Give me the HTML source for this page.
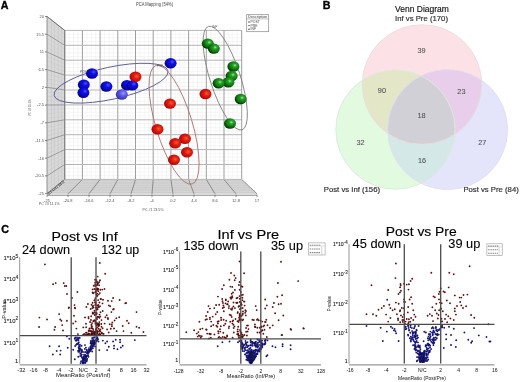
<!DOCTYPE html>
<html><head><meta charset="utf-8"><style>
html,body{margin:0;padding:0;background:#fff;width:520px;height:382px;overflow:hidden}
svg{display:block;font-family:"Liberation Sans", sans-serif;filter:blur(0.35px)}
</style></head><body>
<svg width="520" height="382" viewBox="0 0 520 382" font-family='"Liberation Sans", sans-serif'>
<text x="0.80" y="8.80" font-size="10.7" fill="#000" text-anchor="start" font-weight="bold" stroke="#000" stroke-width="0.35">A</text>
<text x="154.50" y="6.20" font-size="4.6" fill="#444" text-anchor="middle" font-weight="normal" textLength="37" lengthAdjust="spacingAndGlyphs" >PCA Mapping (54%)</text>
<polygon points="47.0,16.5 64.7,30.4 64.7,179.4 47.0,193.6" fill="#d9d9d9"/>
<line x1="51.50" y1="20.03" x2="51.50" y2="189.99" stroke="#c4c4c4" stroke-width="0.6" />
<line x1="54.50" y1="22.39" x2="54.50" y2="187.58" stroke="#c4c4c4" stroke-width="0.6" />
<line x1="58.30" y1="25.37" x2="58.30" y2="184.53" stroke="#c4c4c4" stroke-width="0.6" />
<line x1="61.50" y1="27.89" x2="61.50" y2="181.97" stroke="#c4c4c4" stroke-width="0.6" />
<line x1="47.00" y1="16.50" x2="64.70" y2="30.40" stroke="#8a8a8a" stroke-width="0.8" />
<line x1="47.00" y1="20.93" x2="64.70" y2="34.12" stroke="#c8c8c8" stroke-width="0.5" />
<line x1="47.00" y1="25.36" x2="64.70" y2="37.85" stroke="#c8c8c8" stroke-width="0.5" />
<line x1="47.00" y1="29.78" x2="64.70" y2="41.58" stroke="#c8c8c8" stroke-width="0.5" />
<line x1="47.00" y1="34.21" x2="64.70" y2="45.30" stroke="#8a8a8a" stroke-width="0.8" />
<line x1="47.00" y1="38.64" x2="64.70" y2="49.02" stroke="#c8c8c8" stroke-width="0.5" />
<line x1="47.00" y1="43.06" x2="64.70" y2="52.75" stroke="#c8c8c8" stroke-width="0.5" />
<line x1="47.00" y1="47.49" x2="64.70" y2="56.47" stroke="#c8c8c8" stroke-width="0.5" />
<line x1="47.00" y1="51.92" x2="64.70" y2="60.20" stroke="#8a8a8a" stroke-width="0.8" />
<line x1="47.00" y1="56.35" x2="64.70" y2="63.93" stroke="#c8c8c8" stroke-width="0.5" />
<line x1="47.00" y1="60.78" x2="64.70" y2="67.65" stroke="#c8c8c8" stroke-width="0.5" />
<line x1="47.00" y1="65.20" x2="64.70" y2="71.38" stroke="#c8c8c8" stroke-width="0.5" />
<line x1="47.00" y1="69.63" x2="64.70" y2="75.10" stroke="#8a8a8a" stroke-width="0.8" />
<line x1="47.00" y1="74.06" x2="64.70" y2="78.82" stroke="#c8c8c8" stroke-width="0.5" />
<line x1="47.00" y1="78.48" x2="64.70" y2="82.55" stroke="#c8c8c8" stroke-width="0.5" />
<line x1="47.00" y1="82.91" x2="64.70" y2="86.27" stroke="#c8c8c8" stroke-width="0.5" />
<line x1="47.00" y1="87.34" x2="64.70" y2="90.00" stroke="#8a8a8a" stroke-width="0.8" />
<line x1="47.00" y1="91.77" x2="64.70" y2="93.72" stroke="#c8c8c8" stroke-width="0.5" />
<line x1="47.00" y1="96.20" x2="64.70" y2="97.45" stroke="#c8c8c8" stroke-width="0.5" />
<line x1="47.00" y1="100.62" x2="64.70" y2="101.17" stroke="#c8c8c8" stroke-width="0.5" />
<line x1="47.00" y1="105.05" x2="64.70" y2="104.90" stroke="#8a8a8a" stroke-width="0.8" />
<line x1="47.00" y1="109.48" x2="64.70" y2="108.62" stroke="#c8c8c8" stroke-width="0.5" />
<line x1="47.00" y1="113.91" x2="64.70" y2="112.35" stroke="#c8c8c8" stroke-width="0.5" />
<line x1="47.00" y1="118.33" x2="64.70" y2="116.08" stroke="#c8c8c8" stroke-width="0.5" />
<line x1="47.00" y1="122.76" x2="64.70" y2="119.80" stroke="#8a8a8a" stroke-width="0.8" />
<line x1="47.00" y1="127.19" x2="64.70" y2="123.53" stroke="#c8c8c8" stroke-width="0.5" />
<line x1="47.00" y1="131.61" x2="64.70" y2="127.25" stroke="#c8c8c8" stroke-width="0.5" />
<line x1="47.00" y1="136.04" x2="64.70" y2="130.98" stroke="#c8c8c8" stroke-width="0.5" />
<line x1="47.00" y1="140.47" x2="64.70" y2="134.70" stroke="#8a8a8a" stroke-width="0.8" />
<line x1="47.00" y1="144.90" x2="64.70" y2="138.42" stroke="#c8c8c8" stroke-width="0.5" />
<line x1="47.00" y1="149.32" x2="64.70" y2="142.15" stroke="#c8c8c8" stroke-width="0.5" />
<line x1="47.00" y1="153.75" x2="64.70" y2="145.88" stroke="#c8c8c8" stroke-width="0.5" />
<line x1="47.00" y1="158.18" x2="64.70" y2="149.60" stroke="#8a8a8a" stroke-width="0.8" />
<line x1="47.00" y1="162.61" x2="64.70" y2="153.32" stroke="#c8c8c8" stroke-width="0.5" />
<line x1="47.00" y1="167.03" x2="64.70" y2="157.05" stroke="#c8c8c8" stroke-width="0.5" />
<line x1="47.00" y1="171.46" x2="64.70" y2="160.78" stroke="#c8c8c8" stroke-width="0.5" />
<line x1="47.00" y1="175.89" x2="64.70" y2="164.50" stroke="#8a8a8a" stroke-width="0.8" />
<line x1="47.00" y1="180.32" x2="64.70" y2="168.22" stroke="#c8c8c8" stroke-width="0.5" />
<line x1="47.00" y1="184.74" x2="64.70" y2="171.95" stroke="#c8c8c8" stroke-width="0.5" />
<line x1="47.00" y1="189.17" x2="64.70" y2="175.68" stroke="#c8c8c8" stroke-width="0.5" />
<line x1="47.00" y1="193.60" x2="64.70" y2="179.40" stroke="#8a8a8a" stroke-width="0.8" />
<polygon points="47.0,193.8 64.7,179.4 241.7,179.4 257.0,193.8" fill="#cdcdcd"/>
<line x1="61.75" y1="181.80" x2="244.25" y2="181.80" stroke="#dedede" stroke-width="0.5" />
<line x1="58.80" y1="184.20" x2="246.80" y2="184.20" stroke="#dedede" stroke-width="0.5" />
<line x1="55.85" y1="186.60" x2="249.35" y2="186.60" stroke="#dedede" stroke-width="0.5" />
<line x1="52.90" y1="189.00" x2="251.90" y2="189.00" stroke="#dedede" stroke-width="0.5" />
<line x1="49.95" y1="191.40" x2="254.45" y2="191.40" stroke="#dedede" stroke-width="0.5" />
<line x1="64.70" y1="179.40" x2="47.00" y2="193.80" stroke="#7a7a7a" stroke-width="0.8" />
<line x1="82.40" y1="179.40" x2="68.00" y2="193.80" stroke="#7a7a7a" stroke-width="0.8" />
<line x1="100.10" y1="179.40" x2="89.00" y2="193.80" stroke="#7a7a7a" stroke-width="0.8" />
<line x1="117.80" y1="179.40" x2="110.00" y2="193.80" stroke="#7a7a7a" stroke-width="0.8" />
<line x1="135.50" y1="179.40" x2="131.00" y2="193.80" stroke="#7a7a7a" stroke-width="0.8" />
<line x1="153.20" y1="179.40" x2="152.00" y2="193.80" stroke="#7a7a7a" stroke-width="0.8" />
<line x1="170.90" y1="179.40" x2="173.00" y2="193.80" stroke="#7a7a7a" stroke-width="0.8" />
<line x1="188.60" y1="179.40" x2="194.00" y2="193.80" stroke="#7a7a7a" stroke-width="0.8" />
<line x1="206.30" y1="179.40" x2="215.00" y2="193.80" stroke="#7a7a7a" stroke-width="0.8" />
<line x1="224.00" y1="179.40" x2="236.00" y2="193.80" stroke="#7a7a7a" stroke-width="0.8" />
<line x1="241.70" y1="179.40" x2="257.00" y2="193.80" stroke="#7a7a7a" stroke-width="0.8" />
<rect x="47.0" y="194.6" width="210.0" height="1.4" fill="#a8a8a8"/>
<line x1="47.00" y1="194.60" x2="47.00" y2="197.20" stroke="#555" stroke-width="0.6" />
<line x1="68.00" y1="194.60" x2="68.00" y2="197.20" stroke="#555" stroke-width="0.6" />
<line x1="89.00" y1="194.60" x2="89.00" y2="197.20" stroke="#555" stroke-width="0.6" />
<line x1="110.00" y1="194.60" x2="110.00" y2="197.20" stroke="#555" stroke-width="0.6" />
<line x1="131.00" y1="194.60" x2="131.00" y2="197.20" stroke="#555" stroke-width="0.6" />
<line x1="152.00" y1="194.60" x2="152.00" y2="197.20" stroke="#555" stroke-width="0.6" />
<line x1="173.00" y1="194.60" x2="173.00" y2="197.20" stroke="#555" stroke-width="0.6" />
<line x1="194.00" y1="194.60" x2="194.00" y2="197.20" stroke="#555" stroke-width="0.6" />
<line x1="215.00" y1="194.60" x2="215.00" y2="197.20" stroke="#555" stroke-width="0.6" />
<line x1="236.00" y1="194.60" x2="236.00" y2="197.20" stroke="#555" stroke-width="0.6" />
<line x1="257.00" y1="194.60" x2="257.00" y2="197.20" stroke="#555" stroke-width="0.6" />
<rect x="64.7" y="30.4" width="177.0" height="149.0" fill="#ffffff"/>
<line x1="69.12" y1="30.40" x2="69.12" y2="179.40" stroke="#ececec" stroke-width="0.5" />
<line x1="64.70" y1="34.12" x2="241.70" y2="34.12" stroke="#ececec" stroke-width="0.5" />
<line x1="73.55" y1="30.40" x2="73.55" y2="179.40" stroke="#ececec" stroke-width="0.5" />
<line x1="64.70" y1="37.85" x2="241.70" y2="37.85" stroke="#ececec" stroke-width="0.5" />
<line x1="77.97" y1="30.40" x2="77.97" y2="179.40" stroke="#ececec" stroke-width="0.5" />
<line x1="64.70" y1="41.58" x2="241.70" y2="41.58" stroke="#ececec" stroke-width="0.5" />
<line x1="86.83" y1="30.40" x2="86.83" y2="179.40" stroke="#ececec" stroke-width="0.5" />
<line x1="64.70" y1="49.02" x2="241.70" y2="49.02" stroke="#ececec" stroke-width="0.5" />
<line x1="91.25" y1="30.40" x2="91.25" y2="179.40" stroke="#ececec" stroke-width="0.5" />
<line x1="64.70" y1="52.75" x2="241.70" y2="52.75" stroke="#ececec" stroke-width="0.5" />
<line x1="95.67" y1="30.40" x2="95.67" y2="179.40" stroke="#ececec" stroke-width="0.5" />
<line x1="64.70" y1="56.47" x2="241.70" y2="56.47" stroke="#ececec" stroke-width="0.5" />
<line x1="104.53" y1="30.40" x2="104.53" y2="179.40" stroke="#ececec" stroke-width="0.5" />
<line x1="64.70" y1="63.92" x2="241.70" y2="63.92" stroke="#ececec" stroke-width="0.5" />
<line x1="108.95" y1="30.40" x2="108.95" y2="179.40" stroke="#ececec" stroke-width="0.5" />
<line x1="64.70" y1="67.65" x2="241.70" y2="67.65" stroke="#ececec" stroke-width="0.5" />
<line x1="113.38" y1="30.40" x2="113.38" y2="179.40" stroke="#ececec" stroke-width="0.5" />
<line x1="64.70" y1="71.38" x2="241.70" y2="71.38" stroke="#ececec" stroke-width="0.5" />
<line x1="122.22" y1="30.40" x2="122.22" y2="179.40" stroke="#ececec" stroke-width="0.5" />
<line x1="64.70" y1="78.83" x2="241.70" y2="78.83" stroke="#ececec" stroke-width="0.5" />
<line x1="126.65" y1="30.40" x2="126.65" y2="179.40" stroke="#ececec" stroke-width="0.5" />
<line x1="64.70" y1="82.55" x2="241.70" y2="82.55" stroke="#ececec" stroke-width="0.5" />
<line x1="131.07" y1="30.40" x2="131.07" y2="179.40" stroke="#ececec" stroke-width="0.5" />
<line x1="64.70" y1="86.28" x2="241.70" y2="86.28" stroke="#ececec" stroke-width="0.5" />
<line x1="139.93" y1="30.40" x2="139.93" y2="179.40" stroke="#ececec" stroke-width="0.5" />
<line x1="64.70" y1="93.72" x2="241.70" y2="93.72" stroke="#ececec" stroke-width="0.5" />
<line x1="144.35" y1="30.40" x2="144.35" y2="179.40" stroke="#ececec" stroke-width="0.5" />
<line x1="64.70" y1="97.45" x2="241.70" y2="97.45" stroke="#ececec" stroke-width="0.5" />
<line x1="148.78" y1="30.40" x2="148.78" y2="179.40" stroke="#ececec" stroke-width="0.5" />
<line x1="64.70" y1="101.18" x2="241.70" y2="101.18" stroke="#ececec" stroke-width="0.5" />
<line x1="157.62" y1="30.40" x2="157.62" y2="179.40" stroke="#ececec" stroke-width="0.5" />
<line x1="64.70" y1="108.62" x2="241.70" y2="108.62" stroke="#ececec" stroke-width="0.5" />
<line x1="162.05" y1="30.40" x2="162.05" y2="179.40" stroke="#ececec" stroke-width="0.5" />
<line x1="64.70" y1="112.35" x2="241.70" y2="112.35" stroke="#ececec" stroke-width="0.5" />
<line x1="166.47" y1="30.40" x2="166.47" y2="179.40" stroke="#ececec" stroke-width="0.5" />
<line x1="64.70" y1="116.07" x2="241.70" y2="116.07" stroke="#ececec" stroke-width="0.5" />
<line x1="175.32" y1="30.40" x2="175.32" y2="179.40" stroke="#ececec" stroke-width="0.5" />
<line x1="64.70" y1="123.53" x2="241.70" y2="123.53" stroke="#ececec" stroke-width="0.5" />
<line x1="179.75" y1="30.40" x2="179.75" y2="179.40" stroke="#ececec" stroke-width="0.5" />
<line x1="64.70" y1="127.25" x2="241.70" y2="127.25" stroke="#ececec" stroke-width="0.5" />
<line x1="184.18" y1="30.40" x2="184.18" y2="179.40" stroke="#ececec" stroke-width="0.5" />
<line x1="64.70" y1="130.97" x2="241.70" y2="130.97" stroke="#ececec" stroke-width="0.5" />
<line x1="193.02" y1="30.40" x2="193.02" y2="179.40" stroke="#ececec" stroke-width="0.5" />
<line x1="64.70" y1="138.43" x2="241.70" y2="138.43" stroke="#ececec" stroke-width="0.5" />
<line x1="197.45" y1="30.40" x2="197.45" y2="179.40" stroke="#ececec" stroke-width="0.5" />
<line x1="64.70" y1="142.15" x2="241.70" y2="142.15" stroke="#ececec" stroke-width="0.5" />
<line x1="201.88" y1="30.40" x2="201.88" y2="179.40" stroke="#ececec" stroke-width="0.5" />
<line x1="64.70" y1="145.88" x2="241.70" y2="145.88" stroke="#ececec" stroke-width="0.5" />
<line x1="210.73" y1="30.40" x2="210.73" y2="179.40" stroke="#ececec" stroke-width="0.5" />
<line x1="64.70" y1="153.32" x2="241.70" y2="153.32" stroke="#ececec" stroke-width="0.5" />
<line x1="215.15" y1="30.40" x2="215.15" y2="179.40" stroke="#ececec" stroke-width="0.5" />
<line x1="64.70" y1="157.05" x2="241.70" y2="157.05" stroke="#ececec" stroke-width="0.5" />
<line x1="219.57" y1="30.40" x2="219.57" y2="179.40" stroke="#ececec" stroke-width="0.5" />
<line x1="64.70" y1="160.78" x2="241.70" y2="160.78" stroke="#ececec" stroke-width="0.5" />
<line x1="228.43" y1="30.40" x2="228.43" y2="179.40" stroke="#ececec" stroke-width="0.5" />
<line x1="64.70" y1="168.23" x2="241.70" y2="168.23" stroke="#ececec" stroke-width="0.5" />
<line x1="232.85" y1="30.40" x2="232.85" y2="179.40" stroke="#ececec" stroke-width="0.5" />
<line x1="64.70" y1="171.95" x2="241.70" y2="171.95" stroke="#ececec" stroke-width="0.5" />
<line x1="237.27" y1="30.40" x2="237.27" y2="179.40" stroke="#ececec" stroke-width="0.5" />
<line x1="64.70" y1="175.68" x2="241.70" y2="175.68" stroke="#ececec" stroke-width="0.5" />
<line x1="64.70" y1="30.40" x2="64.70" y2="179.40" stroke="#8c8c8c" stroke-width="0.85" />
<line x1="64.70" y1="30.40" x2="241.70" y2="30.40" stroke="#b6b6b6" stroke-width="1.0" />
<line x1="82.40" y1="30.40" x2="82.40" y2="179.40" stroke="#8c8c8c" stroke-width="0.85" />
<line x1="64.70" y1="45.30" x2="241.70" y2="45.30" stroke="#b6b6b6" stroke-width="1.0" />
<line x1="100.10" y1="30.40" x2="100.10" y2="179.40" stroke="#8c8c8c" stroke-width="0.85" />
<line x1="64.70" y1="60.20" x2="241.70" y2="60.20" stroke="#b6b6b6" stroke-width="1.0" />
<line x1="117.80" y1="30.40" x2="117.80" y2="179.40" stroke="#8c8c8c" stroke-width="0.85" />
<line x1="64.70" y1="75.10" x2="241.70" y2="75.10" stroke="#b6b6b6" stroke-width="1.0" />
<line x1="135.50" y1="30.40" x2="135.50" y2="179.40" stroke="#8c8c8c" stroke-width="0.85" />
<line x1="64.70" y1="90.00" x2="241.70" y2="90.00" stroke="#b6b6b6" stroke-width="1.0" />
<line x1="153.20" y1="30.40" x2="153.20" y2="179.40" stroke="#8c8c8c" stroke-width="0.85" />
<line x1="64.70" y1="104.90" x2="241.70" y2="104.90" stroke="#b6b6b6" stroke-width="1.0" />
<line x1="170.90" y1="30.40" x2="170.90" y2="179.40" stroke="#8c8c8c" stroke-width="0.85" />
<line x1="64.70" y1="119.80" x2="241.70" y2="119.80" stroke="#b6b6b6" stroke-width="1.0" />
<line x1="188.60" y1="30.40" x2="188.60" y2="179.40" stroke="#8c8c8c" stroke-width="0.85" />
<line x1="64.70" y1="134.70" x2="241.70" y2="134.70" stroke="#b6b6b6" stroke-width="1.0" />
<line x1="206.30" y1="30.40" x2="206.30" y2="179.40" stroke="#8c8c8c" stroke-width="0.85" />
<line x1="64.70" y1="149.60" x2="241.70" y2="149.60" stroke="#b6b6b6" stroke-width="1.0" />
<line x1="224.00" y1="30.40" x2="224.00" y2="179.40" stroke="#8c8c8c" stroke-width="0.85" />
<line x1="64.70" y1="164.50" x2="241.70" y2="164.50" stroke="#b6b6b6" stroke-width="1.0" />
<line x1="241.70" y1="30.40" x2="241.70" y2="179.40" stroke="#8c8c8c" stroke-width="0.85" />
<line x1="64.70" y1="179.40" x2="241.70" y2="179.40" stroke="#b6b6b6" stroke-width="1.0" />
<line x1="64.70" y1="29.90" x2="64.70" y2="179.40" stroke="#808080" stroke-width="1.1" />
<line x1="47.00" y1="16.50" x2="47.00" y2="193.60" stroke="#909090" stroke-width="1.0" />
<line x1="47.00" y1="16.50" x2="64.70" y2="30.40" stroke="#707070" stroke-width="0.9" />
<line x1="45.00" y1="16.50" x2="47.00" y2="16.50" stroke="#555" stroke-width="0.7" />
<text x="44.00" y="17.90" font-size="4.0" fill="#555" text-anchor="end" font-weight="normal" >20</text>
<line x1="45.00" y1="34.21" x2="47.00" y2="34.21" stroke="#555" stroke-width="0.7" />
<text x="44.00" y="35.61" font-size="4.0" fill="#555" text-anchor="end" font-weight="normal" >15.5</text>
<line x1="45.00" y1="51.92" x2="47.00" y2="51.92" stroke="#555" stroke-width="0.7" />
<text x="44.00" y="53.32" font-size="4.0" fill="#555" text-anchor="end" font-weight="normal" >11</text>
<line x1="45.00" y1="69.63" x2="47.00" y2="69.63" stroke="#555" stroke-width="0.7" />
<text x="44.00" y="71.03" font-size="4.0" fill="#555" text-anchor="end" font-weight="normal" >6.5</text>
<line x1="45.00" y1="87.34" x2="47.00" y2="87.34" stroke="#555" stroke-width="0.7" />
<text x="44.00" y="88.74" font-size="4.0" fill="#555" text-anchor="end" font-weight="normal" >2</text>
<line x1="45.00" y1="105.05" x2="47.00" y2="105.05" stroke="#555" stroke-width="0.7" />
<text x="44.00" y="106.45" font-size="4.0" fill="#555" text-anchor="end" font-weight="normal" >-2.5</text>
<line x1="45.00" y1="122.76" x2="47.00" y2="122.76" stroke="#555" stroke-width="0.7" />
<text x="44.00" y="124.16" font-size="4.0" fill="#555" text-anchor="end" font-weight="normal" >-7</text>
<line x1="45.00" y1="140.47" x2="47.00" y2="140.47" stroke="#555" stroke-width="0.7" />
<text x="44.00" y="141.87" font-size="4.0" fill="#555" text-anchor="end" font-weight="normal" >-11.5</text>
<line x1="45.00" y1="158.18" x2="47.00" y2="158.18" stroke="#555" stroke-width="0.7" />
<text x="44.00" y="159.58" font-size="4.0" fill="#555" text-anchor="end" font-weight="normal" >-16</text>
<line x1="45.00" y1="175.89" x2="47.00" y2="175.89" stroke="#555" stroke-width="0.7" />
<text x="44.00" y="177.29" font-size="4.0" fill="#555" text-anchor="end" font-weight="normal" >-20.5</text>
<line x1="45.00" y1="193.60" x2="47.00" y2="193.60" stroke="#555" stroke-width="0.7" />
<text x="44.00" y="195.00" font-size="4.0" fill="#555" text-anchor="end" font-weight="normal" >-25</text>
<text x="47.00" y="201.50" font-size="4.0" fill="#555" text-anchor="middle" font-weight="normal" >-25</text>
<text x="68.00" y="201.50" font-size="4.0" fill="#555" text-anchor="middle" font-weight="normal" >-20.8</text>
<text x="89.00" y="201.50" font-size="4.0" fill="#555" text-anchor="middle" font-weight="normal" >-16.6</text>
<text x="110.00" y="201.50" font-size="4.0" fill="#555" text-anchor="middle" font-weight="normal" >-12.4</text>
<text x="131.00" y="201.50" font-size="4.0" fill="#555" text-anchor="middle" font-weight="normal" >-8.2</text>
<text x="152.00" y="201.50" font-size="4.0" fill="#555" text-anchor="middle" font-weight="normal" >-4</text>
<text x="173.00" y="201.50" font-size="4.0" fill="#555" text-anchor="middle" font-weight="normal" >0.2</text>
<text x="194.00" y="201.50" font-size="4.0" fill="#555" text-anchor="middle" font-weight="normal" >4.4</text>
<text x="215.00" y="201.50" font-size="4.0" fill="#555" text-anchor="middle" font-weight="normal" >8.6</text>
<text x="236.00" y="201.50" font-size="4.0" fill="#555" text-anchor="middle" font-weight="normal" >12.8</text>
<text x="257.00" y="201.50" font-size="4.0" fill="#555" text-anchor="middle" font-weight="normal" >17</text>
<text x="153.00" y="210.80" font-size="4.0" fill="#555" text-anchor="middle" font-weight="normal" textLength="21" lengthAdjust="spacingAndGlyphs" >PC #1 23.5%</text>
<text x="49.30" y="204.50" font-size="4.0" fill="#555" text-anchor="middle" font-weight="normal" textLength="21" lengthAdjust="spacingAndGlyphs" >PC #3 11.1%</text>
<text x="0" y="0" font-size="4.0" fill="#555" text-anchor="middle" transform="translate(30.8,107.5) rotate(-90)" textLength="16" lengthAdjust="spacingAndGlyphs">PC #2 15.1%</text>
<text x="0" y="0" font-size="3.6" font-weight="bold" fill="#222" transform="translate(48.3,195.4) rotate(-38.7)" textLength="21" lengthAdjust="spacingAndGlyphs">-12.9 -4.4 4.1 12.6 21</text>
<rect x="246.7" y="14.7" width="22" height="17" fill="#fff" stroke="#888" stroke-width="0.7"/>
<line x1="246.70" y1="18.90" x2="268.70" y2="18.90" stroke="#888" stroke-width="0.5" />
<text x="257.70" y="18.20" font-size="3.4" fill="#444" text-anchor="middle" font-weight="normal" textLength="19" lengthAdjust="spacingAndGlyphs" >Description</text>
<circle cx="249" cy="22.00" r="0.7" fill="#222"/>
<text x="250.50" y="23.00" font-size="3.4" fill="#444" text-anchor="start" font-weight="normal" >POST</text>
<circle cx="249" cy="25.60" r="0.7" fill="#222"/>
<text x="250.50" y="26.60" font-size="3.4" fill="#444" text-anchor="start" font-weight="normal" >PRE</text>
<circle cx="249" cy="29.20" r="0.7" fill="#222"/>
<text x="250.50" y="30.20" font-size="3.4" fill="#444" text-anchor="start" font-weight="normal" >INF</text>
<ellipse cx="111.06" cy="83.19" rx="58.25" ry="16.06" transform="rotate(-12.2 111.06 83.19)" fill="none" stroke="#5a5a96" stroke-width="0.9"/>
<ellipse cx="174.07" cy="124.73" rx="61.97" ry="18.18" transform="rotate(73.1 174.07 124.73)" fill="none" stroke="#a86a6a" stroke-width="0.8"/>
<ellipse cx="225.23" cy="78.14" rx="54.42" ry="15.13" transform="rotate(72 225.23 78.14)" fill="none" stroke="#7a7a7a" stroke-width="0.8"/>
<text x="80.00" y="72.50" font-size="3" fill="#555" text-anchor="start" font-weight="normal" >POST</text>
<text x="157.00" y="66.50" font-size="3" fill="#555" text-anchor="start" font-weight="normal" >PRE</text>
<text x="212.50" y="27.50" font-size="3" fill="#555" text-anchor="start" font-weight="normal" >INF</text>
<defs>
<radialGradient id="gb" cx="0.64" cy="0.36" r="0.7"><stop offset="0" stop-color="#5050ff"/><stop offset="0.3" stop-color="#1010e6"/><stop offset="0.75" stop-color="#0606b4"/><stop offset="1" stop-color="#00006a"/></radialGradient>
<radialGradient id="glb" cx="0.62" cy="0.38" r="0.65"><stop offset="0" stop-color="#9a9aff"/><stop offset="0.4" stop-color="#5c5ce8"/><stop offset="1" stop-color="#3030a8"/></radialGradient>
<radialGradient id="gr" cx="0.6" cy="0.45" r="0.65"><stop offset="0" stop-color="#f05a30"/><stop offset="0.4" stop-color="#e01c10"/><stop offset="0.8" stop-color="#c00808"/><stop offset="1" stop-color="#700000"/></radialGradient>
<radialGradient id="gg" cx="0.62" cy="0.38" r="0.65"><stop offset="0" stop-color="#90f090"/><stop offset="0.25" stop-color="#2aa02a"/><stop offset="0.7" stop-color="#0a700a"/><stop offset="1" stop-color="#003000"/></radialGradient>
</defs>
<ellipse cx="127.0" cy="85.2" rx="6.0" ry="5.2" fill="url(#gb)"/>
<ellipse cx="132.3" cy="85.4" rx="6.0" ry="5.2" fill="url(#gb)"/>
<ellipse cx="92.0" cy="73.5" rx="6.0" ry="5.2" fill="url(#gb)"/>
<ellipse cx="83.8" cy="84.8" rx="6.0" ry="5.2" fill="url(#gb)"/>
<ellipse cx="83.4" cy="92.7" rx="6.0" ry="5.2" fill="url(#gb)"/>
<ellipse cx="106.4" cy="86.5" rx="6.0" ry="5.2" fill="url(#gb)"/>
<ellipse cx="121.8" cy="94.5" rx="6.0" ry="5.2" fill="url(#glb)"/>
<ellipse cx="170.6" cy="63.3" rx="6.0" ry="5.2" fill="url(#gb)"/>
<ellipse cx="135.5" cy="76.8" rx="6.0" ry="5.2" fill="url(#gr)"/>
<ellipse cx="170.0" cy="103.6" rx="6.0" ry="5.2" fill="url(#gr)"/>
<ellipse cx="205.5" cy="94.0" rx="6.0" ry="5.2" fill="url(#gr)"/>
<ellipse cx="157.5" cy="129.2" rx="6.0" ry="5.2" fill="url(#gr)"/>
<ellipse cx="185.0" cy="138.8" rx="6.0" ry="5.2" fill="url(#gr)"/>
<ellipse cx="175.2" cy="143.2" rx="6.0" ry="5.2" fill="url(#gr)"/>
<ellipse cx="187.0" cy="152.3" rx="6.0" ry="5.2" fill="url(#gr)"/>
<ellipse cx="174.0" cy="159.7" rx="6.0" ry="5.2" fill="url(#gr)"/>
<ellipse cx="207.8" cy="43.6" rx="6.0" ry="5.2" fill="url(#gg)"/>
<ellipse cx="213.8" cy="48.6" rx="6.0" ry="5.2" fill="url(#gg)"/>
<ellipse cx="233.4" cy="66.5" rx="6.0" ry="5.2" fill="url(#gg)"/>
<ellipse cx="231.6" cy="76.0" rx="6.0" ry="5.2" fill="url(#gg)"/>
<ellipse cx="228.4" cy="82.3" rx="6.0" ry="5.2" fill="url(#gg)"/>
<ellipse cx="218.6" cy="83.3" rx="6.0" ry="5.2" fill="url(#gg)"/>
<ellipse cx="240.7" cy="99.0" rx="6.0" ry="5.2" fill="url(#gg)"/>
<ellipse cx="230.0" cy="123.5" rx="6.0" ry="5.2" fill="url(#gg)"/>
<text x="322.70" y="9.20" font-size="10.7" fill="#000" text-anchor="start" font-weight="bold" stroke="#000" stroke-width="0.35">B</text>
<defs><clipPath id="cR"><circle cx="422" cy="84.5" r="59.8" fill="#000" /></clipPath><clipPath id="cG"><circle cx="395.4" cy="129.6" r="59.6" fill="#000" /></clipPath><clipPath id="cB"><circle cx="447.6" cy="129.6" r="60" fill="#000" /></clipPath></defs>
<circle cx="422" cy="84.5" r="59.8" fill="#fce2e6" />
<circle cx="395.4" cy="129.6" r="59.6" fill="#e2fae0" />
<circle cx="447.6" cy="129.6" r="60" fill="#e4e4fa" />
<g clip-path="url(#cR)"><circle cx="395.4" cy="129.6" r="59.6" fill="#e4e6c8" /><circle cx="447.6" cy="129.6" r="60" fill="#e8ceea" /></g>
<g clip-path="url(#cG)"><circle cx="447.6" cy="129.6" r="60" fill="#d4e8e8" /></g>
<g clip-path="url(#cR)"><g clip-path="url(#cG)"><circle cx="447.6" cy="129.6" r="60" fill="#d0d0d6" /></g></g>
<circle cx="422" cy="84.5" r="59.8" fill="none" stroke="#ecdcdc" stroke-width="0.9"/>
<circle cx="395.4" cy="129.6" r="59.6" fill="none" stroke="#dceadc" stroke-width="0.9"/>
<circle cx="447.6" cy="129.6" r="60" fill="none" stroke="#e0e0ee" stroke-width="0.9"/>
<text x="422.00" y="12.30" font-size="8.4" fill="#111" text-anchor="middle" font-weight="normal" textLength="53.8" lengthAdjust="spacingAndGlyphs" stroke="#111" stroke-width="0.15">Venn Diagram</text>
<text x="421.50" y="21.20" font-size="7.5" fill="#333" text-anchor="middle" font-weight="normal" textLength="53" lengthAdjust="spacingAndGlyphs" stroke="#333" stroke-width="0.18">Inf vs Pre (170)</text>
<text x="351.90" y="191.90" font-size="8.0" fill="#333" text-anchor="middle" font-weight="normal" textLength="56.2" lengthAdjust="spacingAndGlyphs" stroke="#333" stroke-width="0.2">Post vs Inf (156)</text>
<text x="491.10" y="192.00" font-size="8.0" fill="#333" text-anchor="middle" font-weight="normal" textLength="55.4" lengthAdjust="spacingAndGlyphs" stroke="#333" stroke-width="0.2">Post vs Pre (84)</text>
<text x="421.60" y="53.20" font-size="7.3" fill="#555" text-anchor="middle" font-weight="normal" stroke="#555" stroke-width="0.08">39</text>
<text x="381.90" y="93.30" font-size="7.3" fill="#555" text-anchor="middle" font-weight="normal" stroke="#555" stroke-width="0.08">90</text>
<text x="461.40" y="93.60" font-size="7.3" fill="#555" text-anchor="middle" font-weight="normal" stroke="#555" stroke-width="0.08">23</text>
<text x="421.60" y="117.70" font-size="7.3" fill="#555" text-anchor="middle" font-weight="normal" stroke="#555" stroke-width="0.08">18</text>
<text x="360.60" y="145.20" font-size="7.3" fill="#555" text-anchor="middle" font-weight="normal" stroke="#555" stroke-width="0.08">32</text>
<text x="482.30" y="145.20" font-size="7.3" fill="#555" text-anchor="middle" font-weight="normal" stroke="#555" stroke-width="0.08">27</text>
<text x="422.00" y="162.70" font-size="7.3" fill="#555" text-anchor="middle" font-weight="normal" stroke="#555" stroke-width="0.08">16</text>
<text x="1.20" y="233.40" font-size="10.7" fill="#000" text-anchor="start" font-weight="bold" stroke="#000" stroke-width="0.35">C</text>
<circle cx="44.9" cy="264.4" r="0.95" fill="#8a2424"/>
<circle cx="53.1" cy="284.3" r="0.95" fill="#8a2424"/>
<circle cx="55.7" cy="283.1" r="0.95" fill="#8a2424"/>
<circle cx="63.7" cy="283.1" r="0.95" fill="#8a2424"/>
<circle cx="64.8" cy="286.0" r="0.95" fill="#8a2424"/>
<circle cx="66.3" cy="286.0" r="0.95" fill="#8a2424"/>
<circle cx="67.0" cy="293.9" r="0.95" fill="#8a2424"/>
<circle cx="77.4" cy="292.0" r="0.95" fill="#8a2424"/>
<circle cx="72.0" cy="297.9" r="0.95" fill="#8a2424"/>
<circle cx="74.5" cy="305.1" r="0.95" fill="#8a2424"/>
<circle cx="68.7" cy="308.0" r="0.95" fill="#8a2424"/>
<circle cx="75.2" cy="308.3" r="0.95" fill="#8a2424"/>
<circle cx="99.8" cy="262.9" r="0.95" fill="#8a2424"/>
<circle cx="105.2" cy="273.7" r="0.95" fill="#8a2424"/>
<circle cx="97.7" cy="276.6" r="0.95" fill="#8a2424"/>
<circle cx="95.1" cy="279.8" r="0.95" fill="#8a2424"/>
<circle cx="96.8" cy="281.7" r="0.95" fill="#8a2424"/>
<circle cx="98.3" cy="283.1" r="0.95" fill="#8a2424"/>
<circle cx="99.1" cy="285.3" r="0.95" fill="#8a2424"/>
<circle cx="102.3" cy="289.6" r="0.95" fill="#8a2424"/>
<circle cx="104.5" cy="288.9" r="0.95" fill="#8a2424"/>
<circle cx="92.9" cy="292.8" r="0.95" fill="#8a2424"/>
<circle cx="97.2" cy="293.6" r="0.95" fill="#8a2424"/>
<circle cx="98.7" cy="294.6" r="0.95" fill="#8a2424"/>
<circle cx="95.4" cy="298.2" r="0.95" fill="#8a2424"/>
<circle cx="100.9" cy="299.0" r="0.95" fill="#8a2424"/>
<circle cx="103.0" cy="299.7" r="0.95" fill="#8a2424"/>
<circle cx="113.1" cy="298.0" r="0.95" fill="#8a2424"/>
<circle cx="119.6" cy="300.0" r="0.95" fill="#8a2424"/>
<circle cx="108.0" cy="300.8" r="0.95" fill="#8a2424"/>
<circle cx="111.7" cy="301.1" r="0.95" fill="#8a2424"/>
<circle cx="125.3" cy="303.3" r="0.95" fill="#8a2424"/>
<circle cx="87.9" cy="304.0" r="0.95" fill="#8a2424"/>
<circle cx="91.5" cy="304.7" r="0.95" fill="#8a2424"/>
<circle cx="95.1" cy="302.5" r="0.95" fill="#8a2424"/>
<circle cx="99.4" cy="302.5" r="0.95" fill="#8a2424"/>
<circle cx="97.2" cy="305.4" r="0.95" fill="#8a2424"/>
<circle cx="108.8" cy="305.4" r="0.95" fill="#8a2424"/>
<circle cx="110.2" cy="306.2" r="0.95" fill="#8a2424"/>
<circle cx="113.8" cy="309.0" r="0.95" fill="#8a2424"/>
<circle cx="93.6" cy="307.6" r="0.95" fill="#8a2424"/>
<circle cx="86.4" cy="306.9" r="0.95" fill="#8a2424"/>
<circle cx="39.4" cy="317.6" r="0.95" fill="#8a2424"/>
<circle cx="47.0" cy="319.5" r="0.95" fill="#8a2424"/>
<circle cx="39.1" cy="327.0" r="0.95" fill="#8a2424"/>
<circle cx="59.1" cy="314.1" r="0.95" fill="#8a2424"/>
<circle cx="60.2" cy="319.5" r="0.95" fill="#8a2424"/>
<circle cx="61.4" cy="320.7" r="0.95" fill="#8a2424"/>
<circle cx="66.9" cy="320.7" r="0.95" fill="#8a2424"/>
<circle cx="62.2" cy="325.1" r="0.95" fill="#8a2424"/>
<circle cx="55.1" cy="327.0" r="0.95" fill="#8a2424"/>
<circle cx="54.4" cy="329.8" r="0.95" fill="#8a2424"/>
<circle cx="63.0" cy="330.5" r="0.95" fill="#8a2424"/>
<circle cx="69.0" cy="307.4" r="0.95" fill="#8a2424"/>
<circle cx="74.8" cy="307.8" r="0.95" fill="#8a2424"/>
<circle cx="74.0" cy="315.7" r="0.95" fill="#8a2424"/>
<circle cx="73.2" cy="323.5" r="0.95" fill="#8a2424"/>
<circle cx="76.4" cy="328.6" r="0.95" fill="#8a2424"/>
<circle cx="77.9" cy="334.1" r="0.95" fill="#8a2424"/>
<circle cx="75.6" cy="321.5" r="0.95" fill="#8a2424"/>
<circle cx="126.1" cy="303.1" r="0.95" fill="#8a2424"/>
<circle cx="136.5" cy="312.1" r="0.95" fill="#8a2424"/>
<circle cx="113.1" cy="309.5" r="0.95" fill="#8a2424"/>
<circle cx="111.4" cy="312.1" r="0.95" fill="#8a2424"/>
<circle cx="119.2" cy="317.3" r="0.95" fill="#8a2424"/>
<circle cx="127.0" cy="320.7" r="0.95" fill="#8a2424"/>
<circle cx="128.7" cy="323.3" r="0.95" fill="#8a2424"/>
<circle cx="136.5" cy="326.8" r="0.95" fill="#8a2424"/>
<circle cx="139.1" cy="327.7" r="0.95" fill="#8a2424"/>
<circle cx="143.4" cy="332.0" r="0.95" fill="#8a2424"/>
<circle cx="131.3" cy="332.8" r="0.95" fill="#8a2424"/>
<circle cx="122.7" cy="325.9" r="0.95" fill="#8a2424"/>
<circle cx="123.5" cy="331.1" r="0.95" fill="#8a2424"/>
<circle cx="112.3" cy="322.5" r="0.95" fill="#8a2424"/>
<circle cx="114.0" cy="328.5" r="0.95" fill="#8a2424"/>
<circle cx="116.6" cy="331.1" r="0.95" fill="#8a2424"/>
<circle cx="107.1" cy="329.4" r="0.95" fill="#8a2424"/>
<circle cx="109.7" cy="324.2" r="0.95" fill="#8a2424"/>
<circle cx="105.4" cy="317.3" r="0.95" fill="#8a2424"/>
<circle cx="108.0" cy="319.0" r="0.95" fill="#8a2424"/>
<circle cx="49.6" cy="346.2" r="0.95" fill="#2626a8"/>
<circle cx="59.1" cy="346.2" r="0.95" fill="#2626a8"/>
<circle cx="56.7" cy="350.9" r="0.95" fill="#2626a8"/>
<circle cx="60.6" cy="350.6" r="0.95" fill="#2626a8"/>
<circle cx="52.8" cy="354.5" r="0.95" fill="#2626a8"/>
<circle cx="60.2" cy="354.5" r="0.95" fill="#2626a8"/>
<circle cx="67.7" cy="347.7" r="0.95" fill="#2626a8"/>
<circle cx="66.9" cy="336.4" r="0.95" fill="#2626a8"/>
<circle cx="69.3" cy="338.8" r="0.95" fill="#2626a8"/>
<circle cx="73.2" cy="349.8" r="0.95" fill="#2626a8"/>
<circle cx="74.8" cy="359.2" r="0.95" fill="#2626a8"/>
<circle cx="74.8" cy="338.8" r="0.95" fill="#2626a8"/>
<circle cx="102.8" cy="340.6" r="0.95" fill="#2626a8"/>
<circle cx="107.1" cy="341.5" r="0.95" fill="#2626a8"/>
<circle cx="105.4" cy="343.2" r="0.95" fill="#2626a8"/>
<circle cx="113.1" cy="341.5" r="0.95" fill="#2626a8"/>
<circle cx="115.7" cy="339.8" r="0.95" fill="#2626a8"/>
<circle cx="120.1" cy="339.8" r="0.95" fill="#2626a8"/>
<circle cx="120.1" cy="342.3" r="0.95" fill="#2626a8"/>
<circle cx="114.0" cy="345.8" r="0.95" fill="#2626a8"/>
<circle cx="108.8" cy="346.7" r="0.95" fill="#2626a8"/>
<circle cx="107.1" cy="350.1" r="0.95" fill="#2626a8"/>
<circle cx="114.0" cy="348.4" r="0.95" fill="#2626a8"/>
<circle cx="117.5" cy="349.3" r="0.95" fill="#2626a8"/>
<circle cx="122.7" cy="345.8" r="0.95" fill="#2626a8"/>
<circle cx="120.9" cy="347.5" r="0.95" fill="#2626a8"/>
<circle cx="134.8" cy="340.1" r="0.95" fill="#2626a8"/>
<circle cx="98.5" cy="341.5" r="0.95" fill="#2626a8"/>
<circle cx="99.3" cy="350.1" r="0.95" fill="#2626a8"/>
<circle cx="86.0" cy="323.7" r="0.95" fill="#8a2424"/>
<circle cx="92.1" cy="323.1" r="0.95" fill="#8a2424"/>
<circle cx="93.6" cy="320.8" r="0.95" fill="#8a2424"/>
<circle cx="94.6" cy="320.6" r="0.95" fill="#8a2424"/>
<circle cx="96.7" cy="313.2" r="0.95" fill="#8a2424"/>
<circle cx="93.3" cy="329.9" r="0.95" fill="#8a2424"/>
<circle cx="98.9" cy="334.5" r="0.95" fill="#8a2424"/>
<circle cx="86.8" cy="334.9" r="0.95" fill="#8a2424"/>
<circle cx="99.3" cy="281.9" r="0.95" fill="#8a2424"/>
<circle cx="95.1" cy="314.2" r="0.95" fill="#8a2424"/>
<circle cx="102.8" cy="333.6" r="0.95" fill="#8a2424"/>
<circle cx="96.2" cy="334.8" r="0.95" fill="#8a2424"/>
<circle cx="95.6" cy="333.0" r="0.95" fill="#8a2424"/>
<circle cx="97.1" cy="323.2" r="0.95" fill="#8a2424"/>
<circle cx="99.1" cy="324.3" r="0.95" fill="#8a2424"/>
<circle cx="92.8" cy="312.5" r="0.95" fill="#8a2424"/>
<circle cx="93.4" cy="321.3" r="0.95" fill="#8a2424"/>
<circle cx="90.4" cy="330.7" r="0.95" fill="#8a2424"/>
<circle cx="100.0" cy="280.3" r="0.95" fill="#8a2424"/>
<circle cx="96.3" cy="307.4" r="0.95" fill="#8a2424"/>
<circle cx="96.3" cy="329.5" r="0.95" fill="#8a2424"/>
<circle cx="100.5" cy="334.7" r="0.95" fill="#8a2424"/>
<circle cx="92.6" cy="302.7" r="0.95" fill="#8a2424"/>
<circle cx="101.5" cy="326.8" r="0.95" fill="#8a2424"/>
<circle cx="97.4" cy="284.5" r="0.95" fill="#8a2424"/>
<circle cx="95.4" cy="332.6" r="0.95" fill="#8a2424"/>
<circle cx="92.6" cy="289.4" r="0.95" fill="#8a2424"/>
<circle cx="98.4" cy="326.3" r="0.95" fill="#8a2424"/>
<circle cx="88.3" cy="334.7" r="0.95" fill="#8a2424"/>
<circle cx="88.6" cy="331.0" r="0.95" fill="#8a2424"/>
<circle cx="87.8" cy="334.6" r="0.95" fill="#8a2424"/>
<circle cx="102.5" cy="303.4" r="0.95" fill="#8a2424"/>
<circle cx="95.6" cy="334.2" r="0.95" fill="#8a2424"/>
<circle cx="98.3" cy="334.8" r="0.95" fill="#8a2424"/>
<circle cx="98.1" cy="300.1" r="0.95" fill="#8a2424"/>
<circle cx="101.3" cy="324.0" r="0.95" fill="#8a2424"/>
<circle cx="95.2" cy="333.0" r="0.95" fill="#8a2424"/>
<circle cx="94.5" cy="312.2" r="0.95" fill="#8a2424"/>
<circle cx="91.9" cy="334.3" r="0.95" fill="#8a2424"/>
<circle cx="97.5" cy="331.0" r="0.95" fill="#8a2424"/>
<circle cx="97.8" cy="283.2" r="0.95" fill="#8a2424"/>
<circle cx="95.6" cy="291.9" r="0.95" fill="#8a2424"/>
<circle cx="86.6" cy="332.6" r="0.95" fill="#8a2424"/>
<circle cx="100.5" cy="312.3" r="0.95" fill="#8a2424"/>
<circle cx="99.7" cy="334.4" r="0.95" fill="#8a2424"/>
<circle cx="95.4" cy="331.3" r="0.95" fill="#8a2424"/>
<circle cx="95.7" cy="302.2" r="0.95" fill="#8a2424"/>
<circle cx="100.0" cy="334.7" r="0.95" fill="#8a2424"/>
<circle cx="91.6" cy="334.6" r="0.95" fill="#8a2424"/>
<circle cx="94.8" cy="315.1" r="0.95" fill="#8a2424"/>
<circle cx="83.3" cy="327.4" r="0.95" fill="#8a2424"/>
<circle cx="99.3" cy="322.1" r="0.95" fill="#8a2424"/>
<circle cx="97.8" cy="316.8" r="0.95" fill="#8a2424"/>
<circle cx="92.7" cy="333.7" r="0.95" fill="#8a2424"/>
<circle cx="97.7" cy="289.6" r="0.95" fill="#8a2424"/>
<circle cx="91.5" cy="333.0" r="0.95" fill="#8a2424"/>
<circle cx="98.3" cy="304.9" r="0.95" fill="#8a2424"/>
<circle cx="97.0" cy="285.3" r="0.95" fill="#8a2424"/>
<circle cx="95.6" cy="292.2" r="0.95" fill="#8a2424"/>
<circle cx="91.7" cy="334.4" r="0.95" fill="#8a2424"/>
<circle cx="99.9" cy="334.9" r="0.95" fill="#8a2424"/>
<circle cx="96.0" cy="307.7" r="0.95" fill="#8a2424"/>
<circle cx="99.0" cy="331.4" r="0.95" fill="#8a2424"/>
<circle cx="89.1" cy="330.3" r="0.95" fill="#8a2424"/>
<circle cx="95.2" cy="333.3" r="0.95" fill="#8a2424"/>
<circle cx="93.5" cy="332.1" r="0.95" fill="#8a2424"/>
<circle cx="99.5" cy="317.8" r="0.95" fill="#8a2424"/>
<circle cx="89.5" cy="330.7" r="0.95" fill="#8a2424"/>
<circle cx="97.3" cy="288.7" r="0.95" fill="#8a2424"/>
<circle cx="96.6" cy="331.0" r="0.95" fill="#8a2424"/>
<circle cx="98.6" cy="324.1" r="0.95" fill="#8a2424"/>
<circle cx="97.0" cy="327.5" r="0.95" fill="#8a2424"/>
<circle cx="98.7" cy="317.0" r="0.95" fill="#8a2424"/>
<circle cx="98.3" cy="291.3" r="0.95" fill="#8a2424"/>
<circle cx="96.3" cy="282.1" r="0.95" fill="#8a2424"/>
<circle cx="91.2" cy="316.2" r="0.95" fill="#8a2424"/>
<circle cx="96.6" cy="333.9" r="0.95" fill="#8a2424"/>
<circle cx="97.2" cy="289.4" r="0.95" fill="#8a2424"/>
<circle cx="97.1" cy="308.0" r="0.95" fill="#8a2424"/>
<circle cx="96.1" cy="312.7" r="0.95" fill="#8a2424"/>
<circle cx="95.5" cy="322.2" r="0.95" fill="#8a2424"/>
<circle cx="96.4" cy="280.1" r="0.95" fill="#8a2424"/>
<circle cx="86.0" cy="334.7" r="0.95" fill="#8a2424"/>
<circle cx="96.3" cy="290.4" r="0.95" fill="#8a2424"/>
<circle cx="95.2" cy="305.1" r="0.95" fill="#8a2424"/>
<circle cx="94.4" cy="289.0" r="0.95" fill="#8a2424"/>
<circle cx="91.3" cy="328.2" r="0.95" fill="#8a2424"/>
<circle cx="93.3" cy="293.3" r="0.95" fill="#8a2424"/>
<circle cx="98.3" cy="325.4" r="0.95" fill="#8a2424"/>
<circle cx="88.5" cy="317.0" r="0.95" fill="#8a2424"/>
<circle cx="92.8" cy="313.5" r="0.95" fill="#8a2424"/>
<circle cx="99.5" cy="314.6" r="0.95" fill="#8a2424"/>
<circle cx="83.2" cy="334.6" r="0.95" fill="#8a2424"/>
<circle cx="92.6" cy="292.4" r="0.95" fill="#8a2424"/>
<circle cx="93.0" cy="305.8" r="0.95" fill="#8a2424"/>
<circle cx="100.3" cy="316.4" r="0.95" fill="#8a2424"/>
<circle cx="96.9" cy="324.3" r="0.95" fill="#8a2424"/>
<circle cx="95.7" cy="304.0" r="0.95" fill="#8a2424"/>
<circle cx="89.9" cy="335.0" r="0.95" fill="#8a2424"/>
<circle cx="91.7" cy="332.1" r="0.95" fill="#8a2424"/>
<circle cx="92.3" cy="308.2" r="0.95" fill="#8a2424"/>
<circle cx="97.2" cy="288.4" r="0.95" fill="#8a2424"/>
<circle cx="100.4" cy="331.4" r="0.95" fill="#8a2424"/>
<circle cx="96.6" cy="309.7" r="0.95" fill="#8a2424"/>
<circle cx="101.7" cy="332.7" r="0.95" fill="#8a2424"/>
<circle cx="102.7" cy="311.0" r="0.95" fill="#8a2424"/>
<circle cx="99.2" cy="324.3" r="0.95" fill="#8a2424"/>
<circle cx="94.5" cy="310.6" r="0.95" fill="#8a2424"/>
<circle cx="86.0" cy="332.8" r="0.95" fill="#8a2424"/>
<circle cx="98.4" cy="289.0" r="0.95" fill="#8a2424"/>
<circle cx="95.3" cy="292.4" r="0.95" fill="#8a2424"/>
<circle cx="100.4" cy="329.5" r="0.95" fill="#8a2424"/>
<circle cx="84.2" cy="334.0" r="0.95" fill="#8a2424"/>
<circle cx="97.0" cy="295.4" r="0.95" fill="#8a2424"/>
<circle cx="98.8" cy="307.2" r="0.95" fill="#8a2424"/>
<circle cx="94.1" cy="333.4" r="0.95" fill="#8a2424"/>
<circle cx="95.4" cy="323.8" r="0.95" fill="#8a2424"/>
<circle cx="99.2" cy="325.6" r="0.95" fill="#8a2424"/>
<circle cx="93.2" cy="313.5" r="0.95" fill="#8a2424"/>
<circle cx="97.0" cy="296.3" r="0.95" fill="#8a2424"/>
<circle cx="96.9" cy="282.0" r="0.95" fill="#8a2424"/>
<circle cx="96.2" cy="334.9" r="0.95" fill="#8a2424"/>
<circle cx="99.8" cy="293.1" r="0.95" fill="#8a2424"/>
<circle cx="97.8" cy="317.1" r="0.95" fill="#8a2424"/>
<circle cx="96.0" cy="329.7" r="0.95" fill="#8a2424"/>
<circle cx="94.4" cy="334.0" r="0.95" fill="#8a2424"/>
<circle cx="104.6" cy="323.6" r="0.95" fill="#8a2424"/>
<circle cx="97.3" cy="331.9" r="0.95" fill="#8a2424"/>
<circle cx="103.6" cy="333.9" r="0.95" fill="#8a2424"/>
<circle cx="97.8" cy="324.0" r="0.95" fill="#8a2424"/>
<circle cx="92.7" cy="313.2" r="0.95" fill="#8a2424"/>
<circle cx="95.2" cy="284.5" r="0.95" fill="#8a2424"/>
<circle cx="97.6" cy="309.2" r="0.95" fill="#8a2424"/>
<circle cx="101.9" cy="333.2" r="0.95" fill="#8a2424"/>
<circle cx="86.0" cy="335.0" r="0.95" fill="#8a2424"/>
<circle cx="97.2" cy="333.2" r="0.95" fill="#8a2424"/>
<circle cx="90.8" cy="330.9" r="0.95" fill="#8a2424"/>
<circle cx="101.5" cy="320.1" r="0.95" fill="#8a2424"/>
<circle cx="96.4" cy="314.2" r="0.95" fill="#8a2424"/>
<circle cx="94.4" cy="300.5" r="0.95" fill="#8a2424"/>
<circle cx="100.4" cy="289.8" r="0.95" fill="#8a2424"/>
<circle cx="100.0" cy="306.3" r="0.95" fill="#8a2424"/>
<circle cx="87.5" cy="334.1" r="0.95" fill="#8a2424"/>
<circle cx="97.8" cy="289.5" r="0.95" fill="#8a2424"/>
<circle cx="86.2" cy="327.2" r="0.95" fill="#8a2424"/>
<circle cx="94.7" cy="300.1" r="0.95" fill="#8a2424"/>
<circle cx="95.2" cy="286.0" r="0.95" fill="#8a2424"/>
<circle cx="97.5" cy="332.7" r="0.95" fill="#8a2424"/>
<circle cx="98.3" cy="306.3" r="0.95" fill="#8a2424"/>
<circle cx="92.7" cy="306.7" r="0.95" fill="#8a2424"/>
<circle cx="108.7" cy="332.5" r="0.95" fill="#8a2424"/>
<circle cx="95.2" cy="282.5" r="0.95" fill="#8a2424"/>
<circle cx="97.0" cy="319.1" r="0.95" fill="#8a2424"/>
<circle cx="95.8" cy="289.5" r="0.95" fill="#8a2424"/>
<circle cx="96.5" cy="294.7" r="0.95" fill="#8a2424"/>
<circle cx="97.5" cy="324.3" r="0.95" fill="#8a2424"/>
<circle cx="96.6" cy="318.3" r="0.95" fill="#8a2424"/>
<circle cx="88.5" cy="335.0" r="0.95" fill="#8a2424"/>
<circle cx="100.6" cy="299.0" r="0.95" fill="#8a2424"/>
<circle cx="99.7" cy="333.4" r="0.95" fill="#8a2424"/>
<circle cx="96.4" cy="328.8" r="0.95" fill="#8a2424"/>
<circle cx="92.4" cy="333.8" r="0.95" fill="#8a2424"/>
<circle cx="94.7" cy="320.3" r="0.95" fill="#8a2424"/>
<circle cx="90.6" cy="308.9" r="0.95" fill="#8a2424"/>
<circle cx="93.7" cy="285.8" r="0.95" fill="#8a2424"/>
<circle cx="111.8" cy="324.5" r="0.95" fill="#8a2424"/>
<circle cx="102.6" cy="328.3" r="0.95" fill="#8a2424"/>
<circle cx="106.7" cy="315.2" r="0.95" fill="#8a2424"/>
<circle cx="114.6" cy="320.5" r="0.95" fill="#8a2424"/>
<circle cx="110.8" cy="328.8" r="0.95" fill="#8a2424"/>
<circle cx="111.9" cy="326.2" r="0.95" fill="#8a2424"/>
<circle cx="107.9" cy="317.9" r="0.95" fill="#8a2424"/>
<circle cx="116.3" cy="318.2" r="0.95" fill="#8a2424"/>
<circle cx="91.6" cy="334.0" r="0.95" fill="#8a2424"/>
<circle cx="88.6" cy="318.4" r="0.95" fill="#8a2424"/>
<circle cx="92.8" cy="331.7" r="0.95" fill="#8a2424"/>
<circle cx="98.2" cy="324.5" r="0.95" fill="#8a2424"/>
<circle cx="91.7" cy="331.2" r="0.95" fill="#8a2424"/>
<circle cx="90.1" cy="322.0" r="0.95" fill="#8a2424"/>
<circle cx="94.2" cy="333.9" r="0.95" fill="#8a2424"/>
<circle cx="99.8" cy="330.3" r="0.95" fill="#8a2424"/>
<circle cx="94.5" cy="331.9" r="0.95" fill="#8a2424"/>
<circle cx="88.7" cy="333.5" r="0.95" fill="#8a2424"/>
<circle cx="92.0" cy="326.7" r="0.95" fill="#8a2424"/>
<circle cx="91.4" cy="324.7" r="0.95" fill="#8a2424"/>
<circle cx="92.3" cy="333.8" r="0.95" fill="#8a2424"/>
<circle cx="94.1" cy="332.7" r="0.95" fill="#8a2424"/>
<circle cx="85.0" cy="317.5" r="0.95" fill="#8a2424"/>
<circle cx="98.6" cy="328.8" r="0.95" fill="#8a2424"/>
<circle cx="96.4" cy="325.6" r="0.95" fill="#8a2424"/>
<circle cx="89.5" cy="334.0" r="0.95" fill="#8a2424"/>
<circle cx="91.6" cy="326.0" r="0.95" fill="#8a2424"/>
<circle cx="91.5" cy="334.2" r="0.95" fill="#8a2424"/>
<circle cx="90.9" cy="319.9" r="0.95" fill="#8a2424"/>
<circle cx="92.8" cy="328.6" r="0.95" fill="#8a2424"/>
<circle cx="94.1" cy="332.5" r="0.95" fill="#8a2424"/>
<circle cx="89.4" cy="334.1" r="0.95" fill="#8a2424"/>
<circle cx="95.2" cy="321.1" r="0.95" fill="#8a2424"/>
<circle cx="94.4" cy="334.8" r="0.95" fill="#8a2424"/>
<circle cx="96.0" cy="322.8" r="0.95" fill="#8a2424"/>
<circle cx="95.6" cy="334.2" r="0.95" fill="#8a2424"/>
<circle cx="91.4" cy="328.1" r="0.95" fill="#8a2424"/>
<circle cx="89.4" cy="328.5" r="0.95" fill="#8a2424"/>
<circle cx="76.8" cy="343.9" r="0.95" fill="#2626a8"/>
<circle cx="91.1" cy="341.9" r="0.95" fill="#2626a8"/>
<circle cx="94.4" cy="340.9" r="0.95" fill="#2626a8"/>
<circle cx="88.5" cy="351.1" r="0.95" fill="#2626a8"/>
<circle cx="93.7" cy="344.8" r="0.95" fill="#2626a8"/>
<circle cx="94.4" cy="337.4" r="0.95" fill="#2626a8"/>
<circle cx="90.8" cy="340.9" r="0.95" fill="#2626a8"/>
<circle cx="84.5" cy="358.4" r="0.95" fill="#2626a8"/>
<circle cx="82.5" cy="362.2" r="0.95" fill="#2626a8"/>
<circle cx="81.9" cy="349.9" r="0.95" fill="#2626a8"/>
<circle cx="87.8" cy="351.9" r="0.95" fill="#2626a8"/>
<circle cx="93.5" cy="345.3" r="0.95" fill="#2626a8"/>
<circle cx="83.7" cy="358.7" r="0.95" fill="#2626a8"/>
<circle cx="79.7" cy="351.7" r="0.95" fill="#2626a8"/>
<circle cx="76.2" cy="340.6" r="0.95" fill="#2626a8"/>
<circle cx="94.1" cy="342.4" r="0.95" fill="#2626a8"/>
<circle cx="91.8" cy="343.7" r="0.95" fill="#2626a8"/>
<circle cx="93.7" cy="340.5" r="0.95" fill="#2626a8"/>
<circle cx="93.8" cy="343.2" r="0.95" fill="#2626a8"/>
<circle cx="77.7" cy="338.9" r="0.95" fill="#2626a8"/>
<circle cx="82.9" cy="362.3" r="0.95" fill="#2626a8"/>
<circle cx="92.3" cy="338.1" r="0.95" fill="#2626a8"/>
<circle cx="84.1" cy="358.4" r="0.95" fill="#2626a8"/>
<circle cx="96.6" cy="341.2" r="0.95" fill="#2626a8"/>
<circle cx="83.2" cy="358.3" r="0.95" fill="#2626a8"/>
<circle cx="84.8" cy="359.6" r="0.95" fill="#2626a8"/>
<circle cx="82.5" cy="362.7" r="0.95" fill="#2626a8"/>
<circle cx="85.2" cy="356.2" r="0.95" fill="#2626a8"/>
<circle cx="87.1" cy="352.7" r="0.95" fill="#2626a8"/>
<circle cx="86.4" cy="356.3" r="0.95" fill="#2626a8"/>
<circle cx="88.2" cy="355.1" r="0.95" fill="#2626a8"/>
<circle cx="92.2" cy="343.0" r="0.95" fill="#2626a8"/>
<circle cx="87.6" cy="351.4" r="0.95" fill="#2626a8"/>
<circle cx="90.7" cy="348.6" r="0.95" fill="#2626a8"/>
<circle cx="83.1" cy="363.4" r="0.95" fill="#2626a8"/>
<circle cx="91.9" cy="345.0" r="0.95" fill="#2626a8"/>
<circle cx="89.8" cy="349.5" r="0.95" fill="#2626a8"/>
<circle cx="84.3" cy="359.1" r="0.95" fill="#2626a8"/>
<circle cx="85.0" cy="362.7" r="0.95" fill="#2626a8"/>
<circle cx="79.2" cy="349.6" r="0.95" fill="#2626a8"/>
<circle cx="86.9" cy="350.3" r="0.95" fill="#2626a8"/>
<circle cx="78.1" cy="343.8" r="0.95" fill="#2626a8"/>
<circle cx="83.8" cy="359.5" r="0.95" fill="#2626a8"/>
<circle cx="92.4" cy="343.5" r="0.95" fill="#2626a8"/>
<circle cx="95.3" cy="342.4" r="0.95" fill="#2626a8"/>
<circle cx="76.9" cy="339.3" r="0.95" fill="#2626a8"/>
<circle cx="88.6" cy="352.9" r="0.95" fill="#2626a8"/>
<circle cx="89.0" cy="349.7" r="0.95" fill="#2626a8"/>
<circle cx="91.2" cy="345.8" r="0.95" fill="#2626a8"/>
<circle cx="85.2" cy="359.9" r="0.95" fill="#2626a8"/>
<circle cx="84.9" cy="358.8" r="0.95" fill="#2626a8"/>
<circle cx="97.5" cy="337.9" r="0.95" fill="#2626a8"/>
<circle cx="95.1" cy="346.6" r="0.95" fill="#2626a8"/>
<circle cx="92.5" cy="338.2" r="0.95" fill="#2626a8"/>
<circle cx="75.7" cy="340.4" r="0.95" fill="#2626a8"/>
<circle cx="92.2" cy="351.5" r="0.95" fill="#2626a8"/>
<circle cx="97.0" cy="337.1" r="0.95" fill="#2626a8"/>
<circle cx="89.4" cy="349.7" r="0.95" fill="#2626a8"/>
<circle cx="78.9" cy="346.1" r="0.95" fill="#2626a8"/>
<circle cx="84.1" cy="354.7" r="0.95" fill="#2626a8"/>
<circle cx="86.6" cy="361.4" r="0.95" fill="#2626a8"/>
<circle cx="81.5" cy="352.2" r="0.95" fill="#2626a8"/>
<circle cx="92.1" cy="340.1" r="0.95" fill="#2626a8"/>
<circle cx="78.7" cy="351.1" r="0.95" fill="#2626a8"/>
<circle cx="83.2" cy="362.5" r="0.95" fill="#2626a8"/>
<circle cx="97.9" cy="339.3" r="0.95" fill="#2626a8"/>
<circle cx="77.1" cy="339.8" r="0.95" fill="#2626a8"/>
<circle cx="84.2" cy="360.0" r="0.95" fill="#2626a8"/>
<circle cx="80.0" cy="348.2" r="0.95" fill="#2626a8"/>
<circle cx="76.2" cy="344.7" r="0.95" fill="#2626a8"/>
<circle cx="96.8" cy="339.9" r="0.95" fill="#2626a8"/>
<circle cx="77.8" cy="344.1" r="0.95" fill="#2626a8"/>
<circle cx="91.6" cy="348.9" r="0.95" fill="#2626a8"/>
<circle cx="81.6" cy="345.8" r="0.95" fill="#2626a8"/>
<circle cx="83.2" cy="359.5" r="0.95" fill="#2626a8"/>
<circle cx="83.1" cy="363.3" r="0.95" fill="#2626a8"/>
<circle cx="86.6" cy="349.8" r="0.95" fill="#2626a8"/>
<circle cx="90.1" cy="351.2" r="0.95" fill="#2626a8"/>
<circle cx="92.2" cy="347.0" r="0.95" fill="#2626a8"/>
<circle cx="79.7" cy="337.9" r="0.95" fill="#2626a8"/>
<circle cx="97.1" cy="339.7" r="0.95" fill="#2626a8"/>
<circle cx="85.0" cy="345.1" r="0.95" fill="#2626a8"/>
<circle cx="81.7" cy="350.8" r="0.95" fill="#2626a8"/>
<circle cx="78.3" cy="356.8" r="0.95" fill="#2626a8"/>
<circle cx="79.0" cy="337.6" r="0.95" fill="#2626a8"/>
<circle cx="86.9" cy="359.3" r="0.95" fill="#2626a8"/>
<circle cx="96.9" cy="338.4" r="0.95" fill="#2626a8"/>
<circle cx="89.4" cy="349.9" r="0.95" fill="#2626a8"/>
<circle cx="95.0" cy="343.5" r="0.95" fill="#2626a8"/>
<circle cx="86.3" cy="357.1" r="0.95" fill="#2626a8"/>
<circle cx="93.0" cy="342.8" r="0.95" fill="#2626a8"/>
<circle cx="81.1" cy="361.2" r="0.95" fill="#2626a8"/>
<circle cx="93.5" cy="339.7" r="0.95" fill="#2626a8"/>
<circle cx="84.2" cy="358.7" r="0.95" fill="#2626a8"/>
<circle cx="80.2" cy="356.1" r="0.95" fill="#2626a8"/>
<circle cx="76.4" cy="340.5" r="0.95" fill="#2626a8"/>
<circle cx="87.1" cy="352.8" r="0.95" fill="#2626a8"/>
<circle cx="78.2" cy="350.6" r="0.95" fill="#2626a8"/>
<circle cx="85.4" cy="360.2" r="0.95" fill="#2626a8"/>
<circle cx="87.1" cy="352.2" r="0.95" fill="#2626a8"/>
<circle cx="85.3" cy="361.7" r="0.95" fill="#2626a8"/>
<circle cx="85.2" cy="354.8" r="0.95" fill="#2626a8"/>
<circle cx="91.0" cy="346.9" r="0.95" fill="#2626a8"/>
<circle cx="91.1" cy="349.7" r="0.95" fill="#2626a8"/>
<circle cx="80.6" cy="363.1" r="0.95" fill="#2626a8"/>
<circle cx="91.0" cy="347.9" r="0.95" fill="#2626a8"/>
<circle cx="92.9" cy="342.7" r="0.95" fill="#2626a8"/>
<circle cx="93.2" cy="345.6" r="0.95" fill="#2626a8"/>
<circle cx="83.7" cy="361.7" r="0.95" fill="#2626a8"/>
<circle cx="78.8" cy="342.4" r="0.95" fill="#2626a8"/>
<circle cx="96.4" cy="340.0" r="0.95" fill="#2626a8"/>
<circle cx="94.3" cy="342.6" r="0.95" fill="#2626a8"/>
<circle cx="77.0" cy="337.4" r="0.95" fill="#2626a8"/>
<circle cx="85.7" cy="352.0" r="0.95" fill="#2626a8"/>
<circle cx="81.2" cy="355.8" r="0.95" fill="#2626a8"/>
<circle cx="82.2" cy="358.1" r="0.95" fill="#2626a8"/>
<circle cx="74.8" cy="338.4" r="0.95" fill="#2626a8"/>
<circle cx="85.7" cy="357.7" r="0.95" fill="#2626a8"/>
<circle cx="85.9" cy="355.7" r="0.95" fill="#2626a8"/>
<circle cx="93.3" cy="344.5" r="0.95" fill="#2626a8"/>
<circle cx="82.4" cy="351.7" r="0.95" fill="#2626a8"/>
<circle cx="86.3" cy="356.0" r="0.95" fill="#2626a8"/>
<circle cx="82.7" cy="359.7" r="0.95" fill="#2626a8"/>
<circle cx="84.8" cy="358.4" r="0.95" fill="#2626a8"/>
<circle cx="91.7" cy="345.1" r="0.95" fill="#2626a8"/>
<circle cx="87.3" cy="355.7" r="0.95" fill="#2626a8"/>
<circle cx="79.1" cy="348.1" r="0.95" fill="#2626a8"/>
<circle cx="93.0" cy="346.6" r="0.95" fill="#2626a8"/>
<circle cx="86.8" cy="360.5" r="0.95" fill="#2626a8"/>
<circle cx="87.1" cy="358.7" r="0.95" fill="#2626a8"/>
<circle cx="92.8" cy="348.2" r="0.95" fill="#2626a8"/>
<circle cx="93.2" cy="343.5" r="0.95" fill="#2626a8"/>
<circle cx="82.5" cy="361.0" r="0.95" fill="#2626a8"/>
<circle cx="88.5" cy="356.8" r="0.95" fill="#2626a8"/>
<circle cx="83.9" cy="356.7" r="0.95" fill="#2626a8"/>
<circle cx="82.9" cy="358.2" r="0.95" fill="#2626a8"/>
<circle cx="83.3" cy="357.4" r="0.95" fill="#2626a8"/>
<circle cx="87.2" cy="353.4" r="0.95" fill="#2626a8"/>
<circle cx="75.4" cy="337.5" r="0.95" fill="#2626a8"/>
<circle cx="94.0" cy="344.6" r="0.95" fill="#2626a8"/>
<circle cx="85.9" cy="347.6" r="0.95" fill="#2626a8"/>
<circle cx="78.4" cy="351.8" r="0.95" fill="#2626a8"/>
<circle cx="81.8" cy="356.9" r="0.95" fill="#2626a8"/>
<circle cx="84.1" cy="356.7" r="0.95" fill="#2626a8"/>
<circle cx="89.1" cy="351.7" r="0.95" fill="#2626a8"/>
<circle cx="79.9" cy="350.2" r="0.95" fill="#2626a8"/>
<circle cx="79.8" cy="346.3" r="0.95" fill="#2626a8"/>
<circle cx="80.9" cy="349.2" r="0.95" fill="#2626a8"/>
<circle cx="85.6" cy="357.4" r="0.95" fill="#2626a8"/>
<circle cx="78.6" cy="347.7" r="0.95" fill="#2626a8"/>
<circle cx="86.2" cy="356.5" r="0.95" fill="#2626a8"/>
<circle cx="87.3" cy="355.5" r="0.95" fill="#2626a8"/>
<circle cx="84.1" cy="356.2" r="0.95" fill="#2626a8"/>
<circle cx="78.4" cy="340.5" r="0.95" fill="#2626a8"/>
<circle cx="85.3" cy="362.7" r="0.95" fill="#2626a8"/>
<circle cx="84.8" cy="348.9" r="0.95" fill="#2626a8"/>
<circle cx="90.3" cy="350.5" r="0.95" fill="#2626a8"/>
<circle cx="91.1" cy="343.3" r="0.95" fill="#2626a8"/>
<circle cx="89.0" cy="348.1" r="0.95" fill="#2626a8"/>
<circle cx="90.7" cy="349.3" r="0.95" fill="#2626a8"/>
<circle cx="85.7" cy="356.4" r="0.95" fill="#2626a8"/>
<circle cx="84.2" cy="362.5" r="0.95" fill="#2626a8"/>
<circle cx="93.8" cy="337.5" r="0.95" fill="#2626a8"/>
<circle cx="79.9" cy="344.8" r="0.95" fill="#2626a8"/>
<circle cx="89.3" cy="350.1" r="0.95" fill="#2626a8"/>
<circle cx="95.0" cy="343.6" r="0.95" fill="#2626a8"/>
<circle cx="97.3" cy="338.7" r="0.95" fill="#2626a8"/>
<circle cx="94.4" cy="341.8" r="0.95" fill="#2626a8"/>
<circle cx="80.5" cy="353.6" r="0.95" fill="#2626a8"/>
<circle cx="82.9" cy="360.5" r="0.95" fill="#2626a8"/>
<circle cx="80.4" cy="353.7" r="0.95" fill="#2626a8"/>
<circle cx="94.2" cy="341.6" r="0.95" fill="#2626a8"/>
<circle cx="83.1" cy="357.9" r="0.95" fill="#2626a8"/>
<circle cx="88.4" cy="352.2" r="0.95" fill="#2626a8"/>
<circle cx="92.3" cy="341.5" r="0.95" fill="#2626a8"/>
<circle cx="90.6" cy="343.5" r="0.95" fill="#2626a8"/>
<circle cx="95.9" cy="339.8" r="0.95" fill="#2626a8"/>
<circle cx="78.1" cy="343.2" r="0.95" fill="#2626a8"/>
<circle cx="85.6" cy="356.1" r="0.95" fill="#2626a8"/>
<circle cx="90.7" cy="342.8" r="0.95" fill="#2626a8"/>
<circle cx="87.7" cy="352.9" r="0.95" fill="#2626a8"/>
<circle cx="84.9" cy="357.7" r="0.95" fill="#2626a8"/>
<circle cx="79.5" cy="348.7" r="0.95" fill="#2626a8"/>
<circle cx="94.1" cy="344.2" r="0.95" fill="#2626a8"/>
<circle cx="78.5" cy="338.9" r="0.95" fill="#2626a8"/>
<circle cx="90.4" cy="346.7" r="0.95" fill="#2626a8"/>
<circle cx="81.8" cy="354.6" r="0.95" fill="#2626a8"/>
<circle cx="84.0" cy="352.1" r="0.95" fill="#2626a8"/>
<circle cx="86.0" cy="355.9" r="0.95" fill="#2626a8"/>
<circle cx="75.2" cy="346.0" r="0.95" fill="#2626a8"/>
<circle cx="239.5" cy="261.5" r="0.95" fill="#8a2424"/>
<circle cx="244.1" cy="273.3" r="0.95" fill="#8a2424"/>
<circle cx="231.0" cy="272.9" r="0.95" fill="#8a2424"/>
<circle cx="234.3" cy="275.5" r="0.95" fill="#8a2424"/>
<circle cx="235.6" cy="278.1" r="0.95" fill="#8a2424"/>
<circle cx="229.4" cy="279.8" r="0.95" fill="#8a2424"/>
<circle cx="234.7" cy="280.3" r="0.95" fill="#8a2424"/>
<circle cx="239.5" cy="282.0" r="0.95" fill="#8a2424"/>
<circle cx="238.9" cy="285.0" r="0.95" fill="#8a2424"/>
<circle cx="223.8" cy="285.3" r="0.95" fill="#8a2424"/>
<circle cx="222.1" cy="289.0" r="0.95" fill="#8a2424"/>
<circle cx="230.4" cy="286.6" r="0.95" fill="#8a2424"/>
<circle cx="232.3" cy="286.9" r="0.95" fill="#8a2424"/>
<circle cx="234.9" cy="289.9" r="0.95" fill="#8a2424"/>
<circle cx="233.0" cy="292.5" r="0.95" fill="#8a2424"/>
<circle cx="231.7" cy="293.8" r="0.95" fill="#8a2424"/>
<circle cx="240.8" cy="291.9" r="0.95" fill="#8a2424"/>
<circle cx="241.5" cy="295.1" r="0.95" fill="#8a2424"/>
<circle cx="230.4" cy="297.7" r="0.95" fill="#8a2424"/>
<circle cx="225.8" cy="299.4" r="0.95" fill="#8a2424"/>
<circle cx="237.5" cy="297.7" r="0.95" fill="#8a2424"/>
<circle cx="186.3" cy="332.3" r="0.95" fill="#8a2424"/>
<circle cx="194.1" cy="330.3" r="0.95" fill="#8a2424"/>
<circle cx="197.7" cy="336.6" r="0.95" fill="#8a2424"/>
<circle cx="199.4" cy="321.8" r="0.95" fill="#8a2424"/>
<circle cx="205.5" cy="319.8" r="0.95" fill="#8a2424"/>
<circle cx="207.7" cy="312.0" r="0.95" fill="#8a2424"/>
<circle cx="208.5" cy="306.1" r="0.95" fill="#8a2424"/>
<circle cx="214.3" cy="308.1" r="0.95" fill="#8a2424"/>
<circle cx="219.2" cy="304.8" r="0.95" fill="#8a2424"/>
<circle cx="217.3" cy="312.0" r="0.95" fill="#8a2424"/>
<circle cx="212.7" cy="316.6" r="0.95" fill="#8a2424"/>
<circle cx="223.8" cy="311.3" r="0.95" fill="#8a2424"/>
<circle cx="225.8" cy="300.2" r="0.95" fill="#8a2424"/>
<circle cx="227.1" cy="304.2" r="0.95" fill="#8a2424"/>
<circle cx="229.0" cy="306.1" r="0.95" fill="#8a2424"/>
<circle cx="232.3" cy="297.6" r="0.95" fill="#8a2424"/>
<circle cx="234.9" cy="308.1" r="0.95" fill="#8a2424"/>
<circle cx="237.5" cy="302.8" r="0.95" fill="#8a2424"/>
<circle cx="281.0" cy="261.8" r="0.95" fill="#8a2424"/>
<circle cx="298.2" cy="281.1" r="0.95" fill="#8a2424"/>
<circle cx="277.9" cy="283.0" r="0.95" fill="#8a2424"/>
<circle cx="282.1" cy="295.3" r="0.95" fill="#8a2424"/>
<circle cx="277.4" cy="296.7" r="0.95" fill="#8a2424"/>
<circle cx="265.2" cy="299.5" r="0.95" fill="#8a2424"/>
<circle cx="273.9" cy="303.0" r="0.95" fill="#8a2424"/>
<circle cx="278.6" cy="304.2" r="0.95" fill="#8a2424"/>
<circle cx="281.0" cy="303.7" r="0.95" fill="#8a2424"/>
<circle cx="266.8" cy="305.4" r="0.95" fill="#8a2424"/>
<circle cx="272.7" cy="307.0" r="0.95" fill="#8a2424"/>
<circle cx="255.7" cy="306.1" r="0.95" fill="#8a2424"/>
<circle cx="256.7" cy="310.1" r="0.95" fill="#8a2424"/>
<circle cx="265.2" cy="308.5" r="0.95" fill="#8a2424"/>
<circle cx="275.1" cy="313.2" r="0.95" fill="#8a2424"/>
<circle cx="283.3" cy="315.5" r="0.95" fill="#8a2424"/>
<circle cx="278.6" cy="320.2" r="0.95" fill="#8a2424"/>
<circle cx="265.6" cy="321.9" r="0.95" fill="#8a2424"/>
<circle cx="258.6" cy="320.2" r="0.95" fill="#8a2424"/>
<circle cx="272.7" cy="325.4" r="0.95" fill="#8a2424"/>
<circle cx="269.9" cy="327.8" r="0.95" fill="#8a2424"/>
<circle cx="291.1" cy="329.7" r="0.95" fill="#8a2424"/>
<circle cx="303.4" cy="328.3" r="0.95" fill="#8a2424"/>
<circle cx="282.1" cy="334.9" r="0.95" fill="#8a2424"/>
<circle cx="255.0" cy="326.6" r="0.95" fill="#8a2424"/>
<circle cx="257.4" cy="327.8" r="0.95" fill="#8a2424"/>
<circle cx="259.8" cy="327.8" r="0.95" fill="#8a2424"/>
<circle cx="262.1" cy="330.2" r="0.95" fill="#8a2424"/>
<circle cx="263.3" cy="333.7" r="0.95" fill="#8a2424"/>
<circle cx="257.4" cy="332.5" r="0.95" fill="#8a2424"/>
<circle cx="290.6" cy="329.0" r="0.95" fill="#8a2424"/>
<circle cx="303.8" cy="328.6" r="0.95" fill="#8a2424"/>
<circle cx="281.5" cy="335.1" r="0.95" fill="#8a2424"/>
<circle cx="202.4" cy="328.6" r="0.95" fill="#8a2424"/>
<circle cx="206.6" cy="329.8" r="0.95" fill="#8a2424"/>
<circle cx="207.2" cy="333.6" r="0.95" fill="#8a2424"/>
<circle cx="210.8" cy="333.9" r="0.95" fill="#8a2424"/>
<circle cx="214.4" cy="334.5" r="0.95" fill="#8a2424"/>
<circle cx="218.5" cy="333.3" r="0.95" fill="#8a2424"/>
<circle cx="220.3" cy="331.6" r="0.95" fill="#8a2424"/>
<circle cx="223.3" cy="332.8" r="0.95" fill="#8a2424"/>
<circle cx="222.7" cy="336.9" r="0.95" fill="#8a2424"/>
<circle cx="209.0" cy="338.4" r="0.95" fill="#8a2424"/>
<circle cx="198.9" cy="335.5" r="0.95" fill="#8a2424"/>
<circle cx="272.5" cy="346.2" r="0.95" fill="#2626a8"/>
<circle cx="282.6" cy="344.2" r="0.95" fill="#2626a8"/>
<circle cx="282.6" cy="346.2" r="0.95" fill="#2626a8"/>
<circle cx="290.6" cy="345.2" r="0.95" fill="#2626a8"/>
<circle cx="290.6" cy="349.2" r="0.95" fill="#2626a8"/>
<circle cx="267.4" cy="355.3" r="0.95" fill="#2626a8"/>
<circle cx="266.4" cy="356.3" r="0.95" fill="#2626a8"/>
<circle cx="275.5" cy="347.2" r="0.95" fill="#2626a8"/>
<circle cx="217.7" cy="346.2" r="0.95" fill="#2626a8"/>
<circle cx="222.4" cy="342.3" r="0.95" fill="#2626a8"/>
<circle cx="229.5" cy="341.5" r="0.95" fill="#2626a8"/>
<circle cx="237.2" cy="334.3" r="0.95" fill="#8a2424"/>
<circle cx="230.9" cy="315.2" r="0.95" fill="#8a2424"/>
<circle cx="241.4" cy="332.7" r="0.95" fill="#8a2424"/>
<circle cx="233.4" cy="306.5" r="0.95" fill="#8a2424"/>
<circle cx="218.7" cy="321.3" r="0.95" fill="#8a2424"/>
<circle cx="220.9" cy="338.0" r="0.95" fill="#8a2424"/>
<circle cx="209.9" cy="317.6" r="0.95" fill="#8a2424"/>
<circle cx="223.9" cy="307.3" r="0.95" fill="#8a2424"/>
<circle cx="198.4" cy="332.1" r="0.95" fill="#8a2424"/>
<circle cx="239.5" cy="296.1" r="0.95" fill="#8a2424"/>
<circle cx="236.6" cy="302.9" r="0.95" fill="#8a2424"/>
<circle cx="218.5" cy="337.6" r="0.95" fill="#8a2424"/>
<circle cx="211.2" cy="321.6" r="0.95" fill="#8a2424"/>
<circle cx="231.1" cy="298.7" r="0.95" fill="#8a2424"/>
<circle cx="242.5" cy="334.6" r="0.95" fill="#8a2424"/>
<circle cx="246.9" cy="335.5" r="0.95" fill="#8a2424"/>
<circle cx="232.4" cy="323.6" r="0.95" fill="#8a2424"/>
<circle cx="228.8" cy="328.1" r="0.95" fill="#8a2424"/>
<circle cx="196.8" cy="333.6" r="0.95" fill="#8a2424"/>
<circle cx="225.5" cy="303.4" r="0.95" fill="#8a2424"/>
<circle cx="222.7" cy="308.0" r="0.95" fill="#8a2424"/>
<circle cx="242.4" cy="297.8" r="0.95" fill="#8a2424"/>
<circle cx="240.0" cy="309.3" r="0.95" fill="#8a2424"/>
<circle cx="239.1" cy="317.8" r="0.95" fill="#8a2424"/>
<circle cx="227.1" cy="335.5" r="0.95" fill="#8a2424"/>
<circle cx="223.4" cy="305.5" r="0.95" fill="#8a2424"/>
<circle cx="242.5" cy="300.3" r="0.95" fill="#8a2424"/>
<circle cx="223.9" cy="325.4" r="0.95" fill="#8a2424"/>
<circle cx="225.3" cy="323.7" r="0.95" fill="#8a2424"/>
<circle cx="232.2" cy="296.3" r="0.95" fill="#8a2424"/>
<circle cx="200.8" cy="337.7" r="0.95" fill="#8a2424"/>
<circle cx="246.0" cy="311.1" r="0.95" fill="#8a2424"/>
<circle cx="230.2" cy="321.7" r="0.95" fill="#8a2424"/>
<circle cx="239.6" cy="319.2" r="0.95" fill="#8a2424"/>
<circle cx="233.8" cy="332.5" r="0.95" fill="#8a2424"/>
<circle cx="235.5" cy="319.0" r="0.95" fill="#8a2424"/>
<circle cx="209.3" cy="333.8" r="0.95" fill="#8a2424"/>
<circle cx="246.1" cy="327.9" r="0.95" fill="#8a2424"/>
<circle cx="233.7" cy="328.0" r="0.95" fill="#8a2424"/>
<circle cx="206.2" cy="329.5" r="0.95" fill="#8a2424"/>
<circle cx="242.4" cy="336.9" r="0.95" fill="#8a2424"/>
<circle cx="228.8" cy="308.1" r="0.95" fill="#8a2424"/>
<circle cx="237.6" cy="312.9" r="0.95" fill="#8a2424"/>
<circle cx="244.0" cy="301.6" r="0.95" fill="#8a2424"/>
<circle cx="247.9" cy="325.5" r="0.95" fill="#8a2424"/>
<circle cx="236.5" cy="298.2" r="0.95" fill="#8a2424"/>
<circle cx="233.5" cy="302.5" r="0.95" fill="#8a2424"/>
<circle cx="217.3" cy="326.8" r="0.95" fill="#8a2424"/>
<circle cx="222.9" cy="302.9" r="0.95" fill="#8a2424"/>
<circle cx="242.0" cy="336.9" r="0.95" fill="#8a2424"/>
<circle cx="232.3" cy="308.3" r="0.95" fill="#8a2424"/>
<circle cx="216.1" cy="305.0" r="0.95" fill="#8a2424"/>
<circle cx="218.2" cy="331.3" r="0.95" fill="#8a2424"/>
<circle cx="213.3" cy="325.0" r="0.95" fill="#8a2424"/>
<circle cx="219.2" cy="336.9" r="0.95" fill="#8a2424"/>
<circle cx="244.5" cy="301.6" r="0.95" fill="#8a2424"/>
<circle cx="231.9" cy="309.7" r="0.95" fill="#8a2424"/>
<circle cx="247.6" cy="331.5" r="0.95" fill="#8a2424"/>
<circle cx="239.0" cy="320.4" r="0.95" fill="#8a2424"/>
<circle cx="210.8" cy="337.7" r="0.95" fill="#8a2424"/>
<circle cx="240.8" cy="304.9" r="0.95" fill="#8a2424"/>
<circle cx="236.3" cy="302.6" r="0.95" fill="#8a2424"/>
<circle cx="233.4" cy="324.7" r="0.95" fill="#8a2424"/>
<circle cx="227.7" cy="304.3" r="0.95" fill="#8a2424"/>
<circle cx="221.2" cy="320.0" r="0.95" fill="#8a2424"/>
<circle cx="209.9" cy="308.6" r="0.95" fill="#8a2424"/>
<circle cx="245.2" cy="312.8" r="0.95" fill="#8a2424"/>
<circle cx="232.6" cy="337.7" r="0.95" fill="#8a2424"/>
<circle cx="242.6" cy="314.8" r="0.95" fill="#8a2424"/>
<circle cx="221.1" cy="317.7" r="0.95" fill="#8a2424"/>
<circle cx="246.9" cy="325.6" r="0.95" fill="#8a2424"/>
<circle cx="222.5" cy="301.3" r="0.95" fill="#8a2424"/>
<circle cx="201.7" cy="336.3" r="0.95" fill="#8a2424"/>
<circle cx="225.1" cy="337.7" r="0.95" fill="#8a2424"/>
<circle cx="244.5" cy="335.0" r="0.95" fill="#8a2424"/>
<circle cx="215.7" cy="314.3" r="0.95" fill="#8a2424"/>
<circle cx="223.6" cy="319.8" r="0.95" fill="#8a2424"/>
<circle cx="217.6" cy="321.8" r="0.95" fill="#8a2424"/>
<circle cx="210.2" cy="334.3" r="0.95" fill="#8a2424"/>
<circle cx="238.2" cy="326.7" r="0.95" fill="#8a2424"/>
<circle cx="206.9" cy="319.3" r="0.95" fill="#8a2424"/>
<circle cx="243.0" cy="311.5" r="0.95" fill="#8a2424"/>
<circle cx="240.7" cy="308.3" r="0.95" fill="#8a2424"/>
<circle cx="226.0" cy="337.9" r="0.95" fill="#8a2424"/>
<circle cx="240.3" cy="337.0" r="0.95" fill="#8a2424"/>
<circle cx="238.1" cy="334.0" r="0.95" fill="#8a2424"/>
<circle cx="237.6" cy="331.4" r="0.95" fill="#8a2424"/>
<circle cx="200.2" cy="329.2" r="0.95" fill="#8a2424"/>
<circle cx="220.8" cy="326.3" r="0.95" fill="#8a2424"/>
<circle cx="228.2" cy="301.5" r="0.95" fill="#8a2424"/>
<circle cx="232.5" cy="321.4" r="0.95" fill="#8a2424"/>
<circle cx="222.2" cy="298.9" r="0.95" fill="#8a2424"/>
<circle cx="231.7" cy="316.9" r="0.95" fill="#8a2424"/>
<circle cx="245.3" cy="310.3" r="0.95" fill="#8a2424"/>
<circle cx="237.7" cy="329.4" r="0.95" fill="#8a2424"/>
<circle cx="233.1" cy="320.4" r="0.95" fill="#8a2424"/>
<circle cx="242.4" cy="337.0" r="0.95" fill="#8a2424"/>
<circle cx="231.1" cy="297.3" r="0.95" fill="#8a2424"/>
<circle cx="248.5" cy="329.1" r="0.95" fill="#8a2424"/>
<circle cx="200.0" cy="335.9" r="0.95" fill="#8a2424"/>
<circle cx="242.4" cy="336.8" r="0.95" fill="#8a2424"/>
<circle cx="231.0" cy="309.0" r="0.95" fill="#8a2424"/>
<circle cx="206.1" cy="315.9" r="0.95" fill="#8a2424"/>
<circle cx="229.7" cy="314.8" r="0.95" fill="#8a2424"/>
<circle cx="226.2" cy="320.7" r="0.95" fill="#8a2424"/>
<circle cx="216.4" cy="325.7" r="0.95" fill="#8a2424"/>
<circle cx="224.5" cy="337.3" r="0.95" fill="#8a2424"/>
<circle cx="237.8" cy="331.6" r="0.95" fill="#8a2424"/>
<circle cx="239.1" cy="306.0" r="0.95" fill="#8a2424"/>
<circle cx="217.9" cy="323.5" r="0.95" fill="#8a2424"/>
<circle cx="229.2" cy="326.4" r="0.95" fill="#8a2424"/>
<circle cx="245.8" cy="315.4" r="0.95" fill="#8a2424"/>
<circle cx="227.1" cy="336.5" r="0.95" fill="#8a2424"/>
<circle cx="238.6" cy="321.9" r="0.95" fill="#8a2424"/>
<circle cx="240.4" cy="302.1" r="0.95" fill="#8a2424"/>
<circle cx="240.0" cy="315.6" r="0.95" fill="#8a2424"/>
<circle cx="242.8" cy="313.6" r="0.95" fill="#8a2424"/>
<circle cx="237.8" cy="312.1" r="0.95" fill="#8a2424"/>
<circle cx="246.1" cy="331.7" r="0.95" fill="#8a2424"/>
<circle cx="234.5" cy="326.4" r="0.95" fill="#8a2424"/>
<circle cx="244.6" cy="305.6" r="0.95" fill="#8a2424"/>
<circle cx="217.9" cy="296.6" r="0.95" fill="#8a2424"/>
<circle cx="220.0" cy="329.3" r="0.95" fill="#8a2424"/>
<circle cx="211.1" cy="326.2" r="0.95" fill="#8a2424"/>
<circle cx="209.9" cy="319.1" r="0.95" fill="#8a2424"/>
<circle cx="241.3" cy="286.3" r="0.95" fill="#8a2424"/>
<circle cx="240.3" cy="337.9" r="0.95" fill="#8a2424"/>
<circle cx="240.8" cy="319.5" r="0.95" fill="#8a2424"/>
<circle cx="241.2" cy="303.3" r="0.95" fill="#8a2424"/>
<circle cx="241.4" cy="335.9" r="0.95" fill="#8a2424"/>
<circle cx="239.8" cy="301.9" r="0.95" fill="#8a2424"/>
<circle cx="237.5" cy="321.3" r="0.95" fill="#8a2424"/>
<circle cx="238.3" cy="334.0" r="0.95" fill="#8a2424"/>
<circle cx="240.4" cy="331.7" r="0.95" fill="#8a2424"/>
<circle cx="240.0" cy="316.2" r="0.95" fill="#8a2424"/>
<circle cx="240.1" cy="330.0" r="0.95" fill="#8a2424"/>
<circle cx="241.5" cy="315.9" r="0.95" fill="#8a2424"/>
<circle cx="243.1" cy="335.9" r="0.95" fill="#8a2424"/>
<circle cx="239.5" cy="315.0" r="0.95" fill="#8a2424"/>
<circle cx="239.8" cy="298.7" r="0.95" fill="#8a2424"/>
<circle cx="238.4" cy="335.7" r="0.95" fill="#8a2424"/>
<circle cx="239.4" cy="335.6" r="0.95" fill="#8a2424"/>
<circle cx="243.1" cy="319.5" r="0.95" fill="#8a2424"/>
<circle cx="242.4" cy="320.4" r="0.95" fill="#8a2424"/>
<circle cx="242.8" cy="294.8" r="0.95" fill="#8a2424"/>
<circle cx="242.4" cy="286.7" r="0.95" fill="#8a2424"/>
<circle cx="241.1" cy="334.0" r="0.95" fill="#8a2424"/>
<circle cx="238.6" cy="306.7" r="0.95" fill="#8a2424"/>
<circle cx="240.4" cy="320.0" r="0.95" fill="#8a2424"/>
<circle cx="241.7" cy="304.8" r="0.95" fill="#8a2424"/>
<circle cx="239.8" cy="315.9" r="0.95" fill="#8a2424"/>
<circle cx="239.9" cy="313.8" r="0.95" fill="#8a2424"/>
<circle cx="242.6" cy="308.0" r="0.95" fill="#8a2424"/>
<circle cx="239.6" cy="289.7" r="0.95" fill="#8a2424"/>
<circle cx="238.8" cy="337.8" r="0.95" fill="#8a2424"/>
<circle cx="266.8" cy="337.0" r="0.95" fill="#8a2424"/>
<circle cx="266.3" cy="319.7" r="0.95" fill="#8a2424"/>
<circle cx="261.5" cy="326.5" r="0.95" fill="#8a2424"/>
<circle cx="260.5" cy="320.6" r="0.95" fill="#8a2424"/>
<circle cx="255.1" cy="326.9" r="0.95" fill="#8a2424"/>
<circle cx="255.5" cy="327.1" r="0.95" fill="#8a2424"/>
<circle cx="252.4" cy="319.7" r="0.95" fill="#8a2424"/>
<circle cx="263.4" cy="326.4" r="0.95" fill="#8a2424"/>
<circle cx="260.2" cy="332.7" r="0.95" fill="#8a2424"/>
<circle cx="257.7" cy="319.2" r="0.95" fill="#8a2424"/>
<circle cx="264.5" cy="329.8" r="0.95" fill="#8a2424"/>
<circle cx="262.5" cy="330.4" r="0.95" fill="#8a2424"/>
<circle cx="267.5" cy="325.3" r="0.95" fill="#8a2424"/>
<circle cx="264.2" cy="325.4" r="0.95" fill="#8a2424"/>
<circle cx="261.2" cy="331.2" r="0.95" fill="#8a2424"/>
<circle cx="257.0" cy="319.7" r="0.95" fill="#8a2424"/>
<circle cx="259.6" cy="332.4" r="0.95" fill="#8a2424"/>
<circle cx="261.4" cy="326.9" r="0.95" fill="#8a2424"/>
<circle cx="262.3" cy="321.6" r="0.95" fill="#8a2424"/>
<circle cx="254.9" cy="324.5" r="0.95" fill="#8a2424"/>
<circle cx="265.1" cy="321.9" r="0.95" fill="#8a2424"/>
<circle cx="253.8" cy="320.0" r="0.95" fill="#8a2424"/>
<circle cx="254.7" cy="356.2" r="0.95" fill="#2626a8"/>
<circle cx="265.3" cy="343.8" r="0.95" fill="#2626a8"/>
<circle cx="256.3" cy="344.1" r="0.95" fill="#2626a8"/>
<circle cx="259.6" cy="341.7" r="0.95" fill="#2626a8"/>
<circle cx="257.6" cy="343.1" r="0.95" fill="#2626a8"/>
<circle cx="253.8" cy="356.5" r="0.95" fill="#2626a8"/>
<circle cx="258.4" cy="349.9" r="0.95" fill="#2626a8"/>
<circle cx="250.3" cy="362.7" r="0.95" fill="#2626a8"/>
<circle cx="259.0" cy="351.6" r="0.95" fill="#2626a8"/>
<circle cx="250.6" cy="356.9" r="0.95" fill="#2626a8"/>
<circle cx="262.2" cy="346.7" r="0.95" fill="#2626a8"/>
<circle cx="259.8" cy="341.5" r="0.95" fill="#2626a8"/>
<circle cx="248.9" cy="359.3" r="0.95" fill="#2626a8"/>
<circle cx="247.1" cy="347.2" r="0.95" fill="#2626a8"/>
<circle cx="249.2" cy="352.2" r="0.95" fill="#2626a8"/>
<circle cx="253.0" cy="360.5" r="0.95" fill="#2626a8"/>
<circle cx="260.7" cy="346.9" r="0.95" fill="#2626a8"/>
<circle cx="239.3" cy="341.1" r="0.95" fill="#2626a8"/>
<circle cx="254.8" cy="355.1" r="0.95" fill="#2626a8"/>
<circle cx="254.5" cy="358.8" r="0.95" fill="#2626a8"/>
<circle cx="249.7" cy="359.7" r="0.95" fill="#2626a8"/>
<circle cx="255.2" cy="357.0" r="0.95" fill="#2626a8"/>
<circle cx="251.6" cy="341.7" r="0.95" fill="#2626a8"/>
<circle cx="241.7" cy="343.1" r="0.95" fill="#2626a8"/>
<circle cx="254.5" cy="350.8" r="0.95" fill="#2626a8"/>
<circle cx="250.2" cy="362.4" r="0.95" fill="#2626a8"/>
<circle cx="259.9" cy="351.4" r="0.95" fill="#2626a8"/>
<circle cx="251.4" cy="357.5" r="0.95" fill="#2626a8"/>
<circle cx="255.0" cy="345.2" r="0.95" fill="#2626a8"/>
<circle cx="255.2" cy="345.6" r="0.95" fill="#2626a8"/>
<circle cx="249.9" cy="354.7" r="0.95" fill="#2626a8"/>
<circle cx="250.4" cy="358.2" r="0.95" fill="#2626a8"/>
<circle cx="257.5" cy="350.5" r="0.95" fill="#2626a8"/>
<circle cx="243.7" cy="345.4" r="0.95" fill="#2626a8"/>
<circle cx="250.4" cy="353.0" r="0.95" fill="#2626a8"/>
<circle cx="249.7" cy="360.0" r="0.95" fill="#2626a8"/>
<circle cx="242.1" cy="348.2" r="0.95" fill="#2626a8"/>
<circle cx="247.9" cy="350.1" r="0.95" fill="#2626a8"/>
<circle cx="256.4" cy="350.0" r="0.95" fill="#2626a8"/>
<circle cx="267.5" cy="340.4" r="0.95" fill="#2626a8"/>
<circle cx="254.4" cy="356.2" r="0.95" fill="#2626a8"/>
<circle cx="252.6" cy="352.2" r="0.95" fill="#2626a8"/>
<circle cx="249.4" cy="349.1" r="0.95" fill="#2626a8"/>
<circle cx="246.5" cy="344.7" r="0.95" fill="#2626a8"/>
<circle cx="247.7" cy="346.4" r="0.95" fill="#2626a8"/>
<circle cx="252.2" cy="360.8" r="0.95" fill="#2626a8"/>
<circle cx="245.1" cy="354.6" r="0.95" fill="#2626a8"/>
<circle cx="252.7" cy="345.7" r="0.95" fill="#2626a8"/>
<circle cx="250.3" cy="355.8" r="0.95" fill="#2626a8"/>
<circle cx="256.5" cy="354.4" r="0.95" fill="#2626a8"/>
<circle cx="248.7" cy="345.8" r="0.95" fill="#2626a8"/>
<circle cx="249.5" cy="357.4" r="0.95" fill="#2626a8"/>
<circle cx="250.1" cy="356.5" r="0.95" fill="#2626a8"/>
<circle cx="250.7" cy="340.0" r="0.95" fill="#2626a8"/>
<circle cx="260.7" cy="341.1" r="0.95" fill="#2626a8"/>
<circle cx="251.2" cy="359.4" r="0.95" fill="#2626a8"/>
<circle cx="249.7" cy="360.6" r="0.95" fill="#2626a8"/>
<circle cx="245.3" cy="350.0" r="0.95" fill="#2626a8"/>
<circle cx="262.1" cy="340.6" r="0.95" fill="#2626a8"/>
<circle cx="265.5" cy="340.7" r="0.95" fill="#2626a8"/>
<circle cx="254.4" cy="352.6" r="0.95" fill="#2626a8"/>
<circle cx="264.7" cy="340.7" r="0.95" fill="#2626a8"/>
<circle cx="248.0" cy="358.2" r="0.95" fill="#2626a8"/>
<circle cx="241.9" cy="343.8" r="0.95" fill="#2626a8"/>
<circle cx="244.2" cy="351.3" r="0.95" fill="#2626a8"/>
<circle cx="251.1" cy="358.3" r="0.95" fill="#2626a8"/>
<circle cx="248.6" cy="356.0" r="0.95" fill="#2626a8"/>
<circle cx="250.7" cy="354.9" r="0.95" fill="#2626a8"/>
<circle cx="250.1" cy="354.7" r="0.95" fill="#2626a8"/>
<circle cx="251.4" cy="362.8" r="0.95" fill="#2626a8"/>
<circle cx="250.0" cy="359.1" r="0.95" fill="#2626a8"/>
<circle cx="242.3" cy="344.0" r="0.95" fill="#2626a8"/>
<circle cx="265.3" cy="342.6" r="0.95" fill="#2626a8"/>
<circle cx="260.6" cy="346.1" r="0.95" fill="#2626a8"/>
<circle cx="254.8" cy="345.0" r="0.95" fill="#2626a8"/>
<circle cx="246.8" cy="345.4" r="0.95" fill="#2626a8"/>
<circle cx="252.2" cy="357.1" r="0.95" fill="#2626a8"/>
<circle cx="250.2" cy="361.7" r="0.95" fill="#2626a8"/>
<circle cx="240.9" cy="345.9" r="0.95" fill="#2626a8"/>
<circle cx="264.4" cy="344.5" r="0.95" fill="#2626a8"/>
<circle cx="251.0" cy="352.7" r="0.95" fill="#2626a8"/>
<circle cx="257.3" cy="347.5" r="0.95" fill="#2626a8"/>
<circle cx="247.4" cy="355.7" r="0.95" fill="#2626a8"/>
<circle cx="241.5" cy="340.6" r="0.95" fill="#2626a8"/>
<circle cx="252.7" cy="358.7" r="0.95" fill="#2626a8"/>
<circle cx="244.8" cy="344.8" r="0.95" fill="#2626a8"/>
<circle cx="255.8" cy="346.7" r="0.95" fill="#2626a8"/>
<circle cx="248.7" cy="357.1" r="0.95" fill="#2626a8"/>
<circle cx="245.6" cy="347.2" r="0.95" fill="#2626a8"/>
<circle cx="251.1" cy="361.7" r="0.95" fill="#2626a8"/>
<circle cx="250.2" cy="361.6" r="0.95" fill="#2626a8"/>
<circle cx="252.2" cy="354.4" r="0.95" fill="#2626a8"/>
<circle cx="250.5" cy="361.4" r="0.95" fill="#2626a8"/>
<circle cx="259.9" cy="344.9" r="0.95" fill="#2626a8"/>
<circle cx="251.0" cy="361.9" r="0.95" fill="#2626a8"/>
<circle cx="242.2" cy="347.3" r="0.95" fill="#2626a8"/>
<circle cx="259.5" cy="349.9" r="0.95" fill="#2626a8"/>
<circle cx="250.4" cy="347.9" r="0.95" fill="#2626a8"/>
<circle cx="247.4" cy="352.8" r="0.95" fill="#2626a8"/>
<circle cx="252.4" cy="342.0" r="0.95" fill="#2626a8"/>
<circle cx="251.8" cy="362.2" r="0.95" fill="#2626a8"/>
<circle cx="258.3" cy="346.6" r="0.95" fill="#2626a8"/>
<circle cx="251.6" cy="359.1" r="0.95" fill="#2626a8"/>
<circle cx="244.9" cy="347.9" r="0.95" fill="#2626a8"/>
<circle cx="253.2" cy="356.0" r="0.95" fill="#2626a8"/>
<circle cx="242.2" cy="344.5" r="0.95" fill="#2626a8"/>
<circle cx="261.5" cy="342.2" r="0.95" fill="#2626a8"/>
<circle cx="251.1" cy="360.3" r="0.95" fill="#2626a8"/>
<circle cx="254.1" cy="353.9" r="0.95" fill="#2626a8"/>
<circle cx="252.3" cy="343.2" r="0.95" fill="#2626a8"/>
<circle cx="258.4" cy="350.0" r="0.95" fill="#2626a8"/>
<circle cx="261.4" cy="343.4" r="0.95" fill="#2626a8"/>
<circle cx="254.9" cy="342.8" r="0.95" fill="#2626a8"/>
<circle cx="249.0" cy="360.5" r="0.95" fill="#2626a8"/>
<circle cx="242.6" cy="350.9" r="0.95" fill="#2626a8"/>
<circle cx="251.1" cy="351.5" r="0.95" fill="#2626a8"/>
<circle cx="250.9" cy="362.1" r="0.95" fill="#2626a8"/>
<circle cx="251.9" cy="360.9" r="0.95" fill="#2626a8"/>
<circle cx="250.1" cy="359.3" r="0.95" fill="#2626a8"/>
<circle cx="255.9" cy="341.7" r="0.95" fill="#2626a8"/>
<circle cx="255.5" cy="342.1" r="0.95" fill="#2626a8"/>
<circle cx="254.6" cy="343.7" r="0.95" fill="#2626a8"/>
<circle cx="255.1" cy="357.5" r="0.95" fill="#2626a8"/>
<circle cx="243.0" cy="344.2" r="0.95" fill="#2626a8"/>
<circle cx="260.8" cy="349.4" r="0.95" fill="#2626a8"/>
<circle cx="251.0" cy="345.5" r="0.95" fill="#2626a8"/>
<circle cx="242.3" cy="348.5" r="0.95" fill="#2626a8"/>
<circle cx="248.3" cy="352.2" r="0.95" fill="#2626a8"/>
<circle cx="255.8" cy="350.5" r="0.95" fill="#2626a8"/>
<circle cx="248.2" cy="355.2" r="0.95" fill="#2626a8"/>
<circle cx="251.7" cy="354.7" r="0.95" fill="#2626a8"/>
<circle cx="246.8" cy="357.5" r="0.95" fill="#2626a8"/>
<circle cx="255.8" cy="346.1" r="0.95" fill="#2626a8"/>
<circle cx="251.4" cy="352.6" r="0.95" fill="#2626a8"/>
<circle cx="253.3" cy="351.9" r="0.95" fill="#2626a8"/>
<circle cx="254.4" cy="356.8" r="0.95" fill="#2626a8"/>
<circle cx="254.5" cy="357.8" r="0.95" fill="#2626a8"/>
<circle cx="246.5" cy="353.0" r="0.95" fill="#2626a8"/>
<circle cx="259.3" cy="348.2" r="0.95" fill="#2626a8"/>
<circle cx="252.1" cy="357.6" r="0.95" fill="#2626a8"/>
<circle cx="241.9" cy="342.5" r="0.95" fill="#2626a8"/>
<circle cx="250.3" cy="354.9" r="0.95" fill="#2626a8"/>
<circle cx="264.5" cy="343.9" r="0.95" fill="#2626a8"/>
<circle cx="262.7" cy="344.9" r="0.95" fill="#2626a8"/>
<circle cx="257.3" cy="354.1" r="0.95" fill="#2626a8"/>
<circle cx="248.6" cy="357.7" r="0.95" fill="#2626a8"/>
<circle cx="261.1" cy="344.9" r="0.95" fill="#2626a8"/>
<circle cx="251.5" cy="349.7" r="0.95" fill="#2626a8"/>
<circle cx="252.1" cy="357.1" r="0.95" fill="#2626a8"/>
<circle cx="251.4" cy="356.4" r="0.95" fill="#2626a8"/>
<circle cx="257.0" cy="346.0" r="0.95" fill="#2626a8"/>
<circle cx="258.3" cy="342.5" r="0.95" fill="#2626a8"/>
<circle cx="248.3" cy="358.2" r="0.95" fill="#2626a8"/>
<circle cx="265.6" cy="339.6" r="0.95" fill="#2626a8"/>
<circle cx="252.6" cy="343.9" r="0.95" fill="#2626a8"/>
<circle cx="242.9" cy="346.3" r="0.95" fill="#2626a8"/>
<circle cx="241.0" cy="345.6" r="0.95" fill="#2626a8"/>
<circle cx="252.7" cy="359.4" r="0.95" fill="#2626a8"/>
<circle cx="248.2" cy="357.9" r="0.95" fill="#2626a8"/>
<circle cx="242.4" cy="347.1" r="0.95" fill="#2626a8"/>
<circle cx="253.9" cy="359.5" r="0.95" fill="#2626a8"/>
<circle cx="251.9" cy="361.8" r="0.95" fill="#2626a8"/>
<circle cx="251.3" cy="353.9" r="0.95" fill="#2626a8"/>
<circle cx="238.0" cy="342.2" r="0.95" fill="#2626a8"/>
<circle cx="257.5" cy="354.0" r="0.95" fill="#2626a8"/>
<circle cx="250.8" cy="362.6" r="0.95" fill="#2626a8"/>
<circle cx="257.7" cy="351.8" r="0.95" fill="#2626a8"/>
<circle cx="257.3" cy="346.1" r="0.95" fill="#2626a8"/>
<circle cx="250.4" cy="353.6" r="0.95" fill="#2626a8"/>
<circle cx="244.4" cy="348.7" r="0.95" fill="#2626a8"/>
<circle cx="246.0" cy="342.9" r="0.95" fill="#2626a8"/>
<circle cx="251.4" cy="362.7" r="0.95" fill="#2626a8"/>
<circle cx="260.3" cy="339.7" r="0.95" fill="#2626a8"/>
<circle cx="253.9" cy="342.8" r="0.95" fill="#2626a8"/>
<circle cx="252.5" cy="361.1" r="0.95" fill="#2626a8"/>
<circle cx="253.4" cy="360.3" r="0.95" fill="#2626a8"/>
<circle cx="245.2" cy="354.3" r="0.95" fill="#2626a8"/>
<circle cx="255.9" cy="345.5" r="0.95" fill="#2626a8"/>
<circle cx="257.1" cy="353.5" r="0.95" fill="#2626a8"/>
<circle cx="262.5" cy="343.5" r="0.95" fill="#2626a8"/>
<circle cx="252.7" cy="353.1" r="0.95" fill="#2626a8"/>
<circle cx="247.5" cy="342.3" r="0.95" fill="#2626a8"/>
<circle cx="255.7" cy="351.6" r="0.95" fill="#2626a8"/>
<circle cx="252.8" cy="355.5" r="0.95" fill="#2626a8"/>
<circle cx="249.6" cy="356.2" r="0.95" fill="#2626a8"/>
<circle cx="262.3" cy="347.4" r="0.95" fill="#2626a8"/>
<circle cx="251.9" cy="355.3" r="0.95" fill="#2626a8"/>
<circle cx="251.8" cy="362.2" r="0.95" fill="#2626a8"/>
<circle cx="256.0" cy="356.4" r="0.95" fill="#2626a8"/>
<circle cx="260.4" cy="348.5" r="0.95" fill="#2626a8"/>
<circle cx="250.2" cy="353.1" r="0.95" fill="#2626a8"/>
<circle cx="242.3" cy="348.9" r="0.95" fill="#2626a8"/>
<circle cx="253.3" cy="360.3" r="0.95" fill="#2626a8"/>
<circle cx="261.0" cy="348.4" r="0.95" fill="#2626a8"/>
<circle cx="250.7" cy="342.6" r="0.95" fill="#2626a8"/>
<circle cx="251.1" cy="362.8" r="0.95" fill="#2626a8"/>
<circle cx="255.5" cy="343.2" r="0.95" fill="#2626a8"/>
<circle cx="259.0" cy="340.1" r="0.95" fill="#2626a8"/>
<circle cx="253.4" cy="353.3" r="0.95" fill="#2626a8"/>
<circle cx="246.6" cy="355.4" r="0.95" fill="#2626a8"/>
<circle cx="252.3" cy="360.2" r="0.95" fill="#2626a8"/>
<circle cx="249.8" cy="360.5" r="0.95" fill="#2626a8"/>
<circle cx="257.4" cy="344.9" r="0.95" fill="#2626a8"/>
<circle cx="251.2" cy="361.2" r="0.95" fill="#2626a8"/>
<circle cx="250.2" cy="345.2" r="0.95" fill="#2626a8"/>
<circle cx="251.2" cy="345.2" r="0.95" fill="#2626a8"/>
<circle cx="251.4" cy="362.0" r="0.95" fill="#2626a8"/>
<circle cx="262.8" cy="344.3" r="0.95" fill="#2626a8"/>
<circle cx="250.5" cy="360.1" r="0.95" fill="#2626a8"/>
<circle cx="257.4" cy="339.5" r="0.95" fill="#2626a8"/>
<circle cx="243.1" cy="347.1" r="0.95" fill="#2626a8"/>
<circle cx="250.6" cy="360.9" r="0.95" fill="#2626a8"/>
<circle cx="245.7" cy="343.4" r="0.95" fill="#2626a8"/>
<circle cx="250.7" cy="362.9" r="0.95" fill="#2626a8"/>
<circle cx="246.9" cy="350.6" r="0.95" fill="#2626a8"/>
<circle cx="240.6" cy="341.4" r="0.95" fill="#2626a8"/>
<circle cx="250.5" cy="340.9" r="0.95" fill="#2626a8"/>
<circle cx="255.4" cy="349.6" r="0.95" fill="#2626a8"/>
<circle cx="253.5" cy="359.1" r="0.95" fill="#2626a8"/>
<circle cx="253.4" cy="342.8" r="0.95" fill="#2626a8"/>
<circle cx="245.9" cy="342.9" r="0.95" fill="#2626a8"/>
<circle cx="249.3" cy="348.6" r="0.95" fill="#2626a8"/>
<circle cx="250.6" cy="359.3" r="0.95" fill="#2626a8"/>
<circle cx="254.6" cy="343.3" r="0.95" fill="#2626a8"/>
<circle cx="261.7" cy="345.6" r="0.95" fill="#2626a8"/>
<circle cx="241.5" cy="342.0" r="0.95" fill="#2626a8"/>
<circle cx="245.5" cy="341.0" r="0.95" fill="#2626a8"/>
<circle cx="247.7" cy="357.9" r="0.95" fill="#2626a8"/>
<circle cx="256.7" cy="353.8" r="0.95" fill="#2626a8"/>
<circle cx="258.0" cy="344.9" r="0.95" fill="#2626a8"/>
<circle cx="255.3" cy="354.9" r="0.95" fill="#2626a8"/>
<circle cx="248.9" cy="352.8" r="0.95" fill="#2626a8"/>
<circle cx="250.5" cy="361.3" r="0.95" fill="#2626a8"/>
<circle cx="250.4" cy="362.4" r="0.95" fill="#2626a8"/>
<circle cx="250.1" cy="353.3" r="0.95" fill="#2626a8"/>
<circle cx="253.5" cy="357.7" r="0.95" fill="#2626a8"/>
<circle cx="249.2" cy="351.6" r="0.95" fill="#2626a8"/>
<circle cx="246.6" cy="356.7" r="0.95" fill="#2626a8"/>
<circle cx="247.7" cy="360.3" r="0.95" fill="#2626a8"/>
<circle cx="247.7" cy="352.4" r="0.95" fill="#2626a8"/>
<circle cx="249.9" cy="354.7" r="0.95" fill="#2626a8"/>
<circle cx="251.2" cy="362.7" r="0.95" fill="#2626a8"/>
<circle cx="253.7" cy="358.3" r="0.95" fill="#2626a8"/>
<circle cx="252.9" cy="355.4" r="0.95" fill="#2626a8"/>
<circle cx="252.5" cy="352.5" r="0.95" fill="#2626a8"/>
<circle cx="253.4" cy="350.9" r="0.95" fill="#2626a8"/>
<circle cx="249.7" cy="357.3" r="0.95" fill="#2626a8"/>
<circle cx="250.9" cy="361.4" r="0.95" fill="#2626a8"/>
<circle cx="253.2" cy="350.5" r="0.95" fill="#2626a8"/>
<circle cx="255.1" cy="352.9" r="0.95" fill="#2626a8"/>
<circle cx="248.5" cy="355.5" r="0.95" fill="#2626a8"/>
<circle cx="250.0" cy="356.4" r="0.95" fill="#2626a8"/>
<circle cx="250.1" cy="356.6" r="0.95" fill="#2626a8"/>
<circle cx="251.1" cy="360.6" r="0.95" fill="#2626a8"/>
<circle cx="253.4" cy="353.7" r="0.95" fill="#2626a8"/>
<circle cx="251.8" cy="360.6" r="0.95" fill="#2626a8"/>
<circle cx="248.3" cy="358.2" r="0.95" fill="#2626a8"/>
<circle cx="251.8" cy="352.9" r="0.95" fill="#2626a8"/>
<circle cx="250.5" cy="358.0" r="0.95" fill="#2626a8"/>
<circle cx="251.7" cy="351.7" r="0.95" fill="#2626a8"/>
<circle cx="248.9" cy="351.2" r="0.95" fill="#2626a8"/>
<circle cx="246.3" cy="359.8" r="0.95" fill="#2626a8"/>
<circle cx="254.7" cy="352.9" r="0.95" fill="#2626a8"/>
<circle cx="255.9" cy="354.9" r="0.95" fill="#2626a8"/>
<circle cx="247.9" cy="352.2" r="0.95" fill="#2626a8"/>
<circle cx="249.5" cy="357.0" r="0.95" fill="#2626a8"/>
<circle cx="250.0" cy="355.9" r="0.95" fill="#2626a8"/>
<circle cx="253.8" cy="355.9" r="0.95" fill="#2626a8"/>
<circle cx="248.8" cy="358.9" r="0.95" fill="#2626a8"/>
<circle cx="251.7" cy="362.8" r="0.95" fill="#2626a8"/>
<circle cx="251.1" cy="351.4" r="0.95" fill="#2626a8"/>
<circle cx="248.4" cy="360.5" r="0.95" fill="#2626a8"/>
<circle cx="247.9" cy="359.2" r="0.95" fill="#2626a8"/>
<circle cx="249.6" cy="353.0" r="0.95" fill="#2626a8"/>
<circle cx="251.0" cy="350.2" r="0.95" fill="#2626a8"/>
<circle cx="249.1" cy="351.4" r="0.95" fill="#2626a8"/>
<circle cx="250.5" cy="360.5" r="0.95" fill="#2626a8"/>
<circle cx="250.7" cy="356.8" r="0.95" fill="#2626a8"/>
<circle cx="252.3" cy="352.1" r="0.95" fill="#2626a8"/>
<circle cx="249.5" cy="362.2" r="0.95" fill="#2626a8"/>
<circle cx="395.9" cy="263.5" r="0.95" fill="#8a2424"/>
<circle cx="395.4" cy="278.1" r="0.95" fill="#8a2424"/>
<circle cx="371.5" cy="285.2" r="0.95" fill="#8a2424"/>
<circle cx="404.1" cy="283.7" r="0.95" fill="#8a2424"/>
<circle cx="406.7" cy="284.6" r="0.95" fill="#8a2424"/>
<circle cx="408.9" cy="284.2" r="0.95" fill="#8a2424"/>
<circle cx="412.2" cy="278.7" r="0.95" fill="#8a2424"/>
<circle cx="410.6" cy="280.9" r="0.95" fill="#8a2424"/>
<circle cx="388.2" cy="290.0" r="0.95" fill="#8a2424"/>
<circle cx="408.5" cy="289.6" r="0.95" fill="#8a2424"/>
<circle cx="398.5" cy="294.0" r="0.95" fill="#8a2424"/>
<circle cx="411.1" cy="297.2" r="0.95" fill="#8a2424"/>
<circle cx="387.2" cy="299.8" r="0.95" fill="#8a2424"/>
<circle cx="404.1" cy="299.4" r="0.95" fill="#8a2424"/>
<circle cx="405.0" cy="302.0" r="0.95" fill="#8a2424"/>
<circle cx="395.9" cy="302.6" r="0.95" fill="#8a2424"/>
<circle cx="398.7" cy="303.7" r="0.95" fill="#8a2424"/>
<circle cx="412.2" cy="303.7" r="0.95" fill="#8a2424"/>
<circle cx="383.9" cy="305.9" r="0.95" fill="#8a2424"/>
<circle cx="381.7" cy="308.1" r="0.95" fill="#8a2424"/>
<circle cx="378.5" cy="309.8" r="0.95" fill="#8a2424"/>
<circle cx="389.3" cy="304.8" r="0.95" fill="#8a2424"/>
<circle cx="390.4" cy="308.1" r="0.95" fill="#8a2424"/>
<circle cx="366.5" cy="314.2" r="0.95" fill="#8a2424"/>
<circle cx="373.0" cy="314.2" r="0.95" fill="#8a2424"/>
<circle cx="376.3" cy="315.7" r="0.95" fill="#8a2424"/>
<circle cx="386.1" cy="314.6" r="0.95" fill="#8a2424"/>
<circle cx="392.6" cy="310.3" r="0.95" fill="#8a2424"/>
<circle cx="394.8" cy="309.2" r="0.95" fill="#8a2424"/>
<circle cx="396.9" cy="314.2" r="0.95" fill="#8a2424"/>
<circle cx="400.2" cy="310.3" r="0.95" fill="#8a2424"/>
<circle cx="404.1" cy="314.6" r="0.95" fill="#8a2424"/>
<circle cx="407.8" cy="312.4" r="0.95" fill="#8a2424"/>
<circle cx="413.3" cy="310.3" r="0.95" fill="#8a2424"/>
<circle cx="414.3" cy="314.6" r="0.95" fill="#8a2424"/>
<circle cx="390.4" cy="317.9" r="0.95" fill="#8a2424"/>
<circle cx="398.0" cy="318.5" r="0.95" fill="#8a2424"/>
<circle cx="402.4" cy="320.0" r="0.95" fill="#8a2424"/>
<circle cx="406.7" cy="319.0" r="0.95" fill="#8a2424"/>
<circle cx="411.1" cy="317.9" r="0.95" fill="#8a2424"/>
<circle cx="388.2" cy="321.6" r="0.95" fill="#8a2424"/>
<circle cx="400.2" cy="322.2" r="0.95" fill="#8a2424"/>
<circle cx="405.6" cy="321.6" r="0.95" fill="#8a2424"/>
<circle cx="413.3" cy="320.0" r="0.95" fill="#8a2424"/>
<circle cx="431.3" cy="272.8" r="0.95" fill="#8a2424"/>
<circle cx="469.6" cy="266.3" r="0.95" fill="#8a2424"/>
<circle cx="449.3" cy="272.8" r="0.95" fill="#8a2424"/>
<circle cx="453.7" cy="274.3" r="0.95" fill="#8a2424"/>
<circle cx="448.7" cy="287.4" r="0.95" fill="#8a2424"/>
<circle cx="440.7" cy="288.5" r="0.95" fill="#8a2424"/>
<circle cx="439.6" cy="291.7" r="0.95" fill="#8a2424"/>
<circle cx="434.8" cy="297.2" r="0.95" fill="#8a2424"/>
<circle cx="454.8" cy="295.4" r="0.95" fill="#8a2424"/>
<circle cx="459.6" cy="297.6" r="0.95" fill="#8a2424"/>
<circle cx="461.3" cy="297.6" r="0.95" fill="#8a2424"/>
<circle cx="463.5" cy="295.0" r="0.95" fill="#8a2424"/>
<circle cx="467.4" cy="294.6" r="0.95" fill="#8a2424"/>
<circle cx="436.3" cy="303.7" r="0.95" fill="#8a2424"/>
<circle cx="440.0" cy="302.6" r="0.95" fill="#8a2424"/>
<circle cx="441.7" cy="303.3" r="0.95" fill="#8a2424"/>
<circle cx="450.0" cy="303.3" r="0.95" fill="#8a2424"/>
<circle cx="460.2" cy="302.0" r="0.95" fill="#8a2424"/>
<circle cx="461.3" cy="305.4" r="0.95" fill="#8a2424"/>
<circle cx="466.1" cy="306.3" r="0.95" fill="#8a2424"/>
<circle cx="457.0" cy="305.9" r="0.95" fill="#8a2424"/>
<circle cx="454.8" cy="308.5" r="0.95" fill="#8a2424"/>
<circle cx="463.0" cy="308.0" r="0.95" fill="#8a2424"/>
<circle cx="435.2" cy="310.2" r="0.95" fill="#8a2424"/>
<circle cx="440.7" cy="308.5" r="0.95" fill="#8a2424"/>
<circle cx="442.8" cy="311.3" r="0.95" fill="#8a2424"/>
<circle cx="454.8" cy="311.3" r="0.95" fill="#8a2424"/>
<circle cx="429.8" cy="314.1" r="0.95" fill="#8a2424"/>
<circle cx="427.6" cy="315.7" r="0.95" fill="#8a2424"/>
<circle cx="432.0" cy="315.7" r="0.95" fill="#8a2424"/>
<circle cx="438.5" cy="315.0" r="0.95" fill="#8a2424"/>
<circle cx="446.1" cy="314.6" r="0.95" fill="#8a2424"/>
<circle cx="448.3" cy="316.3" r="0.95" fill="#8a2424"/>
<circle cx="455.9" cy="314.6" r="0.95" fill="#8a2424"/>
<circle cx="471.1" cy="315.0" r="0.95" fill="#8a2424"/>
<circle cx="474.3" cy="317.8" r="0.95" fill="#8a2424"/>
<circle cx="437.8" cy="318.5" r="0.95" fill="#8a2424"/>
<circle cx="445.0" cy="318.9" r="0.95" fill="#8a2424"/>
<circle cx="450.4" cy="318.5" r="0.95" fill="#8a2424"/>
<circle cx="453.7" cy="320.0" r="0.95" fill="#8a2424"/>
<circle cx="433.0" cy="321.1" r="0.95" fill="#8a2424"/>
<circle cx="441.7" cy="321.5" r="0.95" fill="#8a2424"/>
<circle cx="447.2" cy="322.2" r="0.95" fill="#8a2424"/>
<circle cx="366.5" cy="325.9" r="0.95" fill="#2626a8"/>
<circle cx="380.6" cy="327.7" r="0.95" fill="#2626a8"/>
<circle cx="386.8" cy="331.6" r="0.95" fill="#2626a8"/>
<circle cx="382.8" cy="341.0" r="0.95" fill="#2626a8"/>
<circle cx="398.6" cy="341.0" r="0.95" fill="#2626a8"/>
<circle cx="390.9" cy="326.7" r="0.95" fill="#2626a8"/>
<circle cx="392.4" cy="328.1" r="0.95" fill="#2626a8"/>
<circle cx="394.6" cy="328.9" r="0.95" fill="#2626a8"/>
<circle cx="395.4" cy="331.1" r="0.95" fill="#2626a8"/>
<circle cx="396.1" cy="333.3" r="0.95" fill="#2626a8"/>
<circle cx="393.9" cy="330.4" r="0.95" fill="#2626a8"/>
<circle cx="444.2" cy="327.7" r="0.95" fill="#2626a8"/>
<circle cx="449.0" cy="326.7" r="0.95" fill="#2626a8"/>
<circle cx="453.8" cy="328.7" r="0.95" fill="#2626a8"/>
<circle cx="446.2" cy="334.4" r="0.95" fill="#2626a8"/>
<circle cx="451.0" cy="335.0" r="0.95" fill="#2626a8"/>
<circle cx="464.4" cy="332.5" r="0.95" fill="#2626a8"/>
<circle cx="474.0" cy="328.1" r="0.95" fill="#2626a8"/>
<circle cx="478.8" cy="335.4" r="0.95" fill="#2626a8"/>
<circle cx="468.3" cy="339.8" r="0.95" fill="#2626a8"/>
<circle cx="472.1" cy="341.2" r="0.95" fill="#2626a8"/>
<circle cx="471.2" cy="342.7" r="0.95" fill="#2626a8"/>
<circle cx="456.2" cy="340.2" r="0.95" fill="#2626a8"/>
<circle cx="451.0" cy="345.0" r="0.95" fill="#2626a8"/>
<circle cx="455.8" cy="346.9" r="0.95" fill="#2626a8"/>
<circle cx="443.8" cy="347.9" r="0.95" fill="#2626a8"/>
<circle cx="486.5" cy="336.9" r="0.95" fill="#2626a8"/>
<circle cx="489.4" cy="341.5" r="0.95" fill="#2626a8"/>
<circle cx="490.4" cy="341.5" r="0.95" fill="#2626a8"/>
<circle cx="488.5" cy="324.2" r="0.95" fill="#2626a8"/>
<circle cx="446.2" cy="339.2" r="0.95" fill="#2626a8"/>
<circle cx="408.3" cy="325.9" r="0.95" fill="#2626a8"/>
<circle cx="415.6" cy="350.5" r="0.95" fill="#2626a8"/>
<circle cx="430.0" cy="334.0" r="0.95" fill="#2626a8"/>
<circle cx="424.5" cy="352.5" r="0.95" fill="#2626a8"/>
<circle cx="415.5" cy="345.1" r="0.95" fill="#2626a8"/>
<circle cx="420.2" cy="361.9" r="0.95" fill="#2626a8"/>
<circle cx="420.0" cy="359.8" r="0.95" fill="#2626a8"/>
<circle cx="418.0" cy="337.6" r="0.95" fill="#2626a8"/>
<circle cx="413.0" cy="333.2" r="0.95" fill="#2626a8"/>
<circle cx="428.4" cy="345.5" r="0.95" fill="#2626a8"/>
<circle cx="417.1" cy="338.5" r="0.95" fill="#2626a8"/>
<circle cx="422.7" cy="361.6" r="0.95" fill="#2626a8"/>
<circle cx="423.5" cy="357.2" r="0.95" fill="#2626a8"/>
<circle cx="424.2" cy="354.6" r="0.95" fill="#2626a8"/>
<circle cx="414.4" cy="348.9" r="0.95" fill="#2626a8"/>
<circle cx="412.7" cy="337.8" r="0.95" fill="#2626a8"/>
<circle cx="431.1" cy="349.1" r="0.95" fill="#2626a8"/>
<circle cx="423.0" cy="361.1" r="0.95" fill="#2626a8"/>
<circle cx="414.5" cy="336.7" r="0.95" fill="#2626a8"/>
<circle cx="426.2" cy="345.4" r="0.95" fill="#2626a8"/>
<circle cx="425.9" cy="332.5" r="0.95" fill="#2626a8"/>
<circle cx="417.6" cy="350.9" r="0.95" fill="#2626a8"/>
<circle cx="426.4" cy="358.7" r="0.95" fill="#2626a8"/>
<circle cx="415.2" cy="332.7" r="0.95" fill="#2626a8"/>
<circle cx="431.3" cy="341.7" r="0.95" fill="#2626a8"/>
<circle cx="416.5" cy="329.8" r="0.95" fill="#2626a8"/>
<circle cx="409.1" cy="329.9" r="0.95" fill="#2626a8"/>
<circle cx="426.9" cy="351.5" r="0.95" fill="#2626a8"/>
<circle cx="428.2" cy="343.7" r="0.95" fill="#2626a8"/>
<circle cx="433.0" cy="339.1" r="0.95" fill="#2626a8"/>
<circle cx="405.5" cy="326.9" r="0.95" fill="#2626a8"/>
<circle cx="429.7" cy="352.0" r="0.95" fill="#2626a8"/>
<circle cx="420.6" cy="353.5" r="0.95" fill="#2626a8"/>
<circle cx="420.0" cy="361.5" r="0.95" fill="#2626a8"/>
<circle cx="411.2" cy="339.2" r="0.95" fill="#2626a8"/>
<circle cx="414.5" cy="327.1" r="0.95" fill="#2626a8"/>
<circle cx="432.7" cy="327.3" r="0.95" fill="#2626a8"/>
<circle cx="432.1" cy="332.6" r="0.95" fill="#2626a8"/>
<circle cx="413.9" cy="332.2" r="0.95" fill="#2626a8"/>
<circle cx="428.9" cy="344.6" r="0.95" fill="#2626a8"/>
<circle cx="429.4" cy="344.6" r="0.95" fill="#2626a8"/>
<circle cx="424.7" cy="351.7" r="0.95" fill="#2626a8"/>
<circle cx="438.1" cy="330.0" r="0.95" fill="#2626a8"/>
<circle cx="424.1" cy="359.9" r="0.95" fill="#2626a8"/>
<circle cx="430.4" cy="331.6" r="0.95" fill="#2626a8"/>
<circle cx="413.8" cy="341.0" r="0.95" fill="#2626a8"/>
<circle cx="415.4" cy="336.7" r="0.95" fill="#2626a8"/>
<circle cx="418.4" cy="345.3" r="0.95" fill="#2626a8"/>
<circle cx="423.9" cy="352.3" r="0.95" fill="#2626a8"/>
<circle cx="426.7" cy="347.9" r="0.95" fill="#2626a8"/>
<circle cx="432.7" cy="332.9" r="0.95" fill="#2626a8"/>
<circle cx="430.3" cy="340.1" r="0.95" fill="#2626a8"/>
<circle cx="410.3" cy="332.7" r="0.95" fill="#2626a8"/>
<circle cx="419.9" cy="351.0" r="0.95" fill="#2626a8"/>
<circle cx="411.8" cy="327.9" r="0.95" fill="#2626a8"/>
<circle cx="433.9" cy="343.0" r="0.95" fill="#2626a8"/>
<circle cx="408.3" cy="335.6" r="0.95" fill="#2626a8"/>
<circle cx="415.3" cy="343.1" r="0.95" fill="#2626a8"/>
<circle cx="408.1" cy="325.7" r="0.95" fill="#2626a8"/>
<circle cx="421.4" cy="353.2" r="0.95" fill="#2626a8"/>
<circle cx="418.8" cy="346.6" r="0.95" fill="#2626a8"/>
<circle cx="437.4" cy="334.0" r="0.95" fill="#2626a8"/>
<circle cx="413.1" cy="345.2" r="0.95" fill="#2626a8"/>
<circle cx="415.7" cy="346.5" r="0.95" fill="#2626a8"/>
<circle cx="425.7" cy="345.3" r="0.95" fill="#2626a8"/>
<circle cx="428.2" cy="344.5" r="0.95" fill="#2626a8"/>
<circle cx="432.1" cy="339.6" r="0.95" fill="#2626a8"/>
<circle cx="415.7" cy="333.6" r="0.95" fill="#2626a8"/>
<circle cx="428.9" cy="334.3" r="0.95" fill="#2626a8"/>
<circle cx="422.9" cy="360.3" r="0.95" fill="#2626a8"/>
<circle cx="421.6" cy="361.4" r="0.95" fill="#2626a8"/>
<circle cx="438.7" cy="334.6" r="0.95" fill="#2626a8"/>
<circle cx="409.1" cy="330.6" r="0.95" fill="#2626a8"/>
<circle cx="410.5" cy="327.1" r="0.95" fill="#2626a8"/>
<circle cx="410.9" cy="341.6" r="0.95" fill="#2626a8"/>
<circle cx="419.4" cy="354.8" r="0.95" fill="#2626a8"/>
<circle cx="433.6" cy="342.9" r="0.95" fill="#2626a8"/>
<circle cx="424.6" cy="355.7" r="0.95" fill="#2626a8"/>
<circle cx="415.6" cy="331.7" r="0.95" fill="#2626a8"/>
<circle cx="441.2" cy="327.6" r="0.95" fill="#2626a8"/>
<circle cx="412.7" cy="337.3" r="0.95" fill="#2626a8"/>
<circle cx="425.2" cy="360.0" r="0.95" fill="#2626a8"/>
<circle cx="435.9" cy="326.9" r="0.95" fill="#2626a8"/>
<circle cx="433.5" cy="340.2" r="0.95" fill="#2626a8"/>
<circle cx="426.1" cy="358.7" r="0.95" fill="#2626a8"/>
<circle cx="433.5" cy="341.1" r="0.95" fill="#2626a8"/>
<circle cx="415.9" cy="342.1" r="0.95" fill="#2626a8"/>
<circle cx="423.0" cy="357.3" r="0.95" fill="#2626a8"/>
<circle cx="412.8" cy="339.4" r="0.95" fill="#2626a8"/>
<circle cx="420.8" cy="360.5" r="0.95" fill="#2626a8"/>
<circle cx="414.6" cy="335.4" r="0.95" fill="#2626a8"/>
<circle cx="411.2" cy="338.0" r="0.95" fill="#2626a8"/>
<circle cx="430.0" cy="335.0" r="0.95" fill="#2626a8"/>
<circle cx="420.6" cy="353.0" r="0.95" fill="#2626a8"/>
<circle cx="432.6" cy="335.2" r="0.95" fill="#2626a8"/>
<circle cx="414.0" cy="328.4" r="0.95" fill="#2626a8"/>
<circle cx="428.3" cy="345.3" r="0.95" fill="#2626a8"/>
<circle cx="424.5" cy="350.7" r="0.95" fill="#2626a8"/>
<circle cx="419.5" cy="347.4" r="0.95" fill="#2626a8"/>
<circle cx="426.4" cy="345.5" r="0.95" fill="#2626a8"/>
<circle cx="429.3" cy="351.3" r="0.95" fill="#2626a8"/>
<circle cx="425.0" cy="357.8" r="0.95" fill="#2626a8"/>
<circle cx="419.3" cy="353.5" r="0.95" fill="#2626a8"/>
<circle cx="426.2" cy="354.2" r="0.95" fill="#2626a8"/>
<circle cx="421.1" cy="356.7" r="0.95" fill="#2626a8"/>
<circle cx="431.8" cy="328.2" r="0.95" fill="#2626a8"/>
<circle cx="423.6" cy="360.9" r="0.95" fill="#2626a8"/>
<circle cx="423.7" cy="355.3" r="0.95" fill="#2626a8"/>
<circle cx="414.8" cy="342.0" r="0.95" fill="#2626a8"/>
<circle cx="433.5" cy="330.4" r="0.95" fill="#2626a8"/>
<circle cx="434.5" cy="339.7" r="0.95" fill="#2626a8"/>
<circle cx="433.9" cy="337.8" r="0.95" fill="#2626a8"/>
<circle cx="415.7" cy="332.4" r="0.95" fill="#2626a8"/>
<circle cx="437.4" cy="331.4" r="0.95" fill="#2626a8"/>
<circle cx="419.5" cy="347.1" r="0.95" fill="#2626a8"/>
<circle cx="421.5" cy="354.2" r="0.95" fill="#2626a8"/>
<circle cx="415.2" cy="348.7" r="0.95" fill="#2626a8"/>
<circle cx="439.7" cy="329.1" r="0.95" fill="#2626a8"/>
<circle cx="409.8" cy="338.2" r="0.95" fill="#2626a8"/>
<circle cx="410.7" cy="340.6" r="0.95" fill="#2626a8"/>
<circle cx="428.5" cy="336.4" r="0.95" fill="#2626a8"/>
<circle cx="428.3" cy="340.2" r="0.95" fill="#2626a8"/>
<circle cx="405.6" cy="326.8" r="0.95" fill="#2626a8"/>
<circle cx="424.1" cy="361.1" r="0.95" fill="#2626a8"/>
<circle cx="419.6" cy="358.3" r="0.95" fill="#2626a8"/>
<circle cx="426.8" cy="357.3" r="0.95" fill="#2626a8"/>
<circle cx="416.0" cy="338.6" r="0.95" fill="#2626a8"/>
<circle cx="419.4" cy="357.7" r="0.95" fill="#2626a8"/>
<circle cx="442.1" cy="326.0" r="0.95" fill="#2626a8"/>
<circle cx="418.0" cy="346.2" r="0.95" fill="#2626a8"/>
<circle cx="420.4" cy="349.2" r="0.95" fill="#2626a8"/>
<circle cx="426.7" cy="349.6" r="0.95" fill="#2626a8"/>
<circle cx="433.3" cy="331.4" r="0.95" fill="#2626a8"/>
<circle cx="435.4" cy="334.0" r="0.95" fill="#2626a8"/>
<circle cx="422.4" cy="360.3" r="0.95" fill="#2626a8"/>
<circle cx="418.0" cy="351.6" r="0.95" fill="#2626a8"/>
<circle cx="415.3" cy="346.2" r="0.95" fill="#2626a8"/>
<circle cx="417.9" cy="342.4" r="0.95" fill="#2626a8"/>
<circle cx="422.0" cy="360.2" r="0.95" fill="#2626a8"/>
<circle cx="430.0" cy="347.2" r="0.95" fill="#2626a8"/>
<circle cx="426.4" cy="353.8" r="0.95" fill="#2626a8"/>
<circle cx="417.6" cy="353.5" r="0.95" fill="#2626a8"/>
<circle cx="427.9" cy="350.6" r="0.95" fill="#2626a8"/>
<circle cx="417.1" cy="335.8" r="0.95" fill="#2626a8"/>
<circle cx="416.0" cy="342.0" r="0.95" fill="#2626a8"/>
<circle cx="435.7" cy="339.8" r="0.95" fill="#2626a8"/>
<circle cx="436.4" cy="330.2" r="0.95" fill="#2626a8"/>
<circle cx="417.4" cy="335.5" r="0.95" fill="#2626a8"/>
<circle cx="424.7" cy="350.9" r="0.95" fill="#2626a8"/>
<circle cx="420.6" cy="358.3" r="0.95" fill="#2626a8"/>
<circle cx="419.9" cy="345.8" r="0.95" fill="#2626a8"/>
<circle cx="432.7" cy="342.6" r="0.95" fill="#2626a8"/>
<circle cx="420.5" cy="359.6" r="0.95" fill="#2626a8"/>
<circle cx="423.2" cy="360.2" r="0.95" fill="#2626a8"/>
<circle cx="419.4" cy="357.7" r="0.95" fill="#2626a8"/>
<circle cx="435.9" cy="328.0" r="0.95" fill="#2626a8"/>
<circle cx="410.9" cy="336.6" r="0.95" fill="#2626a8"/>
<circle cx="426.3" cy="351.4" r="0.95" fill="#2626a8"/>
<circle cx="420.7" cy="357.2" r="0.95" fill="#2626a8"/>
<circle cx="412.1" cy="331.1" r="0.95" fill="#2626a8"/>
<circle cx="406.3" cy="328.7" r="0.95" fill="#2626a8"/>
<circle cx="429.8" cy="339.2" r="0.95" fill="#2626a8"/>
<circle cx="438.9" cy="330.0" r="0.95" fill="#2626a8"/>
<circle cx="420.7" cy="361.9" r="0.95" fill="#2626a8"/>
<circle cx="423.6" cy="341.3" r="0.95" fill="#2626a8"/>
<circle cx="420.4" cy="357.8" r="0.95" fill="#2626a8"/>
<circle cx="418.2" cy="350.6" r="0.95" fill="#2626a8"/>
<circle cx="426.5" cy="355.6" r="0.95" fill="#2626a8"/>
<circle cx="423.3" cy="355.8" r="0.95" fill="#2626a8"/>
<circle cx="408.0" cy="334.6" r="0.95" fill="#2626a8"/>
<circle cx="424.6" cy="359.0" r="0.95" fill="#2626a8"/>
<circle cx="424.3" cy="357.4" r="0.95" fill="#2626a8"/>
<circle cx="415.0" cy="346.9" r="0.95" fill="#2626a8"/>
<circle cx="433.7" cy="338.0" r="0.95" fill="#2626a8"/>
<circle cx="416.0" cy="347.5" r="0.95" fill="#2626a8"/>
<circle cx="413.0" cy="339.5" r="0.95" fill="#2626a8"/>
<circle cx="423.2" cy="358.7" r="0.95" fill="#2626a8"/>
<circle cx="427.6" cy="343.7" r="0.95" fill="#2626a8"/>
<circle cx="429.1" cy="338.5" r="0.95" fill="#2626a8"/>
<circle cx="422.6" cy="358.7" r="0.95" fill="#2626a8"/>
<circle cx="416.5" cy="349.9" r="0.95" fill="#2626a8"/>
<circle cx="423.5" cy="357.2" r="0.95" fill="#2626a8"/>
<circle cx="414.7" cy="337.1" r="0.95" fill="#2626a8"/>
<circle cx="416.6" cy="341.0" r="0.95" fill="#2626a8"/>
<circle cx="415.7" cy="334.8" r="0.95" fill="#2626a8"/>
<circle cx="424.9" cy="357.9" r="0.95" fill="#2626a8"/>
<circle cx="424.1" cy="351.7" r="0.95" fill="#2626a8"/>
<circle cx="415.6" cy="336.4" r="0.95" fill="#2626a8"/>
<circle cx="430.0" cy="337.8" r="0.95" fill="#2626a8"/>
<circle cx="421.7" cy="360.0" r="0.95" fill="#2626a8"/>
<circle cx="428.6" cy="348.4" r="0.95" fill="#2626a8"/>
<circle cx="412.8" cy="333.2" r="0.95" fill="#2626a8"/>
<circle cx="433.7" cy="328.1" r="0.95" fill="#2626a8"/>
<circle cx="423.0" cy="359.1" r="0.95" fill="#2626a8"/>
<circle cx="419.8" cy="351.9" r="0.95" fill="#2626a8"/>
<circle cx="410.6" cy="325.5" r="0.95" fill="#2626a8"/>
<circle cx="415.4" cy="336.7" r="0.95" fill="#2626a8"/>
<circle cx="432.4" cy="342.8" r="0.95" fill="#2626a8"/>
<circle cx="421.6" cy="356.0" r="0.95" fill="#2626a8"/>
<circle cx="416.3" cy="352.6" r="0.95" fill="#2626a8"/>
<circle cx="412.7" cy="332.6" r="0.95" fill="#2626a8"/>
<circle cx="422.3" cy="361.8" r="0.95" fill="#2626a8"/>
<circle cx="424.3" cy="331.7" r="0.95" fill="#2626a8"/>
<circle cx="432.8" cy="334.2" r="0.95" fill="#2626a8"/>
<circle cx="422.3" cy="361.4" r="0.95" fill="#2626a8"/>
<circle cx="415.3" cy="332.3" r="0.95" fill="#2626a8"/>
<circle cx="435.7" cy="337.5" r="0.95" fill="#2626a8"/>
<circle cx="433.4" cy="340.2" r="0.95" fill="#2626a8"/>
<circle cx="415.5" cy="349.0" r="0.95" fill="#2626a8"/>
<circle cx="414.4" cy="335.9" r="0.95" fill="#2626a8"/>
<circle cx="427.6" cy="348.9" r="0.95" fill="#2626a8"/>
<circle cx="428.9" cy="352.2" r="0.95" fill="#2626a8"/>
<circle cx="430.1" cy="345.6" r="0.95" fill="#2626a8"/>
<circle cx="415.5" cy="332.9" r="0.95" fill="#2626a8"/>
<circle cx="429.9" cy="350.8" r="0.95" fill="#2626a8"/>
<circle cx="434.5" cy="332.1" r="0.95" fill="#2626a8"/>
<circle cx="405.3" cy="329.3" r="0.95" fill="#2626a8"/>
<circle cx="434.1" cy="332.4" r="0.95" fill="#2626a8"/>
<circle cx="442.1" cy="327.2" r="0.95" fill="#2626a8"/>
<circle cx="419.3" cy="354.2" r="0.95" fill="#2626a8"/>
<circle cx="415.6" cy="338.9" r="0.95" fill="#2626a8"/>
<circle cx="442.0" cy="326.3" r="0.95" fill="#2626a8"/>
<circle cx="428.3" cy="353.1" r="0.95" fill="#2626a8"/>
<circle cx="423.2" cy="360.2" r="0.95" fill="#2626a8"/>
<circle cx="422.8" cy="358.1" r="0.95" fill="#2626a8"/>
<circle cx="433.4" cy="345.0" r="0.95" fill="#2626a8"/>
<circle cx="436.3" cy="334.5" r="0.95" fill="#2626a8"/>
<circle cx="419.9" cy="347.4" r="0.95" fill="#2626a8"/>
<circle cx="437.4" cy="334.8" r="0.95" fill="#2626a8"/>
<circle cx="414.4" cy="344.9" r="0.95" fill="#2626a8"/>
<circle cx="408.6" cy="327.9" r="0.95" fill="#2626a8"/>
<circle cx="425.6" cy="346.4" r="0.95" fill="#2626a8"/>
<circle cx="420.1" cy="352.7" r="0.95" fill="#2626a8"/>
<circle cx="415.0" cy="325.9" r="0.95" fill="#2626a8"/>
<circle cx="419.9" cy="357.4" r="0.95" fill="#2626a8"/>
<circle cx="420.7" cy="358.9" r="0.95" fill="#2626a8"/>
<circle cx="412.7" cy="335.0" r="0.95" fill="#2626a8"/>
<circle cx="416.6" cy="330.6" r="0.95" fill="#2626a8"/>
<circle cx="424.2" cy="353.3" r="0.95" fill="#2626a8"/>
<circle cx="436.4" cy="330.3" r="0.95" fill="#2626a8"/>
<circle cx="418.6" cy="325.9" r="0.95" fill="#2626a8"/>
<circle cx="437.5" cy="335.3" r="0.95" fill="#2626a8"/>
<circle cx="427.8" cy="338.3" r="0.95" fill="#2626a8"/>
<circle cx="434.2" cy="342.5" r="0.95" fill="#2626a8"/>
<circle cx="436.8" cy="338.3" r="0.95" fill="#2626a8"/>
<circle cx="430.6" cy="336.6" r="0.95" fill="#2626a8"/>
<circle cx="425.3" cy="360.7" r="0.95" fill="#2626a8"/>
<circle cx="433.1" cy="340.4" r="0.95" fill="#2626a8"/>
<circle cx="418.0" cy="346.8" r="0.95" fill="#2626a8"/>
<circle cx="427.9" cy="354.8" r="0.95" fill="#2626a8"/>
<circle cx="423.9" cy="355.9" r="0.95" fill="#2626a8"/>
<circle cx="423.2" cy="361.6" r="0.95" fill="#2626a8"/>
<circle cx="418.8" cy="354.0" r="0.95" fill="#2626a8"/>
<circle cx="422.6" cy="357.8" r="0.95" fill="#2626a8"/>
<circle cx="424.0" cy="362.0" r="0.95" fill="#2626a8"/>
<circle cx="420.2" cy="361.4" r="0.95" fill="#2626a8"/>
<circle cx="422.4" cy="360.2" r="0.95" fill="#2626a8"/>
<circle cx="422.6" cy="354.2" r="0.95" fill="#2626a8"/>
<circle cx="426.2" cy="361.0" r="0.95" fill="#2626a8"/>
<circle cx="422.7" cy="360.9" r="0.95" fill="#2626a8"/>
<circle cx="424.0" cy="353.8" r="0.95" fill="#2626a8"/>
<circle cx="422.1" cy="354.1" r="0.95" fill="#2626a8"/>
<circle cx="423.6" cy="354.5" r="0.95" fill="#2626a8"/>
<circle cx="422.3" cy="353.2" r="0.95" fill="#2626a8"/>
<circle cx="423.1" cy="356.4" r="0.95" fill="#2626a8"/>
<circle cx="422.7" cy="354.6" r="0.95" fill="#2626a8"/>
<circle cx="420.6" cy="354.6" r="0.95" fill="#2626a8"/>
<circle cx="427.4" cy="360.7" r="0.95" fill="#2626a8"/>
<circle cx="422.3" cy="358.5" r="0.95" fill="#2626a8"/>
<circle cx="419.5" cy="360.3" r="0.95" fill="#2626a8"/>
<circle cx="421.1" cy="356.1" r="0.95" fill="#2626a8"/>
<circle cx="421.6" cy="355.3" r="0.95" fill="#2626a8"/>
<circle cx="417.0" cy="357.1" r="0.95" fill="#2626a8"/>
<circle cx="426.5" cy="353.7" r="0.95" fill="#2626a8"/>
<circle cx="418.3" cy="357.2" r="0.95" fill="#2626a8"/>
<circle cx="423.1" cy="359.7" r="0.95" fill="#2626a8"/>
<circle cx="423.2" cy="359.3" r="0.95" fill="#2626a8"/>
<circle cx="422.9" cy="353.5" r="0.95" fill="#2626a8"/>
<circle cx="421.8" cy="354.8" r="0.95" fill="#2626a8"/>
<circle cx="424.6" cy="353.3" r="0.95" fill="#2626a8"/>
<circle cx="428.2" cy="359.5" r="0.95" fill="#2626a8"/>
<circle cx="422.7" cy="362.0" r="0.95" fill="#2626a8"/>
<circle cx="416.8" cy="361.2" r="0.95" fill="#2626a8"/>
<circle cx="422.8" cy="358.9" r="0.95" fill="#2626a8"/>
<circle cx="419.8" cy="355.1" r="0.95" fill="#2626a8"/>
<circle cx="422.1" cy="356.6" r="0.95" fill="#2626a8"/>
<circle cx="422.2" cy="361.1" r="0.95" fill="#2626a8"/>
<circle cx="421.0" cy="357.8" r="0.95" fill="#2626a8"/>
<circle cx="419.1" cy="359.1" r="0.95" fill="#2626a8"/>
<circle cx="419.9" cy="354.3" r="0.95" fill="#2626a8"/>
<circle cx="422.5" cy="353.3" r="0.95" fill="#2626a8"/>
<circle cx="422.6" cy="362.0" r="0.95" fill="#2626a8"/>
<circle cx="417.4" cy="360.4" r="0.95" fill="#2626a8"/>
<circle cx="419.2" cy="356.0" r="0.95" fill="#2626a8"/>
<circle cx="427.6" cy="357.3" r="0.95" fill="#2626a8"/>
<circle cx="399.9" cy="292.4" r="0.95" fill="#8a2424"/>
<circle cx="402.6" cy="317.0" r="0.95" fill="#8a2424"/>
<circle cx="400.1" cy="287.3" r="0.95" fill="#8a2424"/>
<circle cx="398.1" cy="320.0" r="0.95" fill="#8a2424"/>
<circle cx="401.8" cy="307.9" r="0.95" fill="#8a2424"/>
<circle cx="400.5" cy="284.0" r="0.95" fill="#8a2424"/>
<circle cx="400.7" cy="285.3" r="0.95" fill="#8a2424"/>
<circle cx="404.2" cy="301.7" r="0.95" fill="#8a2424"/>
<circle cx="403.9" cy="308.3" r="0.95" fill="#8a2424"/>
<circle cx="408.3" cy="323.3" r="0.95" fill="#8a2424"/>
<circle cx="399.9" cy="311.3" r="0.95" fill="#8a2424"/>
<circle cx="400.9" cy="290.7" r="0.95" fill="#8a2424"/>
<circle cx="409.6" cy="299.5" r="0.95" fill="#8a2424"/>
<circle cx="402.8" cy="321.9" r="0.95" fill="#8a2424"/>
<circle cx="415.5" cy="316.8" r="0.95" fill="#8a2424"/>
<circle cx="408.9" cy="319.2" r="0.95" fill="#8a2424"/>
<circle cx="410.3" cy="321.8" r="0.95" fill="#8a2424"/>
<circle cx="401.0" cy="315.4" r="0.95" fill="#8a2424"/>
<circle cx="405.1" cy="324.0" r="0.95" fill="#8a2424"/>
<circle cx="408.2" cy="307.0" r="0.95" fill="#8a2424"/>
<circle cx="403.7" cy="320.0" r="0.95" fill="#8a2424"/>
<circle cx="408.8" cy="322.1" r="0.95" fill="#8a2424"/>
<circle cx="433.5" cy="296.4" r="0.95" fill="#8a2424"/>
<circle cx="438.8" cy="293.9" r="0.95" fill="#8a2424"/>
<circle cx="443.5" cy="291.5" r="0.95" fill="#8a2424"/>
<circle cx="436.8" cy="313.5" r="0.95" fill="#8a2424"/>
<circle cx="439.2" cy="310.3" r="0.95" fill="#8a2424"/>
<circle cx="442.1" cy="321.4" r="0.95" fill="#8a2424"/>
<circle cx="439.0" cy="299.4" r="0.95" fill="#8a2424"/>
<circle cx="446.8" cy="300.5" r="0.95" fill="#8a2424"/>
<circle cx="441.5" cy="318.8" r="0.95" fill="#8a2424"/>
<circle cx="440.9" cy="308.8" r="0.95" fill="#8a2424"/>
<circle cx="444.8" cy="292.2" r="0.95" fill="#8a2424"/>
<circle cx="432.4" cy="307.3" r="0.95" fill="#8a2424"/>
<circle cx="44.9" cy="264.4" r="0.5" fill="#2e1010"/>
<circle cx="53.1" cy="284.3" r="0.5" fill="#2e1010"/>
<circle cx="55.7" cy="283.1" r="0.5" fill="#2e1010"/>
<circle cx="63.7" cy="283.1" r="0.5" fill="#2e1010"/>
<circle cx="64.8" cy="286.0" r="0.5" fill="#2e1010"/>
<circle cx="66.3" cy="286.0" r="0.5" fill="#2e1010"/>
<circle cx="67.0" cy="293.9" r="0.5" fill="#2e1010"/>
<circle cx="77.4" cy="292.0" r="0.5" fill="#2e1010"/>
<circle cx="72.0" cy="297.9" r="0.5" fill="#2e1010"/>
<circle cx="74.5" cy="305.1" r="0.5" fill="#2e1010"/>
<circle cx="68.7" cy="308.0" r="0.5" fill="#2e1010"/>
<circle cx="75.2" cy="308.3" r="0.5" fill="#2e1010"/>
<circle cx="99.8" cy="262.9" r="0.5" fill="#2e1010"/>
<circle cx="105.2" cy="273.7" r="0.5" fill="#2e1010"/>
<circle cx="97.7" cy="276.6" r="0.5" fill="#2e1010"/>
<circle cx="95.1" cy="279.8" r="0.5" fill="#2e1010"/>
<circle cx="96.8" cy="281.7" r="0.5" fill="#2e1010"/>
<circle cx="98.3" cy="283.1" r="0.5" fill="#2e1010"/>
<circle cx="99.1" cy="285.3" r="0.5" fill="#2e1010"/>
<circle cx="102.3" cy="289.6" r="0.5" fill="#2e1010"/>
<circle cx="104.5" cy="288.9" r="0.5" fill="#2e1010"/>
<circle cx="92.9" cy="292.8" r="0.5" fill="#2e1010"/>
<circle cx="97.2" cy="293.6" r="0.5" fill="#2e1010"/>
<circle cx="98.7" cy="294.6" r="0.5" fill="#2e1010"/>
<circle cx="95.4" cy="298.2" r="0.5" fill="#2e1010"/>
<circle cx="100.9" cy="299.0" r="0.5" fill="#2e1010"/>
<circle cx="103.0" cy="299.7" r="0.5" fill="#2e1010"/>
<circle cx="113.1" cy="298.0" r="0.5" fill="#2e1010"/>
<circle cx="119.6" cy="300.0" r="0.5" fill="#2e1010"/>
<circle cx="108.0" cy="300.8" r="0.5" fill="#2e1010"/>
<circle cx="111.7" cy="301.1" r="0.5" fill="#2e1010"/>
<circle cx="125.3" cy="303.3" r="0.5" fill="#2e1010"/>
<circle cx="87.9" cy="304.0" r="0.5" fill="#2e1010"/>
<circle cx="91.5" cy="304.7" r="0.5" fill="#2e1010"/>
<circle cx="95.1" cy="302.5" r="0.5" fill="#2e1010"/>
<circle cx="99.4" cy="302.5" r="0.5" fill="#2e1010"/>
<circle cx="97.2" cy="305.4" r="0.5" fill="#2e1010"/>
<circle cx="108.8" cy="305.4" r="0.5" fill="#2e1010"/>
<circle cx="110.2" cy="306.2" r="0.5" fill="#2e1010"/>
<circle cx="113.8" cy="309.0" r="0.5" fill="#2e1010"/>
<circle cx="93.6" cy="307.6" r="0.5" fill="#2e1010"/>
<circle cx="86.4" cy="306.9" r="0.5" fill="#2e1010"/>
<circle cx="39.4" cy="317.6" r="0.5" fill="#2e1010"/>
<circle cx="47.0" cy="319.5" r="0.5" fill="#2e1010"/>
<circle cx="39.1" cy="327.0" r="0.5" fill="#2e1010"/>
<circle cx="59.1" cy="314.1" r="0.5" fill="#2e1010"/>
<circle cx="60.2" cy="319.5" r="0.5" fill="#2e1010"/>
<circle cx="61.4" cy="320.7" r="0.5" fill="#2e1010"/>
<circle cx="66.9" cy="320.7" r="0.5" fill="#2e1010"/>
<circle cx="62.2" cy="325.1" r="0.5" fill="#2e1010"/>
<circle cx="55.1" cy="327.0" r="0.5" fill="#2e1010"/>
<circle cx="54.4" cy="329.8" r="0.5" fill="#2e1010"/>
<circle cx="63.0" cy="330.5" r="0.5" fill="#2e1010"/>
<circle cx="69.0" cy="307.4" r="0.5" fill="#2e1010"/>
<circle cx="74.8" cy="307.8" r="0.5" fill="#2e1010"/>
<circle cx="74.0" cy="315.7" r="0.5" fill="#2e1010"/>
<circle cx="73.2" cy="323.5" r="0.5" fill="#2e1010"/>
<circle cx="76.4" cy="328.6" r="0.5" fill="#2e1010"/>
<circle cx="77.9" cy="334.1" r="0.5" fill="#2e1010"/>
<circle cx="75.6" cy="321.5" r="0.5" fill="#2e1010"/>
<circle cx="126.1" cy="303.1" r="0.5" fill="#2e1010"/>
<circle cx="136.5" cy="312.1" r="0.5" fill="#2e1010"/>
<circle cx="113.1" cy="309.5" r="0.5" fill="#2e1010"/>
<circle cx="111.4" cy="312.1" r="0.5" fill="#2e1010"/>
<circle cx="119.2" cy="317.3" r="0.5" fill="#2e1010"/>
<circle cx="127.0" cy="320.7" r="0.5" fill="#2e1010"/>
<circle cx="128.7" cy="323.3" r="0.5" fill="#2e1010"/>
<circle cx="136.5" cy="326.8" r="0.5" fill="#2e1010"/>
<circle cx="139.1" cy="327.7" r="0.5" fill="#2e1010"/>
<circle cx="143.4" cy="332.0" r="0.5" fill="#2e1010"/>
<circle cx="131.3" cy="332.8" r="0.5" fill="#2e1010"/>
<circle cx="122.7" cy="325.9" r="0.5" fill="#2e1010"/>
<circle cx="123.5" cy="331.1" r="0.5" fill="#2e1010"/>
<circle cx="112.3" cy="322.5" r="0.5" fill="#2e1010"/>
<circle cx="114.0" cy="328.5" r="0.5" fill="#2e1010"/>
<circle cx="116.6" cy="331.1" r="0.5" fill="#2e1010"/>
<circle cx="107.1" cy="329.4" r="0.5" fill="#2e1010"/>
<circle cx="109.7" cy="324.2" r="0.5" fill="#2e1010"/>
<circle cx="105.4" cy="317.3" r="0.5" fill="#2e1010"/>
<circle cx="108.0" cy="319.0" r="0.5" fill="#2e1010"/>
<circle cx="49.6" cy="346.2" r="0.5" fill="#12123e"/>
<circle cx="59.1" cy="346.2" r="0.5" fill="#12123e"/>
<circle cx="56.7" cy="350.9" r="0.5" fill="#12123e"/>
<circle cx="60.6" cy="350.6" r="0.5" fill="#12123e"/>
<circle cx="52.8" cy="354.5" r="0.5" fill="#12123e"/>
<circle cx="60.2" cy="354.5" r="0.5" fill="#12123e"/>
<circle cx="67.7" cy="347.7" r="0.5" fill="#12123e"/>
<circle cx="66.9" cy="336.4" r="0.5" fill="#12123e"/>
<circle cx="69.3" cy="338.8" r="0.5" fill="#12123e"/>
<circle cx="73.2" cy="349.8" r="0.5" fill="#12123e"/>
<circle cx="74.8" cy="359.2" r="0.5" fill="#12123e"/>
<circle cx="74.8" cy="338.8" r="0.5" fill="#12123e"/>
<circle cx="102.8" cy="340.6" r="0.5" fill="#12123e"/>
<circle cx="107.1" cy="341.5" r="0.5" fill="#12123e"/>
<circle cx="105.4" cy="343.2" r="0.5" fill="#12123e"/>
<circle cx="113.1" cy="341.5" r="0.5" fill="#12123e"/>
<circle cx="115.7" cy="339.8" r="0.5" fill="#12123e"/>
<circle cx="120.1" cy="339.8" r="0.5" fill="#12123e"/>
<circle cx="120.1" cy="342.3" r="0.5" fill="#12123e"/>
<circle cx="114.0" cy="345.8" r="0.5" fill="#12123e"/>
<circle cx="108.8" cy="346.7" r="0.5" fill="#12123e"/>
<circle cx="107.1" cy="350.1" r="0.5" fill="#12123e"/>
<circle cx="114.0" cy="348.4" r="0.5" fill="#12123e"/>
<circle cx="117.5" cy="349.3" r="0.5" fill="#12123e"/>
<circle cx="122.7" cy="345.8" r="0.5" fill="#12123e"/>
<circle cx="120.9" cy="347.5" r="0.5" fill="#12123e"/>
<circle cx="134.8" cy="340.1" r="0.5" fill="#12123e"/>
<circle cx="98.5" cy="341.5" r="0.5" fill="#12123e"/>
<circle cx="99.3" cy="350.1" r="0.5" fill="#12123e"/>
<circle cx="86.0" cy="323.7" r="0.5" fill="#2e1010"/>
<circle cx="92.1" cy="323.1" r="0.5" fill="#2e1010"/>
<circle cx="93.6" cy="320.8" r="0.5" fill="#2e1010"/>
<circle cx="94.6" cy="320.6" r="0.5" fill="#2e1010"/>
<circle cx="96.7" cy="313.2" r="0.5" fill="#2e1010"/>
<circle cx="93.3" cy="329.9" r="0.5" fill="#2e1010"/>
<circle cx="98.9" cy="334.5" r="0.5" fill="#2e1010"/>
<circle cx="86.8" cy="334.9" r="0.5" fill="#2e1010"/>
<circle cx="99.3" cy="281.9" r="0.5" fill="#2e1010"/>
<circle cx="95.1" cy="314.2" r="0.5" fill="#2e1010"/>
<circle cx="102.8" cy="333.6" r="0.5" fill="#2e1010"/>
<circle cx="96.2" cy="334.8" r="0.5" fill="#2e1010"/>
<circle cx="95.6" cy="333.0" r="0.5" fill="#2e1010"/>
<circle cx="97.1" cy="323.2" r="0.5" fill="#2e1010"/>
<circle cx="99.1" cy="324.3" r="0.5" fill="#2e1010"/>
<circle cx="92.8" cy="312.5" r="0.5" fill="#2e1010"/>
<circle cx="93.4" cy="321.3" r="0.5" fill="#2e1010"/>
<circle cx="90.4" cy="330.7" r="0.5" fill="#2e1010"/>
<circle cx="100.0" cy="280.3" r="0.5" fill="#2e1010"/>
<circle cx="96.3" cy="307.4" r="0.5" fill="#2e1010"/>
<circle cx="96.3" cy="329.5" r="0.5" fill="#2e1010"/>
<circle cx="100.5" cy="334.7" r="0.5" fill="#2e1010"/>
<circle cx="92.6" cy="302.7" r="0.5" fill="#2e1010"/>
<circle cx="101.5" cy="326.8" r="0.5" fill="#2e1010"/>
<circle cx="97.4" cy="284.5" r="0.5" fill="#2e1010"/>
<circle cx="95.4" cy="332.6" r="0.5" fill="#2e1010"/>
<circle cx="92.6" cy="289.4" r="0.5" fill="#2e1010"/>
<circle cx="98.4" cy="326.3" r="0.5" fill="#2e1010"/>
<circle cx="88.3" cy="334.7" r="0.5" fill="#2e1010"/>
<circle cx="88.6" cy="331.0" r="0.5" fill="#2e1010"/>
<circle cx="87.8" cy="334.6" r="0.5" fill="#2e1010"/>
<circle cx="102.5" cy="303.4" r="0.5" fill="#2e1010"/>
<circle cx="95.6" cy="334.2" r="0.5" fill="#2e1010"/>
<circle cx="98.3" cy="334.8" r="0.5" fill="#2e1010"/>
<circle cx="98.1" cy="300.1" r="0.5" fill="#2e1010"/>
<circle cx="101.3" cy="324.0" r="0.5" fill="#2e1010"/>
<circle cx="95.2" cy="333.0" r="0.5" fill="#2e1010"/>
<circle cx="94.5" cy="312.2" r="0.5" fill="#2e1010"/>
<circle cx="91.9" cy="334.3" r="0.5" fill="#2e1010"/>
<circle cx="97.5" cy="331.0" r="0.5" fill="#2e1010"/>
<circle cx="97.8" cy="283.2" r="0.5" fill="#2e1010"/>
<circle cx="95.6" cy="291.9" r="0.5" fill="#2e1010"/>
<circle cx="86.6" cy="332.6" r="0.5" fill="#2e1010"/>
<circle cx="100.5" cy="312.3" r="0.5" fill="#2e1010"/>
<circle cx="99.7" cy="334.4" r="0.5" fill="#2e1010"/>
<circle cx="95.4" cy="331.3" r="0.5" fill="#2e1010"/>
<circle cx="95.7" cy="302.2" r="0.5" fill="#2e1010"/>
<circle cx="100.0" cy="334.7" r="0.5" fill="#2e1010"/>
<circle cx="91.6" cy="334.6" r="0.5" fill="#2e1010"/>
<circle cx="94.8" cy="315.1" r="0.5" fill="#2e1010"/>
<circle cx="83.3" cy="327.4" r="0.5" fill="#2e1010"/>
<circle cx="99.3" cy="322.1" r="0.5" fill="#2e1010"/>
<circle cx="97.8" cy="316.8" r="0.5" fill="#2e1010"/>
<circle cx="92.7" cy="333.7" r="0.5" fill="#2e1010"/>
<circle cx="97.7" cy="289.6" r="0.5" fill="#2e1010"/>
<circle cx="91.5" cy="333.0" r="0.5" fill="#2e1010"/>
<circle cx="98.3" cy="304.9" r="0.5" fill="#2e1010"/>
<circle cx="97.0" cy="285.3" r="0.5" fill="#2e1010"/>
<circle cx="95.6" cy="292.2" r="0.5" fill="#2e1010"/>
<circle cx="91.7" cy="334.4" r="0.5" fill="#2e1010"/>
<circle cx="99.9" cy="334.9" r="0.5" fill="#2e1010"/>
<circle cx="96.0" cy="307.7" r="0.5" fill="#2e1010"/>
<circle cx="99.0" cy="331.4" r="0.5" fill="#2e1010"/>
<circle cx="89.1" cy="330.3" r="0.5" fill="#2e1010"/>
<circle cx="95.2" cy="333.3" r="0.5" fill="#2e1010"/>
<circle cx="93.5" cy="332.1" r="0.5" fill="#2e1010"/>
<circle cx="99.5" cy="317.8" r="0.5" fill="#2e1010"/>
<circle cx="89.5" cy="330.7" r="0.5" fill="#2e1010"/>
<circle cx="97.3" cy="288.7" r="0.5" fill="#2e1010"/>
<circle cx="96.6" cy="331.0" r="0.5" fill="#2e1010"/>
<circle cx="98.6" cy="324.1" r="0.5" fill="#2e1010"/>
<circle cx="97.0" cy="327.5" r="0.5" fill="#2e1010"/>
<circle cx="98.7" cy="317.0" r="0.5" fill="#2e1010"/>
<circle cx="98.3" cy="291.3" r="0.5" fill="#2e1010"/>
<circle cx="96.3" cy="282.1" r="0.5" fill="#2e1010"/>
<circle cx="91.2" cy="316.2" r="0.5" fill="#2e1010"/>
<circle cx="96.6" cy="333.9" r="0.5" fill="#2e1010"/>
<circle cx="97.2" cy="289.4" r="0.5" fill="#2e1010"/>
<circle cx="97.1" cy="308.0" r="0.5" fill="#2e1010"/>
<circle cx="96.1" cy="312.7" r="0.5" fill="#2e1010"/>
<circle cx="95.5" cy="322.2" r="0.5" fill="#2e1010"/>
<circle cx="96.4" cy="280.1" r="0.5" fill="#2e1010"/>
<circle cx="86.0" cy="334.7" r="0.5" fill="#2e1010"/>
<circle cx="96.3" cy="290.4" r="0.5" fill="#2e1010"/>
<circle cx="95.2" cy="305.1" r="0.5" fill="#2e1010"/>
<circle cx="94.4" cy="289.0" r="0.5" fill="#2e1010"/>
<circle cx="91.3" cy="328.2" r="0.5" fill="#2e1010"/>
<circle cx="93.3" cy="293.3" r="0.5" fill="#2e1010"/>
<circle cx="98.3" cy="325.4" r="0.5" fill="#2e1010"/>
<circle cx="88.5" cy="317.0" r="0.5" fill="#2e1010"/>
<circle cx="92.8" cy="313.5" r="0.5" fill="#2e1010"/>
<circle cx="99.5" cy="314.6" r="0.5" fill="#2e1010"/>
<circle cx="83.2" cy="334.6" r="0.5" fill="#2e1010"/>
<circle cx="92.6" cy="292.4" r="0.5" fill="#2e1010"/>
<circle cx="93.0" cy="305.8" r="0.5" fill="#2e1010"/>
<circle cx="100.3" cy="316.4" r="0.5" fill="#2e1010"/>
<circle cx="96.9" cy="324.3" r="0.5" fill="#2e1010"/>
<circle cx="95.7" cy="304.0" r="0.5" fill="#2e1010"/>
<circle cx="89.9" cy="335.0" r="0.5" fill="#2e1010"/>
<circle cx="91.7" cy="332.1" r="0.5" fill="#2e1010"/>
<circle cx="92.3" cy="308.2" r="0.5" fill="#2e1010"/>
<circle cx="97.2" cy="288.4" r="0.5" fill="#2e1010"/>
<circle cx="100.4" cy="331.4" r="0.5" fill="#2e1010"/>
<circle cx="96.6" cy="309.7" r="0.5" fill="#2e1010"/>
<circle cx="101.7" cy="332.7" r="0.5" fill="#2e1010"/>
<circle cx="102.7" cy="311.0" r="0.5" fill="#2e1010"/>
<circle cx="99.2" cy="324.3" r="0.5" fill="#2e1010"/>
<circle cx="94.5" cy="310.6" r="0.5" fill="#2e1010"/>
<circle cx="86.0" cy="332.8" r="0.5" fill="#2e1010"/>
<circle cx="98.4" cy="289.0" r="0.5" fill="#2e1010"/>
<circle cx="95.3" cy="292.4" r="0.5" fill="#2e1010"/>
<circle cx="100.4" cy="329.5" r="0.5" fill="#2e1010"/>
<circle cx="84.2" cy="334.0" r="0.5" fill="#2e1010"/>
<circle cx="97.0" cy="295.4" r="0.5" fill="#2e1010"/>
<circle cx="98.8" cy="307.2" r="0.5" fill="#2e1010"/>
<circle cx="94.1" cy="333.4" r="0.5" fill="#2e1010"/>
<circle cx="95.4" cy="323.8" r="0.5" fill="#2e1010"/>
<circle cx="99.2" cy="325.6" r="0.5" fill="#2e1010"/>
<circle cx="93.2" cy="313.5" r="0.5" fill="#2e1010"/>
<circle cx="97.0" cy="296.3" r="0.5" fill="#2e1010"/>
<circle cx="96.9" cy="282.0" r="0.5" fill="#2e1010"/>
<circle cx="96.2" cy="334.9" r="0.5" fill="#2e1010"/>
<circle cx="99.8" cy="293.1" r="0.5" fill="#2e1010"/>
<circle cx="97.8" cy="317.1" r="0.5" fill="#2e1010"/>
<circle cx="96.0" cy="329.7" r="0.5" fill="#2e1010"/>
<circle cx="94.4" cy="334.0" r="0.5" fill="#2e1010"/>
<circle cx="104.6" cy="323.6" r="0.5" fill="#2e1010"/>
<circle cx="97.3" cy="331.9" r="0.5" fill="#2e1010"/>
<circle cx="103.6" cy="333.9" r="0.5" fill="#2e1010"/>
<circle cx="97.8" cy="324.0" r="0.5" fill="#2e1010"/>
<circle cx="92.7" cy="313.2" r="0.5" fill="#2e1010"/>
<circle cx="95.2" cy="284.5" r="0.5" fill="#2e1010"/>
<circle cx="97.6" cy="309.2" r="0.5" fill="#2e1010"/>
<circle cx="101.9" cy="333.2" r="0.5" fill="#2e1010"/>
<circle cx="86.0" cy="335.0" r="0.5" fill="#2e1010"/>
<circle cx="97.2" cy="333.2" r="0.5" fill="#2e1010"/>
<circle cx="90.8" cy="330.9" r="0.5" fill="#2e1010"/>
<circle cx="101.5" cy="320.1" r="0.5" fill="#2e1010"/>
<circle cx="96.4" cy="314.2" r="0.5" fill="#2e1010"/>
<circle cx="94.4" cy="300.5" r="0.5" fill="#2e1010"/>
<circle cx="100.4" cy="289.8" r="0.5" fill="#2e1010"/>
<circle cx="100.0" cy="306.3" r="0.5" fill="#2e1010"/>
<circle cx="87.5" cy="334.1" r="0.5" fill="#2e1010"/>
<circle cx="97.8" cy="289.5" r="0.5" fill="#2e1010"/>
<circle cx="86.2" cy="327.2" r="0.5" fill="#2e1010"/>
<circle cx="94.7" cy="300.1" r="0.5" fill="#2e1010"/>
<circle cx="95.2" cy="286.0" r="0.5" fill="#2e1010"/>
<circle cx="97.5" cy="332.7" r="0.5" fill="#2e1010"/>
<circle cx="98.3" cy="306.3" r="0.5" fill="#2e1010"/>
<circle cx="92.7" cy="306.7" r="0.5" fill="#2e1010"/>
<circle cx="108.7" cy="332.5" r="0.5" fill="#2e1010"/>
<circle cx="95.2" cy="282.5" r="0.5" fill="#2e1010"/>
<circle cx="97.0" cy="319.1" r="0.5" fill="#2e1010"/>
<circle cx="95.8" cy="289.5" r="0.5" fill="#2e1010"/>
<circle cx="96.5" cy="294.7" r="0.5" fill="#2e1010"/>
<circle cx="97.5" cy="324.3" r="0.5" fill="#2e1010"/>
<circle cx="96.6" cy="318.3" r="0.5" fill="#2e1010"/>
<circle cx="88.5" cy="335.0" r="0.5" fill="#2e1010"/>
<circle cx="100.6" cy="299.0" r="0.5" fill="#2e1010"/>
<circle cx="99.7" cy="333.4" r="0.5" fill="#2e1010"/>
<circle cx="96.4" cy="328.8" r="0.5" fill="#2e1010"/>
<circle cx="92.4" cy="333.8" r="0.5" fill="#2e1010"/>
<circle cx="94.7" cy="320.3" r="0.5" fill="#2e1010"/>
<circle cx="90.6" cy="308.9" r="0.5" fill="#2e1010"/>
<circle cx="93.7" cy="285.8" r="0.5" fill="#2e1010"/>
<circle cx="111.8" cy="324.5" r="0.5" fill="#2e1010"/>
<circle cx="102.6" cy="328.3" r="0.5" fill="#2e1010"/>
<circle cx="106.7" cy="315.2" r="0.5" fill="#2e1010"/>
<circle cx="114.6" cy="320.5" r="0.5" fill="#2e1010"/>
<circle cx="110.8" cy="328.8" r="0.5" fill="#2e1010"/>
<circle cx="111.9" cy="326.2" r="0.5" fill="#2e1010"/>
<circle cx="107.9" cy="317.9" r="0.5" fill="#2e1010"/>
<circle cx="116.3" cy="318.2" r="0.5" fill="#2e1010"/>
<circle cx="91.6" cy="334.0" r="0.5" fill="#2e1010"/>
<circle cx="88.6" cy="318.4" r="0.5" fill="#2e1010"/>
<circle cx="92.8" cy="331.7" r="0.5" fill="#2e1010"/>
<circle cx="98.2" cy="324.5" r="0.5" fill="#2e1010"/>
<circle cx="91.7" cy="331.2" r="0.5" fill="#2e1010"/>
<circle cx="90.1" cy="322.0" r="0.5" fill="#2e1010"/>
<circle cx="94.2" cy="333.9" r="0.5" fill="#2e1010"/>
<circle cx="99.8" cy="330.3" r="0.5" fill="#2e1010"/>
<circle cx="94.5" cy="331.9" r="0.5" fill="#2e1010"/>
<circle cx="88.7" cy="333.5" r="0.5" fill="#2e1010"/>
<circle cx="92.0" cy="326.7" r="0.5" fill="#2e1010"/>
<circle cx="91.4" cy="324.7" r="0.5" fill="#2e1010"/>
<circle cx="92.3" cy="333.8" r="0.5" fill="#2e1010"/>
<circle cx="94.1" cy="332.7" r="0.5" fill="#2e1010"/>
<circle cx="85.0" cy="317.5" r="0.5" fill="#2e1010"/>
<circle cx="98.6" cy="328.8" r="0.5" fill="#2e1010"/>
<circle cx="96.4" cy="325.6" r="0.5" fill="#2e1010"/>
<circle cx="89.5" cy="334.0" r="0.5" fill="#2e1010"/>
<circle cx="91.6" cy="326.0" r="0.5" fill="#2e1010"/>
<circle cx="91.5" cy="334.2" r="0.5" fill="#2e1010"/>
<circle cx="90.9" cy="319.9" r="0.5" fill="#2e1010"/>
<circle cx="92.8" cy="328.6" r="0.5" fill="#2e1010"/>
<circle cx="94.1" cy="332.5" r="0.5" fill="#2e1010"/>
<circle cx="89.4" cy="334.1" r="0.5" fill="#2e1010"/>
<circle cx="95.2" cy="321.1" r="0.5" fill="#2e1010"/>
<circle cx="94.4" cy="334.8" r="0.5" fill="#2e1010"/>
<circle cx="96.0" cy="322.8" r="0.5" fill="#2e1010"/>
<circle cx="95.6" cy="334.2" r="0.5" fill="#2e1010"/>
<circle cx="91.4" cy="328.1" r="0.5" fill="#2e1010"/>
<circle cx="89.4" cy="328.5" r="0.5" fill="#2e1010"/>
<circle cx="76.8" cy="343.9" r="0.5" fill="#12123e"/>
<circle cx="91.1" cy="341.9" r="0.5" fill="#12123e"/>
<circle cx="94.4" cy="340.9" r="0.5" fill="#12123e"/>
<circle cx="88.5" cy="351.1" r="0.5" fill="#12123e"/>
<circle cx="93.7" cy="344.8" r="0.5" fill="#12123e"/>
<circle cx="94.4" cy="337.4" r="0.5" fill="#12123e"/>
<circle cx="90.8" cy="340.9" r="0.5" fill="#12123e"/>
<circle cx="84.5" cy="358.4" r="0.5" fill="#12123e"/>
<circle cx="82.5" cy="362.2" r="0.5" fill="#12123e"/>
<circle cx="81.9" cy="349.9" r="0.5" fill="#12123e"/>
<circle cx="87.8" cy="351.9" r="0.5" fill="#12123e"/>
<circle cx="93.5" cy="345.3" r="0.5" fill="#12123e"/>
<circle cx="83.7" cy="358.7" r="0.5" fill="#12123e"/>
<circle cx="79.7" cy="351.7" r="0.5" fill="#12123e"/>
<circle cx="76.2" cy="340.6" r="0.5" fill="#12123e"/>
<circle cx="94.1" cy="342.4" r="0.5" fill="#12123e"/>
<circle cx="91.8" cy="343.7" r="0.5" fill="#12123e"/>
<circle cx="93.7" cy="340.5" r="0.5" fill="#12123e"/>
<circle cx="93.8" cy="343.2" r="0.5" fill="#12123e"/>
<circle cx="77.7" cy="338.9" r="0.5" fill="#12123e"/>
<circle cx="82.9" cy="362.3" r="0.5" fill="#12123e"/>
<circle cx="92.3" cy="338.1" r="0.5" fill="#12123e"/>
<circle cx="84.1" cy="358.4" r="0.5" fill="#12123e"/>
<circle cx="96.6" cy="341.2" r="0.5" fill="#12123e"/>
<circle cx="83.2" cy="358.3" r="0.5" fill="#12123e"/>
<circle cx="84.8" cy="359.6" r="0.5" fill="#12123e"/>
<circle cx="82.5" cy="362.7" r="0.5" fill="#12123e"/>
<circle cx="85.2" cy="356.2" r="0.5" fill="#12123e"/>
<circle cx="87.1" cy="352.7" r="0.5" fill="#12123e"/>
<circle cx="86.4" cy="356.3" r="0.5" fill="#12123e"/>
<circle cx="88.2" cy="355.1" r="0.5" fill="#12123e"/>
<circle cx="92.2" cy="343.0" r="0.5" fill="#12123e"/>
<circle cx="87.6" cy="351.4" r="0.5" fill="#12123e"/>
<circle cx="90.7" cy="348.6" r="0.5" fill="#12123e"/>
<circle cx="83.1" cy="363.4" r="0.5" fill="#12123e"/>
<circle cx="91.9" cy="345.0" r="0.5" fill="#12123e"/>
<circle cx="89.8" cy="349.5" r="0.5" fill="#12123e"/>
<circle cx="84.3" cy="359.1" r="0.5" fill="#12123e"/>
<circle cx="85.0" cy="362.7" r="0.5" fill="#12123e"/>
<circle cx="79.2" cy="349.6" r="0.5" fill="#12123e"/>
<circle cx="86.9" cy="350.3" r="0.5" fill="#12123e"/>
<circle cx="78.1" cy="343.8" r="0.5" fill="#12123e"/>
<circle cx="83.8" cy="359.5" r="0.5" fill="#12123e"/>
<circle cx="92.4" cy="343.5" r="0.5" fill="#12123e"/>
<circle cx="95.3" cy="342.4" r="0.5" fill="#12123e"/>
<circle cx="76.9" cy="339.3" r="0.5" fill="#12123e"/>
<circle cx="88.6" cy="352.9" r="0.5" fill="#12123e"/>
<circle cx="89.0" cy="349.7" r="0.5" fill="#12123e"/>
<circle cx="91.2" cy="345.8" r="0.5" fill="#12123e"/>
<circle cx="85.2" cy="359.9" r="0.5" fill="#12123e"/>
<circle cx="84.9" cy="358.8" r="0.5" fill="#12123e"/>
<circle cx="97.5" cy="337.9" r="0.5" fill="#12123e"/>
<circle cx="95.1" cy="346.6" r="0.5" fill="#12123e"/>
<circle cx="92.5" cy="338.2" r="0.5" fill="#12123e"/>
<circle cx="75.7" cy="340.4" r="0.5" fill="#12123e"/>
<circle cx="92.2" cy="351.5" r="0.5" fill="#12123e"/>
<circle cx="97.0" cy="337.1" r="0.5" fill="#12123e"/>
<circle cx="89.4" cy="349.7" r="0.5" fill="#12123e"/>
<circle cx="78.9" cy="346.1" r="0.5" fill="#12123e"/>
<circle cx="84.1" cy="354.7" r="0.5" fill="#12123e"/>
<circle cx="86.6" cy="361.4" r="0.5" fill="#12123e"/>
<circle cx="81.5" cy="352.2" r="0.5" fill="#12123e"/>
<circle cx="92.1" cy="340.1" r="0.5" fill="#12123e"/>
<circle cx="78.7" cy="351.1" r="0.5" fill="#12123e"/>
<circle cx="83.2" cy="362.5" r="0.5" fill="#12123e"/>
<circle cx="97.9" cy="339.3" r="0.5" fill="#12123e"/>
<circle cx="77.1" cy="339.8" r="0.5" fill="#12123e"/>
<circle cx="84.2" cy="360.0" r="0.5" fill="#12123e"/>
<circle cx="80.0" cy="348.2" r="0.5" fill="#12123e"/>
<circle cx="76.2" cy="344.7" r="0.5" fill="#12123e"/>
<circle cx="96.8" cy="339.9" r="0.5" fill="#12123e"/>
<circle cx="77.8" cy="344.1" r="0.5" fill="#12123e"/>
<circle cx="91.6" cy="348.9" r="0.5" fill="#12123e"/>
<circle cx="81.6" cy="345.8" r="0.5" fill="#12123e"/>
<circle cx="83.2" cy="359.5" r="0.5" fill="#12123e"/>
<circle cx="83.1" cy="363.3" r="0.5" fill="#12123e"/>
<circle cx="86.6" cy="349.8" r="0.5" fill="#12123e"/>
<circle cx="90.1" cy="351.2" r="0.5" fill="#12123e"/>
<circle cx="92.2" cy="347.0" r="0.5" fill="#12123e"/>
<circle cx="79.7" cy="337.9" r="0.5" fill="#12123e"/>
<circle cx="97.1" cy="339.7" r="0.5" fill="#12123e"/>
<circle cx="85.0" cy="345.1" r="0.5" fill="#12123e"/>
<circle cx="81.7" cy="350.8" r="0.5" fill="#12123e"/>
<circle cx="78.3" cy="356.8" r="0.5" fill="#12123e"/>
<circle cx="79.0" cy="337.6" r="0.5" fill="#12123e"/>
<circle cx="86.9" cy="359.3" r="0.5" fill="#12123e"/>
<circle cx="96.9" cy="338.4" r="0.5" fill="#12123e"/>
<circle cx="89.4" cy="349.9" r="0.5" fill="#12123e"/>
<circle cx="95.0" cy="343.5" r="0.5" fill="#12123e"/>
<circle cx="86.3" cy="357.1" r="0.5" fill="#12123e"/>
<circle cx="93.0" cy="342.8" r="0.5" fill="#12123e"/>
<circle cx="81.1" cy="361.2" r="0.5" fill="#12123e"/>
<circle cx="93.5" cy="339.7" r="0.5" fill="#12123e"/>
<circle cx="84.2" cy="358.7" r="0.5" fill="#12123e"/>
<circle cx="80.2" cy="356.1" r="0.5" fill="#12123e"/>
<circle cx="76.4" cy="340.5" r="0.5" fill="#12123e"/>
<circle cx="87.1" cy="352.8" r="0.5" fill="#12123e"/>
<circle cx="78.2" cy="350.6" r="0.5" fill="#12123e"/>
<circle cx="85.4" cy="360.2" r="0.5" fill="#12123e"/>
<circle cx="87.1" cy="352.2" r="0.5" fill="#12123e"/>
<circle cx="85.3" cy="361.7" r="0.5" fill="#12123e"/>
<circle cx="85.2" cy="354.8" r="0.5" fill="#12123e"/>
<circle cx="91.0" cy="346.9" r="0.5" fill="#12123e"/>
<circle cx="91.1" cy="349.7" r="0.5" fill="#12123e"/>
<circle cx="80.6" cy="363.1" r="0.5" fill="#12123e"/>
<circle cx="91.0" cy="347.9" r="0.5" fill="#12123e"/>
<circle cx="92.9" cy="342.7" r="0.5" fill="#12123e"/>
<circle cx="93.2" cy="345.6" r="0.5" fill="#12123e"/>
<circle cx="83.7" cy="361.7" r="0.5" fill="#12123e"/>
<circle cx="78.8" cy="342.4" r="0.5" fill="#12123e"/>
<circle cx="96.4" cy="340.0" r="0.5" fill="#12123e"/>
<circle cx="94.3" cy="342.6" r="0.5" fill="#12123e"/>
<circle cx="77.0" cy="337.4" r="0.5" fill="#12123e"/>
<circle cx="85.7" cy="352.0" r="0.5" fill="#12123e"/>
<circle cx="81.2" cy="355.8" r="0.5" fill="#12123e"/>
<circle cx="82.2" cy="358.1" r="0.5" fill="#12123e"/>
<circle cx="74.8" cy="338.4" r="0.5" fill="#12123e"/>
<circle cx="85.7" cy="357.7" r="0.5" fill="#12123e"/>
<circle cx="85.9" cy="355.7" r="0.5" fill="#12123e"/>
<circle cx="93.3" cy="344.5" r="0.5" fill="#12123e"/>
<circle cx="82.4" cy="351.7" r="0.5" fill="#12123e"/>
<circle cx="86.3" cy="356.0" r="0.5" fill="#12123e"/>
<circle cx="82.7" cy="359.7" r="0.5" fill="#12123e"/>
<circle cx="84.8" cy="358.4" r="0.5" fill="#12123e"/>
<circle cx="91.7" cy="345.1" r="0.5" fill="#12123e"/>
<circle cx="87.3" cy="355.7" r="0.5" fill="#12123e"/>
<circle cx="79.1" cy="348.1" r="0.5" fill="#12123e"/>
<circle cx="93.0" cy="346.6" r="0.5" fill="#12123e"/>
<circle cx="86.8" cy="360.5" r="0.5" fill="#12123e"/>
<circle cx="87.1" cy="358.7" r="0.5" fill="#12123e"/>
<circle cx="92.8" cy="348.2" r="0.5" fill="#12123e"/>
<circle cx="93.2" cy="343.5" r="0.5" fill="#12123e"/>
<circle cx="82.5" cy="361.0" r="0.5" fill="#12123e"/>
<circle cx="88.5" cy="356.8" r="0.5" fill="#12123e"/>
<circle cx="83.9" cy="356.7" r="0.5" fill="#12123e"/>
<circle cx="82.9" cy="358.2" r="0.5" fill="#12123e"/>
<circle cx="83.3" cy="357.4" r="0.5" fill="#12123e"/>
<circle cx="87.2" cy="353.4" r="0.5" fill="#12123e"/>
<circle cx="75.4" cy="337.5" r="0.5" fill="#12123e"/>
<circle cx="94.0" cy="344.6" r="0.5" fill="#12123e"/>
<circle cx="85.9" cy="347.6" r="0.5" fill="#12123e"/>
<circle cx="78.4" cy="351.8" r="0.5" fill="#12123e"/>
<circle cx="81.8" cy="356.9" r="0.5" fill="#12123e"/>
<circle cx="84.1" cy="356.7" r="0.5" fill="#12123e"/>
<circle cx="89.1" cy="351.7" r="0.5" fill="#12123e"/>
<circle cx="79.9" cy="350.2" r="0.5" fill="#12123e"/>
<circle cx="79.8" cy="346.3" r="0.5" fill="#12123e"/>
<circle cx="80.9" cy="349.2" r="0.5" fill="#12123e"/>
<circle cx="85.6" cy="357.4" r="0.5" fill="#12123e"/>
<circle cx="78.6" cy="347.7" r="0.5" fill="#12123e"/>
<circle cx="86.2" cy="356.5" r="0.5" fill="#12123e"/>
<circle cx="87.3" cy="355.5" r="0.5" fill="#12123e"/>
<circle cx="84.1" cy="356.2" r="0.5" fill="#12123e"/>
<circle cx="78.4" cy="340.5" r="0.5" fill="#12123e"/>
<circle cx="85.3" cy="362.7" r="0.5" fill="#12123e"/>
<circle cx="84.8" cy="348.9" r="0.5" fill="#12123e"/>
<circle cx="90.3" cy="350.5" r="0.5" fill="#12123e"/>
<circle cx="91.1" cy="343.3" r="0.5" fill="#12123e"/>
<circle cx="89.0" cy="348.1" r="0.5" fill="#12123e"/>
<circle cx="90.7" cy="349.3" r="0.5" fill="#12123e"/>
<circle cx="85.7" cy="356.4" r="0.5" fill="#12123e"/>
<circle cx="84.2" cy="362.5" r="0.5" fill="#12123e"/>
<circle cx="93.8" cy="337.5" r="0.5" fill="#12123e"/>
<circle cx="79.9" cy="344.8" r="0.5" fill="#12123e"/>
<circle cx="89.3" cy="350.1" r="0.5" fill="#12123e"/>
<circle cx="95.0" cy="343.6" r="0.5" fill="#12123e"/>
<circle cx="97.3" cy="338.7" r="0.5" fill="#12123e"/>
<circle cx="94.4" cy="341.8" r="0.5" fill="#12123e"/>
<circle cx="80.5" cy="353.6" r="0.5" fill="#12123e"/>
<circle cx="82.9" cy="360.5" r="0.5" fill="#12123e"/>
<circle cx="80.4" cy="353.7" r="0.5" fill="#12123e"/>
<circle cx="94.2" cy="341.6" r="0.5" fill="#12123e"/>
<circle cx="83.1" cy="357.9" r="0.5" fill="#12123e"/>
<circle cx="88.4" cy="352.2" r="0.5" fill="#12123e"/>
<circle cx="92.3" cy="341.5" r="0.5" fill="#12123e"/>
<circle cx="90.6" cy="343.5" r="0.5" fill="#12123e"/>
<circle cx="95.9" cy="339.8" r="0.5" fill="#12123e"/>
<circle cx="78.1" cy="343.2" r="0.5" fill="#12123e"/>
<circle cx="85.6" cy="356.1" r="0.5" fill="#12123e"/>
<circle cx="90.7" cy="342.8" r="0.5" fill="#12123e"/>
<circle cx="87.7" cy="352.9" r="0.5" fill="#12123e"/>
<circle cx="84.9" cy="357.7" r="0.5" fill="#12123e"/>
<circle cx="79.5" cy="348.7" r="0.5" fill="#12123e"/>
<circle cx="94.1" cy="344.2" r="0.5" fill="#12123e"/>
<circle cx="78.5" cy="338.9" r="0.5" fill="#12123e"/>
<circle cx="90.4" cy="346.7" r="0.5" fill="#12123e"/>
<circle cx="81.8" cy="354.6" r="0.5" fill="#12123e"/>
<circle cx="84.0" cy="352.1" r="0.5" fill="#12123e"/>
<circle cx="86.0" cy="355.9" r="0.5" fill="#12123e"/>
<circle cx="75.2" cy="346.0" r="0.5" fill="#12123e"/>
<circle cx="239.5" cy="261.5" r="0.5" fill="#2e1010"/>
<circle cx="244.1" cy="273.3" r="0.5" fill="#2e1010"/>
<circle cx="231.0" cy="272.9" r="0.5" fill="#2e1010"/>
<circle cx="234.3" cy="275.5" r="0.5" fill="#2e1010"/>
<circle cx="235.6" cy="278.1" r="0.5" fill="#2e1010"/>
<circle cx="229.4" cy="279.8" r="0.5" fill="#2e1010"/>
<circle cx="234.7" cy="280.3" r="0.5" fill="#2e1010"/>
<circle cx="239.5" cy="282.0" r="0.5" fill="#2e1010"/>
<circle cx="238.9" cy="285.0" r="0.5" fill="#2e1010"/>
<circle cx="223.8" cy="285.3" r="0.5" fill="#2e1010"/>
<circle cx="222.1" cy="289.0" r="0.5" fill="#2e1010"/>
<circle cx="230.4" cy="286.6" r="0.5" fill="#2e1010"/>
<circle cx="232.3" cy="286.9" r="0.5" fill="#2e1010"/>
<circle cx="234.9" cy="289.9" r="0.5" fill="#2e1010"/>
<circle cx="233.0" cy="292.5" r="0.5" fill="#2e1010"/>
<circle cx="231.7" cy="293.8" r="0.5" fill="#2e1010"/>
<circle cx="240.8" cy="291.9" r="0.5" fill="#2e1010"/>
<circle cx="241.5" cy="295.1" r="0.5" fill="#2e1010"/>
<circle cx="230.4" cy="297.7" r="0.5" fill="#2e1010"/>
<circle cx="225.8" cy="299.4" r="0.5" fill="#2e1010"/>
<circle cx="237.5" cy="297.7" r="0.5" fill="#2e1010"/>
<circle cx="186.3" cy="332.3" r="0.5" fill="#2e1010"/>
<circle cx="194.1" cy="330.3" r="0.5" fill="#2e1010"/>
<circle cx="197.7" cy="336.6" r="0.5" fill="#2e1010"/>
<circle cx="199.4" cy="321.8" r="0.5" fill="#2e1010"/>
<circle cx="205.5" cy="319.8" r="0.5" fill="#2e1010"/>
<circle cx="207.7" cy="312.0" r="0.5" fill="#2e1010"/>
<circle cx="208.5" cy="306.1" r="0.5" fill="#2e1010"/>
<circle cx="214.3" cy="308.1" r="0.5" fill="#2e1010"/>
<circle cx="219.2" cy="304.8" r="0.5" fill="#2e1010"/>
<circle cx="217.3" cy="312.0" r="0.5" fill="#2e1010"/>
<circle cx="212.7" cy="316.6" r="0.5" fill="#2e1010"/>
<circle cx="223.8" cy="311.3" r="0.5" fill="#2e1010"/>
<circle cx="225.8" cy="300.2" r="0.5" fill="#2e1010"/>
<circle cx="227.1" cy="304.2" r="0.5" fill="#2e1010"/>
<circle cx="229.0" cy="306.1" r="0.5" fill="#2e1010"/>
<circle cx="232.3" cy="297.6" r="0.5" fill="#2e1010"/>
<circle cx="234.9" cy="308.1" r="0.5" fill="#2e1010"/>
<circle cx="237.5" cy="302.8" r="0.5" fill="#2e1010"/>
<circle cx="281.0" cy="261.8" r="0.5" fill="#2e1010"/>
<circle cx="298.2" cy="281.1" r="0.5" fill="#2e1010"/>
<circle cx="277.9" cy="283.0" r="0.5" fill="#2e1010"/>
<circle cx="282.1" cy="295.3" r="0.5" fill="#2e1010"/>
<circle cx="277.4" cy="296.7" r="0.5" fill="#2e1010"/>
<circle cx="265.2" cy="299.5" r="0.5" fill="#2e1010"/>
<circle cx="273.9" cy="303.0" r="0.5" fill="#2e1010"/>
<circle cx="278.6" cy="304.2" r="0.5" fill="#2e1010"/>
<circle cx="281.0" cy="303.7" r="0.5" fill="#2e1010"/>
<circle cx="266.8" cy="305.4" r="0.5" fill="#2e1010"/>
<circle cx="272.7" cy="307.0" r="0.5" fill="#2e1010"/>
<circle cx="255.7" cy="306.1" r="0.5" fill="#2e1010"/>
<circle cx="256.7" cy="310.1" r="0.5" fill="#2e1010"/>
<circle cx="265.2" cy="308.5" r="0.5" fill="#2e1010"/>
<circle cx="275.1" cy="313.2" r="0.5" fill="#2e1010"/>
<circle cx="283.3" cy="315.5" r="0.5" fill="#2e1010"/>
<circle cx="278.6" cy="320.2" r="0.5" fill="#2e1010"/>
<circle cx="265.6" cy="321.9" r="0.5" fill="#2e1010"/>
<circle cx="258.6" cy="320.2" r="0.5" fill="#2e1010"/>
<circle cx="272.7" cy="325.4" r="0.5" fill="#2e1010"/>
<circle cx="269.9" cy="327.8" r="0.5" fill="#2e1010"/>
<circle cx="291.1" cy="329.7" r="0.5" fill="#2e1010"/>
<circle cx="303.4" cy="328.3" r="0.5" fill="#2e1010"/>
<circle cx="282.1" cy="334.9" r="0.5" fill="#2e1010"/>
<circle cx="255.0" cy="326.6" r="0.5" fill="#2e1010"/>
<circle cx="257.4" cy="327.8" r="0.5" fill="#2e1010"/>
<circle cx="259.8" cy="327.8" r="0.5" fill="#2e1010"/>
<circle cx="262.1" cy="330.2" r="0.5" fill="#2e1010"/>
<circle cx="263.3" cy="333.7" r="0.5" fill="#2e1010"/>
<circle cx="257.4" cy="332.5" r="0.5" fill="#2e1010"/>
<circle cx="290.6" cy="329.0" r="0.5" fill="#2e1010"/>
<circle cx="303.8" cy="328.6" r="0.5" fill="#2e1010"/>
<circle cx="281.5" cy="335.1" r="0.5" fill="#2e1010"/>
<circle cx="202.4" cy="328.6" r="0.5" fill="#2e1010"/>
<circle cx="206.6" cy="329.8" r="0.5" fill="#2e1010"/>
<circle cx="207.2" cy="333.6" r="0.5" fill="#2e1010"/>
<circle cx="210.8" cy="333.9" r="0.5" fill="#2e1010"/>
<circle cx="214.4" cy="334.5" r="0.5" fill="#2e1010"/>
<circle cx="218.5" cy="333.3" r="0.5" fill="#2e1010"/>
<circle cx="220.3" cy="331.6" r="0.5" fill="#2e1010"/>
<circle cx="223.3" cy="332.8" r="0.5" fill="#2e1010"/>
<circle cx="222.7" cy="336.9" r="0.5" fill="#2e1010"/>
<circle cx="209.0" cy="338.4" r="0.5" fill="#2e1010"/>
<circle cx="198.9" cy="335.5" r="0.5" fill="#2e1010"/>
<circle cx="272.5" cy="346.2" r="0.5" fill="#12123e"/>
<circle cx="282.6" cy="344.2" r="0.5" fill="#12123e"/>
<circle cx="282.6" cy="346.2" r="0.5" fill="#12123e"/>
<circle cx="290.6" cy="345.2" r="0.5" fill="#12123e"/>
<circle cx="290.6" cy="349.2" r="0.5" fill="#12123e"/>
<circle cx="267.4" cy="355.3" r="0.5" fill="#12123e"/>
<circle cx="266.4" cy="356.3" r="0.5" fill="#12123e"/>
<circle cx="275.5" cy="347.2" r="0.5" fill="#12123e"/>
<circle cx="217.7" cy="346.2" r="0.5" fill="#12123e"/>
<circle cx="222.4" cy="342.3" r="0.5" fill="#12123e"/>
<circle cx="229.5" cy="341.5" r="0.5" fill="#12123e"/>
<circle cx="237.2" cy="334.3" r="0.5" fill="#2e1010"/>
<circle cx="230.9" cy="315.2" r="0.5" fill="#2e1010"/>
<circle cx="241.4" cy="332.7" r="0.5" fill="#2e1010"/>
<circle cx="233.4" cy="306.5" r="0.5" fill="#2e1010"/>
<circle cx="218.7" cy="321.3" r="0.5" fill="#2e1010"/>
<circle cx="220.9" cy="338.0" r="0.5" fill="#2e1010"/>
<circle cx="209.9" cy="317.6" r="0.5" fill="#2e1010"/>
<circle cx="223.9" cy="307.3" r="0.5" fill="#2e1010"/>
<circle cx="198.4" cy="332.1" r="0.5" fill="#2e1010"/>
<circle cx="239.5" cy="296.1" r="0.5" fill="#2e1010"/>
<circle cx="236.6" cy="302.9" r="0.5" fill="#2e1010"/>
<circle cx="218.5" cy="337.6" r="0.5" fill="#2e1010"/>
<circle cx="211.2" cy="321.6" r="0.5" fill="#2e1010"/>
<circle cx="231.1" cy="298.7" r="0.5" fill="#2e1010"/>
<circle cx="242.5" cy="334.6" r="0.5" fill="#2e1010"/>
<circle cx="246.9" cy="335.5" r="0.5" fill="#2e1010"/>
<circle cx="232.4" cy="323.6" r="0.5" fill="#2e1010"/>
<circle cx="228.8" cy="328.1" r="0.5" fill="#2e1010"/>
<circle cx="196.8" cy="333.6" r="0.5" fill="#2e1010"/>
<circle cx="225.5" cy="303.4" r="0.5" fill="#2e1010"/>
<circle cx="222.7" cy="308.0" r="0.5" fill="#2e1010"/>
<circle cx="242.4" cy="297.8" r="0.5" fill="#2e1010"/>
<circle cx="240.0" cy="309.3" r="0.5" fill="#2e1010"/>
<circle cx="239.1" cy="317.8" r="0.5" fill="#2e1010"/>
<circle cx="227.1" cy="335.5" r="0.5" fill="#2e1010"/>
<circle cx="223.4" cy="305.5" r="0.5" fill="#2e1010"/>
<circle cx="242.5" cy="300.3" r="0.5" fill="#2e1010"/>
<circle cx="223.9" cy="325.4" r="0.5" fill="#2e1010"/>
<circle cx="225.3" cy="323.7" r="0.5" fill="#2e1010"/>
<circle cx="232.2" cy="296.3" r="0.5" fill="#2e1010"/>
<circle cx="200.8" cy="337.7" r="0.5" fill="#2e1010"/>
<circle cx="246.0" cy="311.1" r="0.5" fill="#2e1010"/>
<circle cx="230.2" cy="321.7" r="0.5" fill="#2e1010"/>
<circle cx="239.6" cy="319.2" r="0.5" fill="#2e1010"/>
<circle cx="233.8" cy="332.5" r="0.5" fill="#2e1010"/>
<circle cx="235.5" cy="319.0" r="0.5" fill="#2e1010"/>
<circle cx="209.3" cy="333.8" r="0.5" fill="#2e1010"/>
<circle cx="246.1" cy="327.9" r="0.5" fill="#2e1010"/>
<circle cx="233.7" cy="328.0" r="0.5" fill="#2e1010"/>
<circle cx="206.2" cy="329.5" r="0.5" fill="#2e1010"/>
<circle cx="242.4" cy="336.9" r="0.5" fill="#2e1010"/>
<circle cx="228.8" cy="308.1" r="0.5" fill="#2e1010"/>
<circle cx="237.6" cy="312.9" r="0.5" fill="#2e1010"/>
<circle cx="244.0" cy="301.6" r="0.5" fill="#2e1010"/>
<circle cx="247.9" cy="325.5" r="0.5" fill="#2e1010"/>
<circle cx="236.5" cy="298.2" r="0.5" fill="#2e1010"/>
<circle cx="233.5" cy="302.5" r="0.5" fill="#2e1010"/>
<circle cx="217.3" cy="326.8" r="0.5" fill="#2e1010"/>
<circle cx="222.9" cy="302.9" r="0.5" fill="#2e1010"/>
<circle cx="242.0" cy="336.9" r="0.5" fill="#2e1010"/>
<circle cx="232.3" cy="308.3" r="0.5" fill="#2e1010"/>
<circle cx="216.1" cy="305.0" r="0.5" fill="#2e1010"/>
<circle cx="218.2" cy="331.3" r="0.5" fill="#2e1010"/>
<circle cx="213.3" cy="325.0" r="0.5" fill="#2e1010"/>
<circle cx="219.2" cy="336.9" r="0.5" fill="#2e1010"/>
<circle cx="244.5" cy="301.6" r="0.5" fill="#2e1010"/>
<circle cx="231.9" cy="309.7" r="0.5" fill="#2e1010"/>
<circle cx="247.6" cy="331.5" r="0.5" fill="#2e1010"/>
<circle cx="239.0" cy="320.4" r="0.5" fill="#2e1010"/>
<circle cx="210.8" cy="337.7" r="0.5" fill="#2e1010"/>
<circle cx="240.8" cy="304.9" r="0.5" fill="#2e1010"/>
<circle cx="236.3" cy="302.6" r="0.5" fill="#2e1010"/>
<circle cx="233.4" cy="324.7" r="0.5" fill="#2e1010"/>
<circle cx="227.7" cy="304.3" r="0.5" fill="#2e1010"/>
<circle cx="221.2" cy="320.0" r="0.5" fill="#2e1010"/>
<circle cx="209.9" cy="308.6" r="0.5" fill="#2e1010"/>
<circle cx="245.2" cy="312.8" r="0.5" fill="#2e1010"/>
<circle cx="232.6" cy="337.7" r="0.5" fill="#2e1010"/>
<circle cx="242.6" cy="314.8" r="0.5" fill="#2e1010"/>
<circle cx="221.1" cy="317.7" r="0.5" fill="#2e1010"/>
<circle cx="246.9" cy="325.6" r="0.5" fill="#2e1010"/>
<circle cx="222.5" cy="301.3" r="0.5" fill="#2e1010"/>
<circle cx="201.7" cy="336.3" r="0.5" fill="#2e1010"/>
<circle cx="225.1" cy="337.7" r="0.5" fill="#2e1010"/>
<circle cx="244.5" cy="335.0" r="0.5" fill="#2e1010"/>
<circle cx="215.7" cy="314.3" r="0.5" fill="#2e1010"/>
<circle cx="223.6" cy="319.8" r="0.5" fill="#2e1010"/>
<circle cx="217.6" cy="321.8" r="0.5" fill="#2e1010"/>
<circle cx="210.2" cy="334.3" r="0.5" fill="#2e1010"/>
<circle cx="238.2" cy="326.7" r="0.5" fill="#2e1010"/>
<circle cx="206.9" cy="319.3" r="0.5" fill="#2e1010"/>
<circle cx="243.0" cy="311.5" r="0.5" fill="#2e1010"/>
<circle cx="240.7" cy="308.3" r="0.5" fill="#2e1010"/>
<circle cx="226.0" cy="337.9" r="0.5" fill="#2e1010"/>
<circle cx="240.3" cy="337.0" r="0.5" fill="#2e1010"/>
<circle cx="238.1" cy="334.0" r="0.5" fill="#2e1010"/>
<circle cx="237.6" cy="331.4" r="0.5" fill="#2e1010"/>
<circle cx="200.2" cy="329.2" r="0.5" fill="#2e1010"/>
<circle cx="220.8" cy="326.3" r="0.5" fill="#2e1010"/>
<circle cx="228.2" cy="301.5" r="0.5" fill="#2e1010"/>
<circle cx="232.5" cy="321.4" r="0.5" fill="#2e1010"/>
<circle cx="222.2" cy="298.9" r="0.5" fill="#2e1010"/>
<circle cx="231.7" cy="316.9" r="0.5" fill="#2e1010"/>
<circle cx="245.3" cy="310.3" r="0.5" fill="#2e1010"/>
<circle cx="237.7" cy="329.4" r="0.5" fill="#2e1010"/>
<circle cx="233.1" cy="320.4" r="0.5" fill="#2e1010"/>
<circle cx="242.4" cy="337.0" r="0.5" fill="#2e1010"/>
<circle cx="231.1" cy="297.3" r="0.5" fill="#2e1010"/>
<circle cx="248.5" cy="329.1" r="0.5" fill="#2e1010"/>
<circle cx="200.0" cy="335.9" r="0.5" fill="#2e1010"/>
<circle cx="242.4" cy="336.8" r="0.5" fill="#2e1010"/>
<circle cx="231.0" cy="309.0" r="0.5" fill="#2e1010"/>
<circle cx="206.1" cy="315.9" r="0.5" fill="#2e1010"/>
<circle cx="229.7" cy="314.8" r="0.5" fill="#2e1010"/>
<circle cx="226.2" cy="320.7" r="0.5" fill="#2e1010"/>
<circle cx="216.4" cy="325.7" r="0.5" fill="#2e1010"/>
<circle cx="224.5" cy="337.3" r="0.5" fill="#2e1010"/>
<circle cx="237.8" cy="331.6" r="0.5" fill="#2e1010"/>
<circle cx="239.1" cy="306.0" r="0.5" fill="#2e1010"/>
<circle cx="217.9" cy="323.5" r="0.5" fill="#2e1010"/>
<circle cx="229.2" cy="326.4" r="0.5" fill="#2e1010"/>
<circle cx="245.8" cy="315.4" r="0.5" fill="#2e1010"/>
<circle cx="227.1" cy="336.5" r="0.5" fill="#2e1010"/>
<circle cx="238.6" cy="321.9" r="0.5" fill="#2e1010"/>
<circle cx="240.4" cy="302.1" r="0.5" fill="#2e1010"/>
<circle cx="240.0" cy="315.6" r="0.5" fill="#2e1010"/>
<circle cx="242.8" cy="313.6" r="0.5" fill="#2e1010"/>
<circle cx="237.8" cy="312.1" r="0.5" fill="#2e1010"/>
<circle cx="246.1" cy="331.7" r="0.5" fill="#2e1010"/>
<circle cx="234.5" cy="326.4" r="0.5" fill="#2e1010"/>
<circle cx="244.6" cy="305.6" r="0.5" fill="#2e1010"/>
<circle cx="217.9" cy="296.6" r="0.5" fill="#2e1010"/>
<circle cx="220.0" cy="329.3" r="0.5" fill="#2e1010"/>
<circle cx="211.1" cy="326.2" r="0.5" fill="#2e1010"/>
<circle cx="209.9" cy="319.1" r="0.5" fill="#2e1010"/>
<circle cx="241.3" cy="286.3" r="0.5" fill="#2e1010"/>
<circle cx="240.3" cy="337.9" r="0.5" fill="#2e1010"/>
<circle cx="240.8" cy="319.5" r="0.5" fill="#2e1010"/>
<circle cx="241.2" cy="303.3" r="0.5" fill="#2e1010"/>
<circle cx="241.4" cy="335.9" r="0.5" fill="#2e1010"/>
<circle cx="239.8" cy="301.9" r="0.5" fill="#2e1010"/>
<circle cx="237.5" cy="321.3" r="0.5" fill="#2e1010"/>
<circle cx="238.3" cy="334.0" r="0.5" fill="#2e1010"/>
<circle cx="240.4" cy="331.7" r="0.5" fill="#2e1010"/>
<circle cx="240.0" cy="316.2" r="0.5" fill="#2e1010"/>
<circle cx="240.1" cy="330.0" r="0.5" fill="#2e1010"/>
<circle cx="241.5" cy="315.9" r="0.5" fill="#2e1010"/>
<circle cx="243.1" cy="335.9" r="0.5" fill="#2e1010"/>
<circle cx="239.5" cy="315.0" r="0.5" fill="#2e1010"/>
<circle cx="239.8" cy="298.7" r="0.5" fill="#2e1010"/>
<circle cx="238.4" cy="335.7" r="0.5" fill="#2e1010"/>
<circle cx="239.4" cy="335.6" r="0.5" fill="#2e1010"/>
<circle cx="243.1" cy="319.5" r="0.5" fill="#2e1010"/>
<circle cx="242.4" cy="320.4" r="0.5" fill="#2e1010"/>
<circle cx="242.8" cy="294.8" r="0.5" fill="#2e1010"/>
<circle cx="242.4" cy="286.7" r="0.5" fill="#2e1010"/>
<circle cx="241.1" cy="334.0" r="0.5" fill="#2e1010"/>
<circle cx="238.6" cy="306.7" r="0.5" fill="#2e1010"/>
<circle cx="240.4" cy="320.0" r="0.5" fill="#2e1010"/>
<circle cx="241.7" cy="304.8" r="0.5" fill="#2e1010"/>
<circle cx="239.8" cy="315.9" r="0.5" fill="#2e1010"/>
<circle cx="239.9" cy="313.8" r="0.5" fill="#2e1010"/>
<circle cx="242.6" cy="308.0" r="0.5" fill="#2e1010"/>
<circle cx="239.6" cy="289.7" r="0.5" fill="#2e1010"/>
<circle cx="238.8" cy="337.8" r="0.5" fill="#2e1010"/>
<circle cx="266.8" cy="337.0" r="0.5" fill="#2e1010"/>
<circle cx="266.3" cy="319.7" r="0.5" fill="#2e1010"/>
<circle cx="261.5" cy="326.5" r="0.5" fill="#2e1010"/>
<circle cx="260.5" cy="320.6" r="0.5" fill="#2e1010"/>
<circle cx="255.1" cy="326.9" r="0.5" fill="#2e1010"/>
<circle cx="255.5" cy="327.1" r="0.5" fill="#2e1010"/>
<circle cx="252.4" cy="319.7" r="0.5" fill="#2e1010"/>
<circle cx="263.4" cy="326.4" r="0.5" fill="#2e1010"/>
<circle cx="260.2" cy="332.7" r="0.5" fill="#2e1010"/>
<circle cx="257.7" cy="319.2" r="0.5" fill="#2e1010"/>
<circle cx="264.5" cy="329.8" r="0.5" fill="#2e1010"/>
<circle cx="262.5" cy="330.4" r="0.5" fill="#2e1010"/>
<circle cx="267.5" cy="325.3" r="0.5" fill="#2e1010"/>
<circle cx="264.2" cy="325.4" r="0.5" fill="#2e1010"/>
<circle cx="261.2" cy="331.2" r="0.5" fill="#2e1010"/>
<circle cx="257.0" cy="319.7" r="0.5" fill="#2e1010"/>
<circle cx="259.6" cy="332.4" r="0.5" fill="#2e1010"/>
<circle cx="261.4" cy="326.9" r="0.5" fill="#2e1010"/>
<circle cx="262.3" cy="321.6" r="0.5" fill="#2e1010"/>
<circle cx="254.9" cy="324.5" r="0.5" fill="#2e1010"/>
<circle cx="265.1" cy="321.9" r="0.5" fill="#2e1010"/>
<circle cx="253.8" cy="320.0" r="0.5" fill="#2e1010"/>
<circle cx="254.7" cy="356.2" r="0.5" fill="#12123e"/>
<circle cx="265.3" cy="343.8" r="0.5" fill="#12123e"/>
<circle cx="256.3" cy="344.1" r="0.5" fill="#12123e"/>
<circle cx="259.6" cy="341.7" r="0.5" fill="#12123e"/>
<circle cx="257.6" cy="343.1" r="0.5" fill="#12123e"/>
<circle cx="253.8" cy="356.5" r="0.5" fill="#12123e"/>
<circle cx="258.4" cy="349.9" r="0.5" fill="#12123e"/>
<circle cx="250.3" cy="362.7" r="0.5" fill="#12123e"/>
<circle cx="259.0" cy="351.6" r="0.5" fill="#12123e"/>
<circle cx="250.6" cy="356.9" r="0.5" fill="#12123e"/>
<circle cx="262.2" cy="346.7" r="0.5" fill="#12123e"/>
<circle cx="259.8" cy="341.5" r="0.5" fill="#12123e"/>
<circle cx="248.9" cy="359.3" r="0.5" fill="#12123e"/>
<circle cx="247.1" cy="347.2" r="0.5" fill="#12123e"/>
<circle cx="249.2" cy="352.2" r="0.5" fill="#12123e"/>
<circle cx="253.0" cy="360.5" r="0.5" fill="#12123e"/>
<circle cx="260.7" cy="346.9" r="0.5" fill="#12123e"/>
<circle cx="239.3" cy="341.1" r="0.5" fill="#12123e"/>
<circle cx="254.8" cy="355.1" r="0.5" fill="#12123e"/>
<circle cx="254.5" cy="358.8" r="0.5" fill="#12123e"/>
<circle cx="249.7" cy="359.7" r="0.5" fill="#12123e"/>
<circle cx="255.2" cy="357.0" r="0.5" fill="#12123e"/>
<circle cx="251.6" cy="341.7" r="0.5" fill="#12123e"/>
<circle cx="241.7" cy="343.1" r="0.5" fill="#12123e"/>
<circle cx="254.5" cy="350.8" r="0.5" fill="#12123e"/>
<circle cx="250.2" cy="362.4" r="0.5" fill="#12123e"/>
<circle cx="259.9" cy="351.4" r="0.5" fill="#12123e"/>
<circle cx="251.4" cy="357.5" r="0.5" fill="#12123e"/>
<circle cx="255.0" cy="345.2" r="0.5" fill="#12123e"/>
<circle cx="255.2" cy="345.6" r="0.5" fill="#12123e"/>
<circle cx="249.9" cy="354.7" r="0.5" fill="#12123e"/>
<circle cx="250.4" cy="358.2" r="0.5" fill="#12123e"/>
<circle cx="257.5" cy="350.5" r="0.5" fill="#12123e"/>
<circle cx="243.7" cy="345.4" r="0.5" fill="#12123e"/>
<circle cx="250.4" cy="353.0" r="0.5" fill="#12123e"/>
<circle cx="249.7" cy="360.0" r="0.5" fill="#12123e"/>
<circle cx="242.1" cy="348.2" r="0.5" fill="#12123e"/>
<circle cx="247.9" cy="350.1" r="0.5" fill="#12123e"/>
<circle cx="256.4" cy="350.0" r="0.5" fill="#12123e"/>
<circle cx="267.5" cy="340.4" r="0.5" fill="#12123e"/>
<circle cx="254.4" cy="356.2" r="0.5" fill="#12123e"/>
<circle cx="252.6" cy="352.2" r="0.5" fill="#12123e"/>
<circle cx="249.4" cy="349.1" r="0.5" fill="#12123e"/>
<circle cx="246.5" cy="344.7" r="0.5" fill="#12123e"/>
<circle cx="247.7" cy="346.4" r="0.5" fill="#12123e"/>
<circle cx="252.2" cy="360.8" r="0.5" fill="#12123e"/>
<circle cx="245.1" cy="354.6" r="0.5" fill="#12123e"/>
<circle cx="252.7" cy="345.7" r="0.5" fill="#12123e"/>
<circle cx="250.3" cy="355.8" r="0.5" fill="#12123e"/>
<circle cx="256.5" cy="354.4" r="0.5" fill="#12123e"/>
<circle cx="248.7" cy="345.8" r="0.5" fill="#12123e"/>
<circle cx="249.5" cy="357.4" r="0.5" fill="#12123e"/>
<circle cx="250.1" cy="356.5" r="0.5" fill="#12123e"/>
<circle cx="250.7" cy="340.0" r="0.5" fill="#12123e"/>
<circle cx="260.7" cy="341.1" r="0.5" fill="#12123e"/>
<circle cx="251.2" cy="359.4" r="0.5" fill="#12123e"/>
<circle cx="249.7" cy="360.6" r="0.5" fill="#12123e"/>
<circle cx="245.3" cy="350.0" r="0.5" fill="#12123e"/>
<circle cx="262.1" cy="340.6" r="0.5" fill="#12123e"/>
<circle cx="265.5" cy="340.7" r="0.5" fill="#12123e"/>
<circle cx="254.4" cy="352.6" r="0.5" fill="#12123e"/>
<circle cx="264.7" cy="340.7" r="0.5" fill="#12123e"/>
<circle cx="248.0" cy="358.2" r="0.5" fill="#12123e"/>
<circle cx="241.9" cy="343.8" r="0.5" fill="#12123e"/>
<circle cx="244.2" cy="351.3" r="0.5" fill="#12123e"/>
<circle cx="251.1" cy="358.3" r="0.5" fill="#12123e"/>
<circle cx="248.6" cy="356.0" r="0.5" fill="#12123e"/>
<circle cx="250.7" cy="354.9" r="0.5" fill="#12123e"/>
<circle cx="250.1" cy="354.7" r="0.5" fill="#12123e"/>
<circle cx="251.4" cy="362.8" r="0.5" fill="#12123e"/>
<circle cx="250.0" cy="359.1" r="0.5" fill="#12123e"/>
<circle cx="242.3" cy="344.0" r="0.5" fill="#12123e"/>
<circle cx="265.3" cy="342.6" r="0.5" fill="#12123e"/>
<circle cx="260.6" cy="346.1" r="0.5" fill="#12123e"/>
<circle cx="254.8" cy="345.0" r="0.5" fill="#12123e"/>
<circle cx="246.8" cy="345.4" r="0.5" fill="#12123e"/>
<circle cx="252.2" cy="357.1" r="0.5" fill="#12123e"/>
<circle cx="250.2" cy="361.7" r="0.5" fill="#12123e"/>
<circle cx="240.9" cy="345.9" r="0.5" fill="#12123e"/>
<circle cx="264.4" cy="344.5" r="0.5" fill="#12123e"/>
<circle cx="251.0" cy="352.7" r="0.5" fill="#12123e"/>
<circle cx="257.3" cy="347.5" r="0.5" fill="#12123e"/>
<circle cx="247.4" cy="355.7" r="0.5" fill="#12123e"/>
<circle cx="241.5" cy="340.6" r="0.5" fill="#12123e"/>
<circle cx="252.7" cy="358.7" r="0.5" fill="#12123e"/>
<circle cx="244.8" cy="344.8" r="0.5" fill="#12123e"/>
<circle cx="255.8" cy="346.7" r="0.5" fill="#12123e"/>
<circle cx="248.7" cy="357.1" r="0.5" fill="#12123e"/>
<circle cx="245.6" cy="347.2" r="0.5" fill="#12123e"/>
<circle cx="251.1" cy="361.7" r="0.5" fill="#12123e"/>
<circle cx="250.2" cy="361.6" r="0.5" fill="#12123e"/>
<circle cx="252.2" cy="354.4" r="0.5" fill="#12123e"/>
<circle cx="250.5" cy="361.4" r="0.5" fill="#12123e"/>
<circle cx="259.9" cy="344.9" r="0.5" fill="#12123e"/>
<circle cx="251.0" cy="361.9" r="0.5" fill="#12123e"/>
<circle cx="242.2" cy="347.3" r="0.5" fill="#12123e"/>
<circle cx="259.5" cy="349.9" r="0.5" fill="#12123e"/>
<circle cx="250.4" cy="347.9" r="0.5" fill="#12123e"/>
<circle cx="247.4" cy="352.8" r="0.5" fill="#12123e"/>
<circle cx="252.4" cy="342.0" r="0.5" fill="#12123e"/>
<circle cx="251.8" cy="362.2" r="0.5" fill="#12123e"/>
<circle cx="258.3" cy="346.6" r="0.5" fill="#12123e"/>
<circle cx="251.6" cy="359.1" r="0.5" fill="#12123e"/>
<circle cx="244.9" cy="347.9" r="0.5" fill="#12123e"/>
<circle cx="253.2" cy="356.0" r="0.5" fill="#12123e"/>
<circle cx="242.2" cy="344.5" r="0.5" fill="#12123e"/>
<circle cx="261.5" cy="342.2" r="0.5" fill="#12123e"/>
<circle cx="251.1" cy="360.3" r="0.5" fill="#12123e"/>
<circle cx="254.1" cy="353.9" r="0.5" fill="#12123e"/>
<circle cx="252.3" cy="343.2" r="0.5" fill="#12123e"/>
<circle cx="258.4" cy="350.0" r="0.5" fill="#12123e"/>
<circle cx="261.4" cy="343.4" r="0.5" fill="#12123e"/>
<circle cx="254.9" cy="342.8" r="0.5" fill="#12123e"/>
<circle cx="249.0" cy="360.5" r="0.5" fill="#12123e"/>
<circle cx="242.6" cy="350.9" r="0.5" fill="#12123e"/>
<circle cx="251.1" cy="351.5" r="0.5" fill="#12123e"/>
<circle cx="250.9" cy="362.1" r="0.5" fill="#12123e"/>
<circle cx="251.9" cy="360.9" r="0.5" fill="#12123e"/>
<circle cx="250.1" cy="359.3" r="0.5" fill="#12123e"/>
<circle cx="255.9" cy="341.7" r="0.5" fill="#12123e"/>
<circle cx="255.5" cy="342.1" r="0.5" fill="#12123e"/>
<circle cx="254.6" cy="343.7" r="0.5" fill="#12123e"/>
<circle cx="255.1" cy="357.5" r="0.5" fill="#12123e"/>
<circle cx="243.0" cy="344.2" r="0.5" fill="#12123e"/>
<circle cx="260.8" cy="349.4" r="0.5" fill="#12123e"/>
<circle cx="251.0" cy="345.5" r="0.5" fill="#12123e"/>
<circle cx="242.3" cy="348.5" r="0.5" fill="#12123e"/>
<circle cx="248.3" cy="352.2" r="0.5" fill="#12123e"/>
<circle cx="255.8" cy="350.5" r="0.5" fill="#12123e"/>
<circle cx="248.2" cy="355.2" r="0.5" fill="#12123e"/>
<circle cx="251.7" cy="354.7" r="0.5" fill="#12123e"/>
<circle cx="246.8" cy="357.5" r="0.5" fill="#12123e"/>
<circle cx="255.8" cy="346.1" r="0.5" fill="#12123e"/>
<circle cx="251.4" cy="352.6" r="0.5" fill="#12123e"/>
<circle cx="253.3" cy="351.9" r="0.5" fill="#12123e"/>
<circle cx="254.4" cy="356.8" r="0.5" fill="#12123e"/>
<circle cx="254.5" cy="357.8" r="0.5" fill="#12123e"/>
<circle cx="246.5" cy="353.0" r="0.5" fill="#12123e"/>
<circle cx="259.3" cy="348.2" r="0.5" fill="#12123e"/>
<circle cx="252.1" cy="357.6" r="0.5" fill="#12123e"/>
<circle cx="241.9" cy="342.5" r="0.5" fill="#12123e"/>
<circle cx="250.3" cy="354.9" r="0.5" fill="#12123e"/>
<circle cx="264.5" cy="343.9" r="0.5" fill="#12123e"/>
<circle cx="262.7" cy="344.9" r="0.5" fill="#12123e"/>
<circle cx="257.3" cy="354.1" r="0.5" fill="#12123e"/>
<circle cx="248.6" cy="357.7" r="0.5" fill="#12123e"/>
<circle cx="261.1" cy="344.9" r="0.5" fill="#12123e"/>
<circle cx="251.5" cy="349.7" r="0.5" fill="#12123e"/>
<circle cx="252.1" cy="357.1" r="0.5" fill="#12123e"/>
<circle cx="251.4" cy="356.4" r="0.5" fill="#12123e"/>
<circle cx="257.0" cy="346.0" r="0.5" fill="#12123e"/>
<circle cx="258.3" cy="342.5" r="0.5" fill="#12123e"/>
<circle cx="248.3" cy="358.2" r="0.5" fill="#12123e"/>
<circle cx="265.6" cy="339.6" r="0.5" fill="#12123e"/>
<circle cx="252.6" cy="343.9" r="0.5" fill="#12123e"/>
<circle cx="242.9" cy="346.3" r="0.5" fill="#12123e"/>
<circle cx="241.0" cy="345.6" r="0.5" fill="#12123e"/>
<circle cx="252.7" cy="359.4" r="0.5" fill="#12123e"/>
<circle cx="248.2" cy="357.9" r="0.5" fill="#12123e"/>
<circle cx="242.4" cy="347.1" r="0.5" fill="#12123e"/>
<circle cx="253.9" cy="359.5" r="0.5" fill="#12123e"/>
<circle cx="251.9" cy="361.8" r="0.5" fill="#12123e"/>
<circle cx="251.3" cy="353.9" r="0.5" fill="#12123e"/>
<circle cx="238.0" cy="342.2" r="0.5" fill="#12123e"/>
<circle cx="257.5" cy="354.0" r="0.5" fill="#12123e"/>
<circle cx="250.8" cy="362.6" r="0.5" fill="#12123e"/>
<circle cx="257.7" cy="351.8" r="0.5" fill="#12123e"/>
<circle cx="257.3" cy="346.1" r="0.5" fill="#12123e"/>
<circle cx="250.4" cy="353.6" r="0.5" fill="#12123e"/>
<circle cx="244.4" cy="348.7" r="0.5" fill="#12123e"/>
<circle cx="246.0" cy="342.9" r="0.5" fill="#12123e"/>
<circle cx="251.4" cy="362.7" r="0.5" fill="#12123e"/>
<circle cx="260.3" cy="339.7" r="0.5" fill="#12123e"/>
<circle cx="253.9" cy="342.8" r="0.5" fill="#12123e"/>
<circle cx="252.5" cy="361.1" r="0.5" fill="#12123e"/>
<circle cx="253.4" cy="360.3" r="0.5" fill="#12123e"/>
<circle cx="245.2" cy="354.3" r="0.5" fill="#12123e"/>
<circle cx="255.9" cy="345.5" r="0.5" fill="#12123e"/>
<circle cx="257.1" cy="353.5" r="0.5" fill="#12123e"/>
<circle cx="262.5" cy="343.5" r="0.5" fill="#12123e"/>
<circle cx="252.7" cy="353.1" r="0.5" fill="#12123e"/>
<circle cx="247.5" cy="342.3" r="0.5" fill="#12123e"/>
<circle cx="255.7" cy="351.6" r="0.5" fill="#12123e"/>
<circle cx="252.8" cy="355.5" r="0.5" fill="#12123e"/>
<circle cx="249.6" cy="356.2" r="0.5" fill="#12123e"/>
<circle cx="262.3" cy="347.4" r="0.5" fill="#12123e"/>
<circle cx="251.9" cy="355.3" r="0.5" fill="#12123e"/>
<circle cx="251.8" cy="362.2" r="0.5" fill="#12123e"/>
<circle cx="256.0" cy="356.4" r="0.5" fill="#12123e"/>
<circle cx="260.4" cy="348.5" r="0.5" fill="#12123e"/>
<circle cx="250.2" cy="353.1" r="0.5" fill="#12123e"/>
<circle cx="242.3" cy="348.9" r="0.5" fill="#12123e"/>
<circle cx="253.3" cy="360.3" r="0.5" fill="#12123e"/>
<circle cx="261.0" cy="348.4" r="0.5" fill="#12123e"/>
<circle cx="250.7" cy="342.6" r="0.5" fill="#12123e"/>
<circle cx="251.1" cy="362.8" r="0.5" fill="#12123e"/>
<circle cx="255.5" cy="343.2" r="0.5" fill="#12123e"/>
<circle cx="259.0" cy="340.1" r="0.5" fill="#12123e"/>
<circle cx="253.4" cy="353.3" r="0.5" fill="#12123e"/>
<circle cx="246.6" cy="355.4" r="0.5" fill="#12123e"/>
<circle cx="252.3" cy="360.2" r="0.5" fill="#12123e"/>
<circle cx="249.8" cy="360.5" r="0.5" fill="#12123e"/>
<circle cx="257.4" cy="344.9" r="0.5" fill="#12123e"/>
<circle cx="251.2" cy="361.2" r="0.5" fill="#12123e"/>
<circle cx="250.2" cy="345.2" r="0.5" fill="#12123e"/>
<circle cx="251.2" cy="345.2" r="0.5" fill="#12123e"/>
<circle cx="251.4" cy="362.0" r="0.5" fill="#12123e"/>
<circle cx="262.8" cy="344.3" r="0.5" fill="#12123e"/>
<circle cx="250.5" cy="360.1" r="0.5" fill="#12123e"/>
<circle cx="257.4" cy="339.5" r="0.5" fill="#12123e"/>
<circle cx="243.1" cy="347.1" r="0.5" fill="#12123e"/>
<circle cx="250.6" cy="360.9" r="0.5" fill="#12123e"/>
<circle cx="245.7" cy="343.4" r="0.5" fill="#12123e"/>
<circle cx="250.7" cy="362.9" r="0.5" fill="#12123e"/>
<circle cx="246.9" cy="350.6" r="0.5" fill="#12123e"/>
<circle cx="240.6" cy="341.4" r="0.5" fill="#12123e"/>
<circle cx="250.5" cy="340.9" r="0.5" fill="#12123e"/>
<circle cx="255.4" cy="349.6" r="0.5" fill="#12123e"/>
<circle cx="253.5" cy="359.1" r="0.5" fill="#12123e"/>
<circle cx="253.4" cy="342.8" r="0.5" fill="#12123e"/>
<circle cx="245.9" cy="342.9" r="0.5" fill="#12123e"/>
<circle cx="249.3" cy="348.6" r="0.5" fill="#12123e"/>
<circle cx="250.6" cy="359.3" r="0.5" fill="#12123e"/>
<circle cx="254.6" cy="343.3" r="0.5" fill="#12123e"/>
<circle cx="261.7" cy="345.6" r="0.5" fill="#12123e"/>
<circle cx="241.5" cy="342.0" r="0.5" fill="#12123e"/>
<circle cx="245.5" cy="341.0" r="0.5" fill="#12123e"/>
<circle cx="247.7" cy="357.9" r="0.5" fill="#12123e"/>
<circle cx="256.7" cy="353.8" r="0.5" fill="#12123e"/>
<circle cx="258.0" cy="344.9" r="0.5" fill="#12123e"/>
<circle cx="255.3" cy="354.9" r="0.5" fill="#12123e"/>
<circle cx="248.9" cy="352.8" r="0.5" fill="#12123e"/>
<circle cx="250.5" cy="361.3" r="0.5" fill="#12123e"/>
<circle cx="250.4" cy="362.4" r="0.5" fill="#12123e"/>
<circle cx="250.1" cy="353.3" r="0.5" fill="#12123e"/>
<circle cx="253.5" cy="357.7" r="0.5" fill="#12123e"/>
<circle cx="249.2" cy="351.6" r="0.5" fill="#12123e"/>
<circle cx="246.6" cy="356.7" r="0.5" fill="#12123e"/>
<circle cx="247.7" cy="360.3" r="0.5" fill="#12123e"/>
<circle cx="247.7" cy="352.4" r="0.5" fill="#12123e"/>
<circle cx="249.9" cy="354.7" r="0.5" fill="#12123e"/>
<circle cx="251.2" cy="362.7" r="0.5" fill="#12123e"/>
<circle cx="253.7" cy="358.3" r="0.5" fill="#12123e"/>
<circle cx="252.9" cy="355.4" r="0.5" fill="#12123e"/>
<circle cx="252.5" cy="352.5" r="0.5" fill="#12123e"/>
<circle cx="253.4" cy="350.9" r="0.5" fill="#12123e"/>
<circle cx="249.7" cy="357.3" r="0.5" fill="#12123e"/>
<circle cx="250.9" cy="361.4" r="0.5" fill="#12123e"/>
<circle cx="253.2" cy="350.5" r="0.5" fill="#12123e"/>
<circle cx="255.1" cy="352.9" r="0.5" fill="#12123e"/>
<circle cx="248.5" cy="355.5" r="0.5" fill="#12123e"/>
<circle cx="250.0" cy="356.4" r="0.5" fill="#12123e"/>
<circle cx="250.1" cy="356.6" r="0.5" fill="#12123e"/>
<circle cx="251.1" cy="360.6" r="0.5" fill="#12123e"/>
<circle cx="253.4" cy="353.7" r="0.5" fill="#12123e"/>
<circle cx="251.8" cy="360.6" r="0.5" fill="#12123e"/>
<circle cx="248.3" cy="358.2" r="0.5" fill="#12123e"/>
<circle cx="251.8" cy="352.9" r="0.5" fill="#12123e"/>
<circle cx="250.5" cy="358.0" r="0.5" fill="#12123e"/>
<circle cx="251.7" cy="351.7" r="0.5" fill="#12123e"/>
<circle cx="248.9" cy="351.2" r="0.5" fill="#12123e"/>
<circle cx="246.3" cy="359.8" r="0.5" fill="#12123e"/>
<circle cx="254.7" cy="352.9" r="0.5" fill="#12123e"/>
<circle cx="255.9" cy="354.9" r="0.5" fill="#12123e"/>
<circle cx="247.9" cy="352.2" r="0.5" fill="#12123e"/>
<circle cx="249.5" cy="357.0" r="0.5" fill="#12123e"/>
<circle cx="250.0" cy="355.9" r="0.5" fill="#12123e"/>
<circle cx="253.8" cy="355.9" r="0.5" fill="#12123e"/>
<circle cx="248.8" cy="358.9" r="0.5" fill="#12123e"/>
<circle cx="251.7" cy="362.8" r="0.5" fill="#12123e"/>
<circle cx="251.1" cy="351.4" r="0.5" fill="#12123e"/>
<circle cx="248.4" cy="360.5" r="0.5" fill="#12123e"/>
<circle cx="247.9" cy="359.2" r="0.5" fill="#12123e"/>
<circle cx="249.6" cy="353.0" r="0.5" fill="#12123e"/>
<circle cx="251.0" cy="350.2" r="0.5" fill="#12123e"/>
<circle cx="249.1" cy="351.4" r="0.5" fill="#12123e"/>
<circle cx="250.5" cy="360.5" r="0.5" fill="#12123e"/>
<circle cx="250.7" cy="356.8" r="0.5" fill="#12123e"/>
<circle cx="252.3" cy="352.1" r="0.5" fill="#12123e"/>
<circle cx="249.5" cy="362.2" r="0.5" fill="#12123e"/>
<circle cx="395.9" cy="263.5" r="0.5" fill="#2e1010"/>
<circle cx="395.4" cy="278.1" r="0.5" fill="#2e1010"/>
<circle cx="371.5" cy="285.2" r="0.5" fill="#2e1010"/>
<circle cx="404.1" cy="283.7" r="0.5" fill="#2e1010"/>
<circle cx="406.7" cy="284.6" r="0.5" fill="#2e1010"/>
<circle cx="408.9" cy="284.2" r="0.5" fill="#2e1010"/>
<circle cx="412.2" cy="278.7" r="0.5" fill="#2e1010"/>
<circle cx="410.6" cy="280.9" r="0.5" fill="#2e1010"/>
<circle cx="388.2" cy="290.0" r="0.5" fill="#2e1010"/>
<circle cx="408.5" cy="289.6" r="0.5" fill="#2e1010"/>
<circle cx="398.5" cy="294.0" r="0.5" fill="#2e1010"/>
<circle cx="411.1" cy="297.2" r="0.5" fill="#2e1010"/>
<circle cx="387.2" cy="299.8" r="0.5" fill="#2e1010"/>
<circle cx="404.1" cy="299.4" r="0.5" fill="#2e1010"/>
<circle cx="405.0" cy="302.0" r="0.5" fill="#2e1010"/>
<circle cx="395.9" cy="302.6" r="0.5" fill="#2e1010"/>
<circle cx="398.7" cy="303.7" r="0.5" fill="#2e1010"/>
<circle cx="412.2" cy="303.7" r="0.5" fill="#2e1010"/>
<circle cx="383.9" cy="305.9" r="0.5" fill="#2e1010"/>
<circle cx="381.7" cy="308.1" r="0.5" fill="#2e1010"/>
<circle cx="378.5" cy="309.8" r="0.5" fill="#2e1010"/>
<circle cx="389.3" cy="304.8" r="0.5" fill="#2e1010"/>
<circle cx="390.4" cy="308.1" r="0.5" fill="#2e1010"/>
<circle cx="366.5" cy="314.2" r="0.5" fill="#2e1010"/>
<circle cx="373.0" cy="314.2" r="0.5" fill="#2e1010"/>
<circle cx="376.3" cy="315.7" r="0.5" fill="#2e1010"/>
<circle cx="386.1" cy="314.6" r="0.5" fill="#2e1010"/>
<circle cx="392.6" cy="310.3" r="0.5" fill="#2e1010"/>
<circle cx="394.8" cy="309.2" r="0.5" fill="#2e1010"/>
<circle cx="396.9" cy="314.2" r="0.5" fill="#2e1010"/>
<circle cx="400.2" cy="310.3" r="0.5" fill="#2e1010"/>
<circle cx="404.1" cy="314.6" r="0.5" fill="#2e1010"/>
<circle cx="407.8" cy="312.4" r="0.5" fill="#2e1010"/>
<circle cx="413.3" cy="310.3" r="0.5" fill="#2e1010"/>
<circle cx="414.3" cy="314.6" r="0.5" fill="#2e1010"/>
<circle cx="390.4" cy="317.9" r="0.5" fill="#2e1010"/>
<circle cx="398.0" cy="318.5" r="0.5" fill="#2e1010"/>
<circle cx="402.4" cy="320.0" r="0.5" fill="#2e1010"/>
<circle cx="406.7" cy="319.0" r="0.5" fill="#2e1010"/>
<circle cx="411.1" cy="317.9" r="0.5" fill="#2e1010"/>
<circle cx="388.2" cy="321.6" r="0.5" fill="#2e1010"/>
<circle cx="400.2" cy="322.2" r="0.5" fill="#2e1010"/>
<circle cx="405.6" cy="321.6" r="0.5" fill="#2e1010"/>
<circle cx="413.3" cy="320.0" r="0.5" fill="#2e1010"/>
<circle cx="431.3" cy="272.8" r="0.5" fill="#2e1010"/>
<circle cx="469.6" cy="266.3" r="0.5" fill="#2e1010"/>
<circle cx="449.3" cy="272.8" r="0.5" fill="#2e1010"/>
<circle cx="453.7" cy="274.3" r="0.5" fill="#2e1010"/>
<circle cx="448.7" cy="287.4" r="0.5" fill="#2e1010"/>
<circle cx="440.7" cy="288.5" r="0.5" fill="#2e1010"/>
<circle cx="439.6" cy="291.7" r="0.5" fill="#2e1010"/>
<circle cx="434.8" cy="297.2" r="0.5" fill="#2e1010"/>
<circle cx="454.8" cy="295.4" r="0.5" fill="#2e1010"/>
<circle cx="459.6" cy="297.6" r="0.5" fill="#2e1010"/>
<circle cx="461.3" cy="297.6" r="0.5" fill="#2e1010"/>
<circle cx="463.5" cy="295.0" r="0.5" fill="#2e1010"/>
<circle cx="467.4" cy="294.6" r="0.5" fill="#2e1010"/>
<circle cx="436.3" cy="303.7" r="0.5" fill="#2e1010"/>
<circle cx="440.0" cy="302.6" r="0.5" fill="#2e1010"/>
<circle cx="441.7" cy="303.3" r="0.5" fill="#2e1010"/>
<circle cx="450.0" cy="303.3" r="0.5" fill="#2e1010"/>
<circle cx="460.2" cy="302.0" r="0.5" fill="#2e1010"/>
<circle cx="461.3" cy="305.4" r="0.5" fill="#2e1010"/>
<circle cx="466.1" cy="306.3" r="0.5" fill="#2e1010"/>
<circle cx="457.0" cy="305.9" r="0.5" fill="#2e1010"/>
<circle cx="454.8" cy="308.5" r="0.5" fill="#2e1010"/>
<circle cx="463.0" cy="308.0" r="0.5" fill="#2e1010"/>
<circle cx="435.2" cy="310.2" r="0.5" fill="#2e1010"/>
<circle cx="440.7" cy="308.5" r="0.5" fill="#2e1010"/>
<circle cx="442.8" cy="311.3" r="0.5" fill="#2e1010"/>
<circle cx="454.8" cy="311.3" r="0.5" fill="#2e1010"/>
<circle cx="429.8" cy="314.1" r="0.5" fill="#2e1010"/>
<circle cx="427.6" cy="315.7" r="0.5" fill="#2e1010"/>
<circle cx="432.0" cy="315.7" r="0.5" fill="#2e1010"/>
<circle cx="438.5" cy="315.0" r="0.5" fill="#2e1010"/>
<circle cx="446.1" cy="314.6" r="0.5" fill="#2e1010"/>
<circle cx="448.3" cy="316.3" r="0.5" fill="#2e1010"/>
<circle cx="455.9" cy="314.6" r="0.5" fill="#2e1010"/>
<circle cx="471.1" cy="315.0" r="0.5" fill="#2e1010"/>
<circle cx="474.3" cy="317.8" r="0.5" fill="#2e1010"/>
<circle cx="437.8" cy="318.5" r="0.5" fill="#2e1010"/>
<circle cx="445.0" cy="318.9" r="0.5" fill="#2e1010"/>
<circle cx="450.4" cy="318.5" r="0.5" fill="#2e1010"/>
<circle cx="453.7" cy="320.0" r="0.5" fill="#2e1010"/>
<circle cx="433.0" cy="321.1" r="0.5" fill="#2e1010"/>
<circle cx="441.7" cy="321.5" r="0.5" fill="#2e1010"/>
<circle cx="447.2" cy="322.2" r="0.5" fill="#2e1010"/>
<circle cx="366.5" cy="325.9" r="0.5" fill="#12123e"/>
<circle cx="380.6" cy="327.7" r="0.5" fill="#12123e"/>
<circle cx="386.8" cy="331.6" r="0.5" fill="#12123e"/>
<circle cx="382.8" cy="341.0" r="0.5" fill="#12123e"/>
<circle cx="398.6" cy="341.0" r="0.5" fill="#12123e"/>
<circle cx="390.9" cy="326.7" r="0.5" fill="#12123e"/>
<circle cx="392.4" cy="328.1" r="0.5" fill="#12123e"/>
<circle cx="394.6" cy="328.9" r="0.5" fill="#12123e"/>
<circle cx="395.4" cy="331.1" r="0.5" fill="#12123e"/>
<circle cx="396.1" cy="333.3" r="0.5" fill="#12123e"/>
<circle cx="393.9" cy="330.4" r="0.5" fill="#12123e"/>
<circle cx="444.2" cy="327.7" r="0.5" fill="#12123e"/>
<circle cx="449.0" cy="326.7" r="0.5" fill="#12123e"/>
<circle cx="453.8" cy="328.7" r="0.5" fill="#12123e"/>
<circle cx="446.2" cy="334.4" r="0.5" fill="#12123e"/>
<circle cx="451.0" cy="335.0" r="0.5" fill="#12123e"/>
<circle cx="464.4" cy="332.5" r="0.5" fill="#12123e"/>
<circle cx="474.0" cy="328.1" r="0.5" fill="#12123e"/>
<circle cx="478.8" cy="335.4" r="0.5" fill="#12123e"/>
<circle cx="468.3" cy="339.8" r="0.5" fill="#12123e"/>
<circle cx="472.1" cy="341.2" r="0.5" fill="#12123e"/>
<circle cx="471.2" cy="342.7" r="0.5" fill="#12123e"/>
<circle cx="456.2" cy="340.2" r="0.5" fill="#12123e"/>
<circle cx="451.0" cy="345.0" r="0.5" fill="#12123e"/>
<circle cx="455.8" cy="346.9" r="0.5" fill="#12123e"/>
<circle cx="443.8" cy="347.9" r="0.5" fill="#12123e"/>
<circle cx="486.5" cy="336.9" r="0.5" fill="#12123e"/>
<circle cx="489.4" cy="341.5" r="0.5" fill="#12123e"/>
<circle cx="490.4" cy="341.5" r="0.5" fill="#12123e"/>
<circle cx="488.5" cy="324.2" r="0.5" fill="#12123e"/>
<circle cx="446.2" cy="339.2" r="0.5" fill="#12123e"/>
<circle cx="408.3" cy="325.9" r="0.5" fill="#12123e"/>
<circle cx="415.6" cy="350.5" r="0.5" fill="#12123e"/>
<circle cx="430.0" cy="334.0" r="0.5" fill="#12123e"/>
<circle cx="424.5" cy="352.5" r="0.5" fill="#12123e"/>
<circle cx="415.5" cy="345.1" r="0.5" fill="#12123e"/>
<circle cx="420.2" cy="361.9" r="0.5" fill="#12123e"/>
<circle cx="420.0" cy="359.8" r="0.5" fill="#12123e"/>
<circle cx="418.0" cy="337.6" r="0.5" fill="#12123e"/>
<circle cx="413.0" cy="333.2" r="0.5" fill="#12123e"/>
<circle cx="428.4" cy="345.5" r="0.5" fill="#12123e"/>
<circle cx="417.1" cy="338.5" r="0.5" fill="#12123e"/>
<circle cx="422.7" cy="361.6" r="0.5" fill="#12123e"/>
<circle cx="423.5" cy="357.2" r="0.5" fill="#12123e"/>
<circle cx="424.2" cy="354.6" r="0.5" fill="#12123e"/>
<circle cx="414.4" cy="348.9" r="0.5" fill="#12123e"/>
<circle cx="412.7" cy="337.8" r="0.5" fill="#12123e"/>
<circle cx="431.1" cy="349.1" r="0.5" fill="#12123e"/>
<circle cx="423.0" cy="361.1" r="0.5" fill="#12123e"/>
<circle cx="414.5" cy="336.7" r="0.5" fill="#12123e"/>
<circle cx="426.2" cy="345.4" r="0.5" fill="#12123e"/>
<circle cx="425.9" cy="332.5" r="0.5" fill="#12123e"/>
<circle cx="417.6" cy="350.9" r="0.5" fill="#12123e"/>
<circle cx="426.4" cy="358.7" r="0.5" fill="#12123e"/>
<circle cx="415.2" cy="332.7" r="0.5" fill="#12123e"/>
<circle cx="431.3" cy="341.7" r="0.5" fill="#12123e"/>
<circle cx="416.5" cy="329.8" r="0.5" fill="#12123e"/>
<circle cx="409.1" cy="329.9" r="0.5" fill="#12123e"/>
<circle cx="426.9" cy="351.5" r="0.5" fill="#12123e"/>
<circle cx="428.2" cy="343.7" r="0.5" fill="#12123e"/>
<circle cx="433.0" cy="339.1" r="0.5" fill="#12123e"/>
<circle cx="405.5" cy="326.9" r="0.5" fill="#12123e"/>
<circle cx="429.7" cy="352.0" r="0.5" fill="#12123e"/>
<circle cx="420.6" cy="353.5" r="0.5" fill="#12123e"/>
<circle cx="420.0" cy="361.5" r="0.5" fill="#12123e"/>
<circle cx="411.2" cy="339.2" r="0.5" fill="#12123e"/>
<circle cx="414.5" cy="327.1" r="0.5" fill="#12123e"/>
<circle cx="432.7" cy="327.3" r="0.5" fill="#12123e"/>
<circle cx="432.1" cy="332.6" r="0.5" fill="#12123e"/>
<circle cx="413.9" cy="332.2" r="0.5" fill="#12123e"/>
<circle cx="428.9" cy="344.6" r="0.5" fill="#12123e"/>
<circle cx="429.4" cy="344.6" r="0.5" fill="#12123e"/>
<circle cx="424.7" cy="351.7" r="0.5" fill="#12123e"/>
<circle cx="438.1" cy="330.0" r="0.5" fill="#12123e"/>
<circle cx="424.1" cy="359.9" r="0.5" fill="#12123e"/>
<circle cx="430.4" cy="331.6" r="0.5" fill="#12123e"/>
<circle cx="413.8" cy="341.0" r="0.5" fill="#12123e"/>
<circle cx="415.4" cy="336.7" r="0.5" fill="#12123e"/>
<circle cx="418.4" cy="345.3" r="0.5" fill="#12123e"/>
<circle cx="423.9" cy="352.3" r="0.5" fill="#12123e"/>
<circle cx="426.7" cy="347.9" r="0.5" fill="#12123e"/>
<circle cx="432.7" cy="332.9" r="0.5" fill="#12123e"/>
<circle cx="430.3" cy="340.1" r="0.5" fill="#12123e"/>
<circle cx="410.3" cy="332.7" r="0.5" fill="#12123e"/>
<circle cx="419.9" cy="351.0" r="0.5" fill="#12123e"/>
<circle cx="411.8" cy="327.9" r="0.5" fill="#12123e"/>
<circle cx="433.9" cy="343.0" r="0.5" fill="#12123e"/>
<circle cx="408.3" cy="335.6" r="0.5" fill="#12123e"/>
<circle cx="415.3" cy="343.1" r="0.5" fill="#12123e"/>
<circle cx="408.1" cy="325.7" r="0.5" fill="#12123e"/>
<circle cx="421.4" cy="353.2" r="0.5" fill="#12123e"/>
<circle cx="418.8" cy="346.6" r="0.5" fill="#12123e"/>
<circle cx="437.4" cy="334.0" r="0.5" fill="#12123e"/>
<circle cx="413.1" cy="345.2" r="0.5" fill="#12123e"/>
<circle cx="415.7" cy="346.5" r="0.5" fill="#12123e"/>
<circle cx="425.7" cy="345.3" r="0.5" fill="#12123e"/>
<circle cx="428.2" cy="344.5" r="0.5" fill="#12123e"/>
<circle cx="432.1" cy="339.6" r="0.5" fill="#12123e"/>
<circle cx="415.7" cy="333.6" r="0.5" fill="#12123e"/>
<circle cx="428.9" cy="334.3" r="0.5" fill="#12123e"/>
<circle cx="422.9" cy="360.3" r="0.5" fill="#12123e"/>
<circle cx="421.6" cy="361.4" r="0.5" fill="#12123e"/>
<circle cx="438.7" cy="334.6" r="0.5" fill="#12123e"/>
<circle cx="409.1" cy="330.6" r="0.5" fill="#12123e"/>
<circle cx="410.5" cy="327.1" r="0.5" fill="#12123e"/>
<circle cx="410.9" cy="341.6" r="0.5" fill="#12123e"/>
<circle cx="419.4" cy="354.8" r="0.5" fill="#12123e"/>
<circle cx="433.6" cy="342.9" r="0.5" fill="#12123e"/>
<circle cx="424.6" cy="355.7" r="0.5" fill="#12123e"/>
<circle cx="415.6" cy="331.7" r="0.5" fill="#12123e"/>
<circle cx="441.2" cy="327.6" r="0.5" fill="#12123e"/>
<circle cx="412.7" cy="337.3" r="0.5" fill="#12123e"/>
<circle cx="425.2" cy="360.0" r="0.5" fill="#12123e"/>
<circle cx="435.9" cy="326.9" r="0.5" fill="#12123e"/>
<circle cx="433.5" cy="340.2" r="0.5" fill="#12123e"/>
<circle cx="426.1" cy="358.7" r="0.5" fill="#12123e"/>
<circle cx="433.5" cy="341.1" r="0.5" fill="#12123e"/>
<circle cx="415.9" cy="342.1" r="0.5" fill="#12123e"/>
<circle cx="423.0" cy="357.3" r="0.5" fill="#12123e"/>
<circle cx="412.8" cy="339.4" r="0.5" fill="#12123e"/>
<circle cx="420.8" cy="360.5" r="0.5" fill="#12123e"/>
<circle cx="414.6" cy="335.4" r="0.5" fill="#12123e"/>
<circle cx="411.2" cy="338.0" r="0.5" fill="#12123e"/>
<circle cx="430.0" cy="335.0" r="0.5" fill="#12123e"/>
<circle cx="420.6" cy="353.0" r="0.5" fill="#12123e"/>
<circle cx="432.6" cy="335.2" r="0.5" fill="#12123e"/>
<circle cx="414.0" cy="328.4" r="0.5" fill="#12123e"/>
<circle cx="428.3" cy="345.3" r="0.5" fill="#12123e"/>
<circle cx="424.5" cy="350.7" r="0.5" fill="#12123e"/>
<circle cx="419.5" cy="347.4" r="0.5" fill="#12123e"/>
<circle cx="426.4" cy="345.5" r="0.5" fill="#12123e"/>
<circle cx="429.3" cy="351.3" r="0.5" fill="#12123e"/>
<circle cx="425.0" cy="357.8" r="0.5" fill="#12123e"/>
<circle cx="419.3" cy="353.5" r="0.5" fill="#12123e"/>
<circle cx="426.2" cy="354.2" r="0.5" fill="#12123e"/>
<circle cx="421.1" cy="356.7" r="0.5" fill="#12123e"/>
<circle cx="431.8" cy="328.2" r="0.5" fill="#12123e"/>
<circle cx="423.6" cy="360.9" r="0.5" fill="#12123e"/>
<circle cx="423.7" cy="355.3" r="0.5" fill="#12123e"/>
<circle cx="414.8" cy="342.0" r="0.5" fill="#12123e"/>
<circle cx="433.5" cy="330.4" r="0.5" fill="#12123e"/>
<circle cx="434.5" cy="339.7" r="0.5" fill="#12123e"/>
<circle cx="433.9" cy="337.8" r="0.5" fill="#12123e"/>
<circle cx="415.7" cy="332.4" r="0.5" fill="#12123e"/>
<circle cx="437.4" cy="331.4" r="0.5" fill="#12123e"/>
<circle cx="419.5" cy="347.1" r="0.5" fill="#12123e"/>
<circle cx="421.5" cy="354.2" r="0.5" fill="#12123e"/>
<circle cx="415.2" cy="348.7" r="0.5" fill="#12123e"/>
<circle cx="439.7" cy="329.1" r="0.5" fill="#12123e"/>
<circle cx="409.8" cy="338.2" r="0.5" fill="#12123e"/>
<circle cx="410.7" cy="340.6" r="0.5" fill="#12123e"/>
<circle cx="428.5" cy="336.4" r="0.5" fill="#12123e"/>
<circle cx="428.3" cy="340.2" r="0.5" fill="#12123e"/>
<circle cx="405.6" cy="326.8" r="0.5" fill="#12123e"/>
<circle cx="424.1" cy="361.1" r="0.5" fill="#12123e"/>
<circle cx="419.6" cy="358.3" r="0.5" fill="#12123e"/>
<circle cx="426.8" cy="357.3" r="0.5" fill="#12123e"/>
<circle cx="416.0" cy="338.6" r="0.5" fill="#12123e"/>
<circle cx="419.4" cy="357.7" r="0.5" fill="#12123e"/>
<circle cx="442.1" cy="326.0" r="0.5" fill="#12123e"/>
<circle cx="418.0" cy="346.2" r="0.5" fill="#12123e"/>
<circle cx="420.4" cy="349.2" r="0.5" fill="#12123e"/>
<circle cx="426.7" cy="349.6" r="0.5" fill="#12123e"/>
<circle cx="433.3" cy="331.4" r="0.5" fill="#12123e"/>
<circle cx="435.4" cy="334.0" r="0.5" fill="#12123e"/>
<circle cx="422.4" cy="360.3" r="0.5" fill="#12123e"/>
<circle cx="418.0" cy="351.6" r="0.5" fill="#12123e"/>
<circle cx="415.3" cy="346.2" r="0.5" fill="#12123e"/>
<circle cx="417.9" cy="342.4" r="0.5" fill="#12123e"/>
<circle cx="422.0" cy="360.2" r="0.5" fill="#12123e"/>
<circle cx="430.0" cy="347.2" r="0.5" fill="#12123e"/>
<circle cx="426.4" cy="353.8" r="0.5" fill="#12123e"/>
<circle cx="417.6" cy="353.5" r="0.5" fill="#12123e"/>
<circle cx="427.9" cy="350.6" r="0.5" fill="#12123e"/>
<circle cx="417.1" cy="335.8" r="0.5" fill="#12123e"/>
<circle cx="416.0" cy="342.0" r="0.5" fill="#12123e"/>
<circle cx="435.7" cy="339.8" r="0.5" fill="#12123e"/>
<circle cx="436.4" cy="330.2" r="0.5" fill="#12123e"/>
<circle cx="417.4" cy="335.5" r="0.5" fill="#12123e"/>
<circle cx="424.7" cy="350.9" r="0.5" fill="#12123e"/>
<circle cx="420.6" cy="358.3" r="0.5" fill="#12123e"/>
<circle cx="419.9" cy="345.8" r="0.5" fill="#12123e"/>
<circle cx="432.7" cy="342.6" r="0.5" fill="#12123e"/>
<circle cx="420.5" cy="359.6" r="0.5" fill="#12123e"/>
<circle cx="423.2" cy="360.2" r="0.5" fill="#12123e"/>
<circle cx="419.4" cy="357.7" r="0.5" fill="#12123e"/>
<circle cx="435.9" cy="328.0" r="0.5" fill="#12123e"/>
<circle cx="410.9" cy="336.6" r="0.5" fill="#12123e"/>
<circle cx="426.3" cy="351.4" r="0.5" fill="#12123e"/>
<circle cx="420.7" cy="357.2" r="0.5" fill="#12123e"/>
<circle cx="412.1" cy="331.1" r="0.5" fill="#12123e"/>
<circle cx="406.3" cy="328.7" r="0.5" fill="#12123e"/>
<circle cx="429.8" cy="339.2" r="0.5" fill="#12123e"/>
<circle cx="438.9" cy="330.0" r="0.5" fill="#12123e"/>
<circle cx="420.7" cy="361.9" r="0.5" fill="#12123e"/>
<circle cx="423.6" cy="341.3" r="0.5" fill="#12123e"/>
<circle cx="420.4" cy="357.8" r="0.5" fill="#12123e"/>
<circle cx="418.2" cy="350.6" r="0.5" fill="#12123e"/>
<circle cx="426.5" cy="355.6" r="0.5" fill="#12123e"/>
<circle cx="423.3" cy="355.8" r="0.5" fill="#12123e"/>
<circle cx="408.0" cy="334.6" r="0.5" fill="#12123e"/>
<circle cx="424.6" cy="359.0" r="0.5" fill="#12123e"/>
<circle cx="424.3" cy="357.4" r="0.5" fill="#12123e"/>
<circle cx="415.0" cy="346.9" r="0.5" fill="#12123e"/>
<circle cx="433.7" cy="338.0" r="0.5" fill="#12123e"/>
<circle cx="416.0" cy="347.5" r="0.5" fill="#12123e"/>
<circle cx="413.0" cy="339.5" r="0.5" fill="#12123e"/>
<circle cx="423.2" cy="358.7" r="0.5" fill="#12123e"/>
<circle cx="427.6" cy="343.7" r="0.5" fill="#12123e"/>
<circle cx="429.1" cy="338.5" r="0.5" fill="#12123e"/>
<circle cx="422.6" cy="358.7" r="0.5" fill="#12123e"/>
<circle cx="416.5" cy="349.9" r="0.5" fill="#12123e"/>
<circle cx="423.5" cy="357.2" r="0.5" fill="#12123e"/>
<circle cx="414.7" cy="337.1" r="0.5" fill="#12123e"/>
<circle cx="416.6" cy="341.0" r="0.5" fill="#12123e"/>
<circle cx="415.7" cy="334.8" r="0.5" fill="#12123e"/>
<circle cx="424.9" cy="357.9" r="0.5" fill="#12123e"/>
<circle cx="424.1" cy="351.7" r="0.5" fill="#12123e"/>
<circle cx="415.6" cy="336.4" r="0.5" fill="#12123e"/>
<circle cx="430.0" cy="337.8" r="0.5" fill="#12123e"/>
<circle cx="421.7" cy="360.0" r="0.5" fill="#12123e"/>
<circle cx="428.6" cy="348.4" r="0.5" fill="#12123e"/>
<circle cx="412.8" cy="333.2" r="0.5" fill="#12123e"/>
<circle cx="433.7" cy="328.1" r="0.5" fill="#12123e"/>
<circle cx="423.0" cy="359.1" r="0.5" fill="#12123e"/>
<circle cx="419.8" cy="351.9" r="0.5" fill="#12123e"/>
<circle cx="410.6" cy="325.5" r="0.5" fill="#12123e"/>
<circle cx="415.4" cy="336.7" r="0.5" fill="#12123e"/>
<circle cx="432.4" cy="342.8" r="0.5" fill="#12123e"/>
<circle cx="421.6" cy="356.0" r="0.5" fill="#12123e"/>
<circle cx="416.3" cy="352.6" r="0.5" fill="#12123e"/>
<circle cx="412.7" cy="332.6" r="0.5" fill="#12123e"/>
<circle cx="422.3" cy="361.8" r="0.5" fill="#12123e"/>
<circle cx="424.3" cy="331.7" r="0.5" fill="#12123e"/>
<circle cx="432.8" cy="334.2" r="0.5" fill="#12123e"/>
<circle cx="422.3" cy="361.4" r="0.5" fill="#12123e"/>
<circle cx="415.3" cy="332.3" r="0.5" fill="#12123e"/>
<circle cx="435.7" cy="337.5" r="0.5" fill="#12123e"/>
<circle cx="433.4" cy="340.2" r="0.5" fill="#12123e"/>
<circle cx="415.5" cy="349.0" r="0.5" fill="#12123e"/>
<circle cx="414.4" cy="335.9" r="0.5" fill="#12123e"/>
<circle cx="427.6" cy="348.9" r="0.5" fill="#12123e"/>
<circle cx="428.9" cy="352.2" r="0.5" fill="#12123e"/>
<circle cx="430.1" cy="345.6" r="0.5" fill="#12123e"/>
<circle cx="415.5" cy="332.9" r="0.5" fill="#12123e"/>
<circle cx="429.9" cy="350.8" r="0.5" fill="#12123e"/>
<circle cx="434.5" cy="332.1" r="0.5" fill="#12123e"/>
<circle cx="405.3" cy="329.3" r="0.5" fill="#12123e"/>
<circle cx="434.1" cy="332.4" r="0.5" fill="#12123e"/>
<circle cx="442.1" cy="327.2" r="0.5" fill="#12123e"/>
<circle cx="419.3" cy="354.2" r="0.5" fill="#12123e"/>
<circle cx="415.6" cy="338.9" r="0.5" fill="#12123e"/>
<circle cx="442.0" cy="326.3" r="0.5" fill="#12123e"/>
<circle cx="428.3" cy="353.1" r="0.5" fill="#12123e"/>
<circle cx="423.2" cy="360.2" r="0.5" fill="#12123e"/>
<circle cx="422.8" cy="358.1" r="0.5" fill="#12123e"/>
<circle cx="433.4" cy="345.0" r="0.5" fill="#12123e"/>
<circle cx="436.3" cy="334.5" r="0.5" fill="#12123e"/>
<circle cx="419.9" cy="347.4" r="0.5" fill="#12123e"/>
<circle cx="437.4" cy="334.8" r="0.5" fill="#12123e"/>
<circle cx="414.4" cy="344.9" r="0.5" fill="#12123e"/>
<circle cx="408.6" cy="327.9" r="0.5" fill="#12123e"/>
<circle cx="425.6" cy="346.4" r="0.5" fill="#12123e"/>
<circle cx="420.1" cy="352.7" r="0.5" fill="#12123e"/>
<circle cx="415.0" cy="325.9" r="0.5" fill="#12123e"/>
<circle cx="419.9" cy="357.4" r="0.5" fill="#12123e"/>
<circle cx="420.7" cy="358.9" r="0.5" fill="#12123e"/>
<circle cx="412.7" cy="335.0" r="0.5" fill="#12123e"/>
<circle cx="416.6" cy="330.6" r="0.5" fill="#12123e"/>
<circle cx="424.2" cy="353.3" r="0.5" fill="#12123e"/>
<circle cx="436.4" cy="330.3" r="0.5" fill="#12123e"/>
<circle cx="418.6" cy="325.9" r="0.5" fill="#12123e"/>
<circle cx="437.5" cy="335.3" r="0.5" fill="#12123e"/>
<circle cx="427.8" cy="338.3" r="0.5" fill="#12123e"/>
<circle cx="434.2" cy="342.5" r="0.5" fill="#12123e"/>
<circle cx="436.8" cy="338.3" r="0.5" fill="#12123e"/>
<circle cx="430.6" cy="336.6" r="0.5" fill="#12123e"/>
<circle cx="425.3" cy="360.7" r="0.5" fill="#12123e"/>
<circle cx="433.1" cy="340.4" r="0.5" fill="#12123e"/>
<circle cx="418.0" cy="346.8" r="0.5" fill="#12123e"/>
<circle cx="427.9" cy="354.8" r="0.5" fill="#12123e"/>
<circle cx="423.9" cy="355.9" r="0.5" fill="#12123e"/>
<circle cx="423.2" cy="361.6" r="0.5" fill="#12123e"/>
<circle cx="418.8" cy="354.0" r="0.5" fill="#12123e"/>
<circle cx="422.6" cy="357.8" r="0.5" fill="#12123e"/>
<circle cx="424.0" cy="362.0" r="0.5" fill="#12123e"/>
<circle cx="420.2" cy="361.4" r="0.5" fill="#12123e"/>
<circle cx="422.4" cy="360.2" r="0.5" fill="#12123e"/>
<circle cx="422.6" cy="354.2" r="0.5" fill="#12123e"/>
<circle cx="426.2" cy="361.0" r="0.5" fill="#12123e"/>
<circle cx="422.7" cy="360.9" r="0.5" fill="#12123e"/>
<circle cx="424.0" cy="353.8" r="0.5" fill="#12123e"/>
<circle cx="422.1" cy="354.1" r="0.5" fill="#12123e"/>
<circle cx="423.6" cy="354.5" r="0.5" fill="#12123e"/>
<circle cx="422.3" cy="353.2" r="0.5" fill="#12123e"/>
<circle cx="423.1" cy="356.4" r="0.5" fill="#12123e"/>
<circle cx="422.7" cy="354.6" r="0.5" fill="#12123e"/>
<circle cx="420.6" cy="354.6" r="0.5" fill="#12123e"/>
<circle cx="427.4" cy="360.7" r="0.5" fill="#12123e"/>
<circle cx="422.3" cy="358.5" r="0.5" fill="#12123e"/>
<circle cx="419.5" cy="360.3" r="0.5" fill="#12123e"/>
<circle cx="421.1" cy="356.1" r="0.5" fill="#12123e"/>
<circle cx="421.6" cy="355.3" r="0.5" fill="#12123e"/>
<circle cx="417.0" cy="357.1" r="0.5" fill="#12123e"/>
<circle cx="426.5" cy="353.7" r="0.5" fill="#12123e"/>
<circle cx="418.3" cy="357.2" r="0.5" fill="#12123e"/>
<circle cx="423.1" cy="359.7" r="0.5" fill="#12123e"/>
<circle cx="423.2" cy="359.3" r="0.5" fill="#12123e"/>
<circle cx="422.9" cy="353.5" r="0.5" fill="#12123e"/>
<circle cx="421.8" cy="354.8" r="0.5" fill="#12123e"/>
<circle cx="424.6" cy="353.3" r="0.5" fill="#12123e"/>
<circle cx="428.2" cy="359.5" r="0.5" fill="#12123e"/>
<circle cx="422.7" cy="362.0" r="0.5" fill="#12123e"/>
<circle cx="416.8" cy="361.2" r="0.5" fill="#12123e"/>
<circle cx="422.8" cy="358.9" r="0.5" fill="#12123e"/>
<circle cx="419.8" cy="355.1" r="0.5" fill="#12123e"/>
<circle cx="422.1" cy="356.6" r="0.5" fill="#12123e"/>
<circle cx="422.2" cy="361.1" r="0.5" fill="#12123e"/>
<circle cx="421.0" cy="357.8" r="0.5" fill="#12123e"/>
<circle cx="419.1" cy="359.1" r="0.5" fill="#12123e"/>
<circle cx="419.9" cy="354.3" r="0.5" fill="#12123e"/>
<circle cx="422.5" cy="353.3" r="0.5" fill="#12123e"/>
<circle cx="422.6" cy="362.0" r="0.5" fill="#12123e"/>
<circle cx="417.4" cy="360.4" r="0.5" fill="#12123e"/>
<circle cx="419.2" cy="356.0" r="0.5" fill="#12123e"/>
<circle cx="427.6" cy="357.3" r="0.5" fill="#12123e"/>
<circle cx="399.9" cy="292.4" r="0.5" fill="#2e1010"/>
<circle cx="402.6" cy="317.0" r="0.5" fill="#2e1010"/>
<circle cx="400.1" cy="287.3" r="0.5" fill="#2e1010"/>
<circle cx="398.1" cy="320.0" r="0.5" fill="#2e1010"/>
<circle cx="401.8" cy="307.9" r="0.5" fill="#2e1010"/>
<circle cx="400.5" cy="284.0" r="0.5" fill="#2e1010"/>
<circle cx="400.7" cy="285.3" r="0.5" fill="#2e1010"/>
<circle cx="404.2" cy="301.7" r="0.5" fill="#2e1010"/>
<circle cx="403.9" cy="308.3" r="0.5" fill="#2e1010"/>
<circle cx="408.3" cy="323.3" r="0.5" fill="#2e1010"/>
<circle cx="399.9" cy="311.3" r="0.5" fill="#2e1010"/>
<circle cx="400.9" cy="290.7" r="0.5" fill="#2e1010"/>
<circle cx="409.6" cy="299.5" r="0.5" fill="#2e1010"/>
<circle cx="402.8" cy="321.9" r="0.5" fill="#2e1010"/>
<circle cx="415.5" cy="316.8" r="0.5" fill="#2e1010"/>
<circle cx="408.9" cy="319.2" r="0.5" fill="#2e1010"/>
<circle cx="410.3" cy="321.8" r="0.5" fill="#2e1010"/>
<circle cx="401.0" cy="315.4" r="0.5" fill="#2e1010"/>
<circle cx="405.1" cy="324.0" r="0.5" fill="#2e1010"/>
<circle cx="408.2" cy="307.0" r="0.5" fill="#2e1010"/>
<circle cx="403.7" cy="320.0" r="0.5" fill="#2e1010"/>
<circle cx="408.8" cy="322.1" r="0.5" fill="#2e1010"/>
<circle cx="433.5" cy="296.4" r="0.5" fill="#2e1010"/>
<circle cx="438.8" cy="293.9" r="0.5" fill="#2e1010"/>
<circle cx="443.5" cy="291.5" r="0.5" fill="#2e1010"/>
<circle cx="436.8" cy="313.5" r="0.5" fill="#2e1010"/>
<circle cx="439.2" cy="310.3" r="0.5" fill="#2e1010"/>
<circle cx="442.1" cy="321.4" r="0.5" fill="#2e1010"/>
<circle cx="439.0" cy="299.4" r="0.5" fill="#2e1010"/>
<circle cx="446.8" cy="300.5" r="0.5" fill="#2e1010"/>
<circle cx="441.5" cy="318.8" r="0.5" fill="#2e1010"/>
<circle cx="440.9" cy="308.8" r="0.5" fill="#2e1010"/>
<circle cx="444.8" cy="292.2" r="0.5" fill="#2e1010"/>
<circle cx="432.4" cy="307.3" r="0.5" fill="#2e1010"/>
<line x1="71.20" y1="257.30" x2="71.20" y2="363.80" stroke="#4a4a4a" stroke-width="1.3" />
<line x1="96.00" y1="257.30" x2="96.00" y2="363.80" stroke="#4a4a4a" stroke-width="1.3" />
<line x1="19.70" y1="335.70" x2="146.50" y2="335.70" stroke="#4a4a4a" stroke-width="1.3" />
<line x1="240.80" y1="251.40" x2="240.80" y2="363.80" stroke="#4a4a4a" stroke-width="1.3" />
<line x1="260.80" y1="251.40" x2="260.80" y2="363.80" stroke="#4a4a4a" stroke-width="1.3" />
<line x1="180.00" y1="338.80" x2="321.00" y2="338.80" stroke="#4a4a4a" stroke-width="1.3" />
<line x1="404.30" y1="244.20" x2="404.30" y2="363.50" stroke="#4a4a4a" stroke-width="1.3" />
<line x1="440.70" y1="244.20" x2="440.70" y2="363.50" stroke="#4a4a4a" stroke-width="1.3" />
<line x1="349.30" y1="324.40" x2="494.50" y2="324.40" stroke="#4a4a4a" stroke-width="1.3" />
<line x1="19.70" y1="257.30" x2="19.70" y2="363.70" stroke="#8a8a8a" stroke-width="0.9" />
<line x1="19.70" y1="364.90" x2="146.50" y2="364.90" stroke="#999" stroke-width="1.1" />
<text x="21.40" y="371.72" font-size="5.6" fill="#111" text-anchor="middle" font-weight="normal" >-32</text>
<text x="33.50" y="371.72" font-size="5.6" fill="#111" text-anchor="middle" font-weight="normal" >-16</text>
<text x="45.50" y="371.72" font-size="5.6" fill="#111" text-anchor="middle" font-weight="normal" >-8</text>
<text x="58.90" y="371.72" font-size="5.6" fill="#111" text-anchor="middle" font-weight="normal" >-4</text>
<text x="70.80" y="371.72" font-size="5.6" fill="#111" text-anchor="middle" font-weight="normal" >-2</text>
<text x="83.30" y="371.72" font-size="5.6" fill="#111" text-anchor="middle" font-weight="normal" >N/C</text>
<text x="96.00" y="371.72" font-size="5.6" fill="#111" text-anchor="middle" font-weight="normal" >2</text>
<text x="108.80" y="371.72" font-size="5.6" fill="#111" text-anchor="middle" font-weight="normal" >4</text>
<text x="121.20" y="371.72" font-size="5.6" fill="#111" text-anchor="middle" font-weight="normal" >8</text>
<text x="133.50" y="371.72" font-size="5.6" fill="#111" text-anchor="middle" font-weight="normal" >16</text>
<text x="146.50" y="371.72" font-size="5.6" fill="#111" text-anchor="middle" font-weight="normal" >32</text>
<text x="83.20" y="377.29" font-size="5.8" fill="#111" text-anchor="middle" font-weight="normal" textLength="54.5" lengthAdjust="spacingAndGlyphs" >MeanRatio (Post/Inf)</text>
<text x="18.30" y="260.12" font-size="5.9" fill="#111" stroke="#111" stroke-width="0.08" text-anchor="end">1*10<tspan font-size="5.02" dy="-2.24">5</tspan></text>
<text x="18.30" y="281.12" font-size="5.9" fill="#111" stroke="#111" stroke-width="0.08" text-anchor="end">1*10<tspan font-size="5.02" dy="-2.24">4</tspan></text>
<text x="18.30" y="302.82" font-size="5.9" fill="#111" stroke="#111" stroke-width="0.08" text-anchor="end">1*10<tspan font-size="5.02" dy="-2.24">3</tspan></text>
<text x="18.30" y="322.72" font-size="5.9" fill="#111" stroke="#111" stroke-width="0.08" text-anchor="end">1*10<tspan font-size="5.02" dy="-2.24">2</tspan></text>
<text x="18.30" y="344.62" font-size="5.9" fill="#111" stroke="#111" stroke-width="0.08" text-anchor="end">1*10<tspan font-size="5.02" dy="-2.24">1</tspan></text>
<text x="18.30" y="363.12" font-size="5.9" fill="#111" stroke="#111" stroke-width="0.08" text-anchor="end">1<tspan font-size="5.02" dy="-2.24"></tspan></text>
<text x="0" y="0" font-size="4.6" fill="#111" text-anchor="middle" transform="translate(6.0,309.3) rotate(-90)" textLength="19" lengthAdjust="spacingAndGlyphs">P-value</text>
<text x="51.60" y="240.60" font-size="13.6" fill="#000" text-anchor="start" font-weight="normal" textLength="66" lengthAdjust="spacingAndGlyphs" stroke="#000" stroke-width="0.15">Post vs Inf</text>
<text x="21.90" y="253.80" font-size="12.5" fill="#000" text-anchor="start" font-weight="normal" textLength="48.1" lengthAdjust="spacingAndGlyphs" stroke="#000" stroke-width="0.1">24 down</text>
<text x="101.20" y="253.80" font-size="12.5" fill="#000" text-anchor="start" font-weight="normal" textLength="38.1" lengthAdjust="spacingAndGlyphs" stroke="#000" stroke-width="0.1">132 up</text>
<line x1="179.60" y1="251.40" x2="179.60" y2="363.70" stroke="#8a8a8a" stroke-width="0.9" />
<line x1="179.60" y1="364.90" x2="321.00" y2="364.90" stroke="#999" stroke-width="1.1" />
<text x="178.60" y="372.60" font-size="5.0" fill="#111" text-anchor="middle" font-weight="normal" >-128</text>
<text x="200.60" y="372.60" font-size="5.0" fill="#111" text-anchor="middle" font-weight="normal" >-32</text>
<text x="221.00" y="372.60" font-size="5.0" fill="#111" text-anchor="middle" font-weight="normal" >-8</text>
<text x="240.80" y="372.60" font-size="5.0" fill="#111" text-anchor="middle" font-weight="normal" >-2</text>
<text x="260.80" y="372.60" font-size="5.0" fill="#111" text-anchor="middle" font-weight="normal" >2</text>
<text x="280.60" y="372.60" font-size="5.0" fill="#111" text-anchor="middle" font-weight="normal" >8</text>
<text x="300.80" y="372.60" font-size="5.0" fill="#111" text-anchor="middle" font-weight="normal" >32</text>
<text x="320.80" y="372.60" font-size="5.0" fill="#111" text-anchor="middle" font-weight="normal" >128</text>
<text x="251.00" y="377.97" font-size="5.2" fill="#111" text-anchor="middle" font-weight="normal" textLength="48.4" lengthAdjust="spacingAndGlyphs" >MeanRatio (Inf/Pre)</text>
<text x="178.20" y="253.54" font-size="5.4" fill="#111" stroke="#111" stroke-width="0.08" text-anchor="end">1*10<tspan font-size="4.59" dy="-2.05">-6</tspan></text>
<text x="178.20" y="271.54" font-size="5.4" fill="#111" stroke="#111" stroke-width="0.08" text-anchor="end">1*10<tspan font-size="4.59" dy="-2.05">-5</tspan></text>
<text x="178.20" y="291.54" font-size="5.4" fill="#111" stroke="#111" stroke-width="0.08" text-anchor="end">1*10<tspan font-size="4.59" dy="-2.05">-4</tspan></text>
<text x="178.20" y="309.14" font-size="5.4" fill="#111" stroke="#111" stroke-width="0.08" text-anchor="end">1*10<tspan font-size="4.59" dy="-2.05">-3</tspan></text>
<text x="178.20" y="328.04" font-size="5.4" fill="#111" stroke="#111" stroke-width="0.08" text-anchor="end">1*10<tspan font-size="4.59" dy="-2.05">-2</tspan></text>
<text x="178.20" y="345.94" font-size="5.4" fill="#111" stroke="#111" stroke-width="0.08" text-anchor="end">1*10<tspan font-size="4.59" dy="-2.05">-1</tspan></text>
<text x="178.20" y="362.34" font-size="5.4" fill="#111" stroke="#111" stroke-width="0.08" text-anchor="end">1<tspan font-size="4.59" dy="-2.05"></tspan></text>
<text x="0" y="0" font-size="4.6" fill="#111" text-anchor="middle" transform="translate(162.0,307.2) rotate(-90)" textLength="15.6" lengthAdjust="spacingAndGlyphs">P-value</text>
<text x="217.50" y="239.40" font-size="13.6" fill="#000" text-anchor="start" font-weight="normal" textLength="61.7" lengthAdjust="spacingAndGlyphs" stroke="#000" stroke-width="0.15">Inf vs Pre</text>
<text x="183.40" y="250.00" font-size="12.5" fill="#000" text-anchor="start" font-weight="normal" textLength="55.3" lengthAdjust="spacingAndGlyphs" stroke="#000" stroke-width="0.1">135 down</text>
<text x="271.00" y="250.00" font-size="12.5" fill="#000" text-anchor="start" font-weight="normal" textLength="32" lengthAdjust="spacingAndGlyphs" stroke="#000" stroke-width="0.1">35 up</text>
<rect x="308.3" y="242.9" width="16.8" height="12.1" fill="#fff" stroke="#999" stroke-width="0.6"/>
<line x1="321.74" y1="245.93" x2="321.74" y2="255.00" stroke="#aaa" stroke-width="0.5" />
<line x1="308.30" y1="245.93" x2="325.10" y2="245.93" stroke="#bbb" stroke-width="0.4" />
<line x1="309.64" y1="245.32" x2="320.90" y2="245.32" stroke="#8a8a8a" stroke-width="1.1" stroke-dasharray="1.6 0.6"/>
<line x1="309.64" y1="248.95" x2="320.40" y2="248.95" stroke="#8a8a8a" stroke-width="1.1" stroke-dasharray="1.6 0.6"/>
<line x1="309.64" y1="252.58" x2="320.40" y2="252.58" stroke="#8a8a8a" stroke-width="1.1" stroke-dasharray="1.6 0.6"/>
<line x1="349.00" y1="244.20" x2="349.00" y2="363.70" stroke="#8a8a8a" stroke-width="0.9" />
<line x1="349.00" y1="364.90" x2="494.50" y2="364.90" stroke="#999" stroke-width="1.1" />
<text x="350.00" y="372.40" font-size="5.0" fill="#111" text-anchor="middle" font-weight="normal" >-16</text>
<text x="368.00" y="372.40" font-size="5.0" fill="#111" text-anchor="middle" font-weight="normal" >-8</text>
<text x="386.30" y="372.40" font-size="5.0" fill="#111" text-anchor="middle" font-weight="normal" >-4</text>
<text x="404.30" y="372.40" font-size="5.0" fill="#111" text-anchor="middle" font-weight="normal" >-2</text>
<text x="422.30" y="372.40" font-size="5.0" fill="#111" text-anchor="middle" font-weight="normal" >N/C</text>
<text x="440.60" y="372.40" font-size="5.0" fill="#111" text-anchor="middle" font-weight="normal" >2</text>
<text x="458.70" y="372.40" font-size="5.0" fill="#111" text-anchor="middle" font-weight="normal" >4</text>
<text x="476.70" y="372.40" font-size="5.0" fill="#111" text-anchor="middle" font-weight="normal" >8</text>
<text x="494.70" y="372.40" font-size="5.0" fill="#111" text-anchor="middle" font-weight="normal" >16</text>
<text x="422.00" y="380.47" font-size="5.2" fill="#111" text-anchor="middle" font-weight="normal" textLength="47.8" lengthAdjust="spacingAndGlyphs" >MeanRatio (Post/Pre)</text>
<text x="347.60" y="245.67" font-size="5.2" fill="#111" stroke="#111" stroke-width="0.08" text-anchor="end">1*10<tspan font-size="4.42" dy="-1.98">-4</tspan></text>
<text x="347.60" y="276.17" font-size="5.2" fill="#111" stroke="#111" stroke-width="0.08" text-anchor="end">1*10<tspan font-size="4.42" dy="-1.98">-3</tspan></text>
<text x="347.60" y="305.67" font-size="5.2" fill="#111" stroke="#111" stroke-width="0.08" text-anchor="end">1*10<tspan font-size="4.42" dy="-1.98">-2</tspan></text>
<text x="347.60" y="335.37" font-size="5.2" fill="#111" stroke="#111" stroke-width="0.08" text-anchor="end">1*10<tspan font-size="4.42" dy="-1.98">-1</tspan></text>
<text x="347.60" y="362.87" font-size="5.2" fill="#111" stroke="#111" stroke-width="0.08" text-anchor="end">1<tspan font-size="4.42" dy="-1.98"></tspan></text>
<text x="0" y="0" font-size="4.6" fill="#111" text-anchor="middle" transform="translate(331.0,303.8) rotate(-90)" textLength="15.6" lengthAdjust="spacingAndGlyphs">P-value</text>
<text x="385.80" y="236.20" font-size="13.6" fill="#000" text-anchor="start" font-weight="normal" textLength="70.9" lengthAdjust="spacingAndGlyphs" stroke="#000" stroke-width="0.15">Post vs Pre</text>
<text x="352.60" y="248.30" font-size="12.5" fill="#000" text-anchor="start" font-weight="normal" textLength="48.5" lengthAdjust="spacingAndGlyphs" stroke="#000" stroke-width="0.1">45 down</text>
<text x="448.30" y="248.30" font-size="12.5" fill="#000" text-anchor="start" font-weight="normal" textLength="32" lengthAdjust="spacingAndGlyphs" stroke="#000" stroke-width="0.1">39 up</text>
<rect x="486.9" y="243.8" width="15.3" height="11.8" fill="#fff" stroke="#999" stroke-width="0.6"/>
<line x1="499.14" y1="246.75" x2="499.14" y2="255.60" stroke="#aaa" stroke-width="0.5" />
<line x1="486.90" y1="246.75" x2="502.20" y2="246.75" stroke="#bbb" stroke-width="0.4" />
<line x1="488.12" y1="246.16" x2="498.38" y2="246.16" stroke="#8a8a8a" stroke-width="1.1" stroke-dasharray="1.6 0.6"/>
<line x1="488.12" y1="249.70" x2="497.92" y2="249.70" stroke="#8a8a8a" stroke-width="1.1" stroke-dasharray="1.6 0.6"/>
<line x1="488.12" y1="253.24" x2="497.92" y2="253.24" stroke="#8a8a8a" stroke-width="1.1" stroke-dasharray="1.6 0.6"/>
</svg></body></html>
